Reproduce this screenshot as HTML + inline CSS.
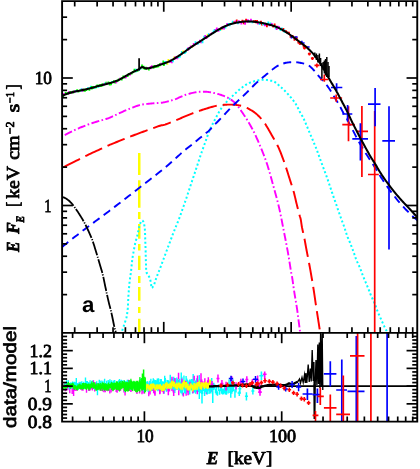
<!DOCTYPE html>
<html><head><meta charset="utf-8"><title>Spectrum</title>
<style>
html,body{margin:0;padding:0;background:#fff;}
body{width:420px;height:469px;overflow:hidden;font-family:"Liberation Sans",sans-serif;}
svg text{fill:#000;text-rendering:geometricPrecision;}
svg{will-change:transform;opacity:0.999;}
</style></head><body>
<svg width="420" height="469" viewBox="0 0 420 469" style="display:block">
<rect width="420" height="469" fill="#fff"/>
<defs><clipPath id="cu"><rect x="62.1" y="1.15" width="355.15" height="331.75"/></clipPath>
<clipPath id="cl"><rect x="62.1" y="332.9" width="355.15" height="88.7"/></clipPath></defs>
<g clip-path="url(#cu)">
<line x1="139.25" y1="153.1" x2="139.25" y2="174.9" stroke="#ffff00" stroke-width="2.5"/>
<line x1="139.25" y1="180.2" x2="139.25" y2="207.8" stroke="#ffff00" stroke-width="2.5"/>
<line x1="139.25" y1="212" x2="139.25" y2="218.9" stroke="#ffff00" stroke-width="2.5"/>
<line x1="139.25" y1="224" x2="139.25" y2="238.8" stroke="#ffff00" stroke-width="2.5"/>
<line x1="139.25" y1="244" x2="139.25" y2="250.4" stroke="#ffff00" stroke-width="2.5"/>
<line x1="139.25" y1="255.8" x2="139.25" y2="269.9" stroke="#ffff00" stroke-width="2.5"/>
<line x1="139.25" y1="275.9" x2="139.25" y2="283" stroke="#ffff00" stroke-width="2.5"/>
<line x1="139.25" y1="287.1" x2="139.25" y2="300.8" stroke="#ffff00" stroke-width="2.5"/>
<line x1="139.25" y1="306.9" x2="139.25" y2="312.9" stroke="#ffff00" stroke-width="2.5"/>
<line x1="139.25" y1="318.8" x2="139.25" y2="334" stroke="#ffff00" stroke-width="2.5"/>
<path d="M121.3 335 L121.38 334.57 L121.5 333.96 L121.64 333.25 L121.79 332.49 L121.95 331.75 L122.1 331.1 L122.25 330.53 L122.41 330 L122.58 329.48 L122.74 328.97 L122.92 328.45 L123.1 327.9 L123.29 327.33 L123.48 326.76 L123.67 326.17 L123.88 325.57 L124.09 324.95 L124.3 324.3 L124.52 323.62 L124.76 322.92 L125 322.19 L125.24 321.46 L125.48 320.72 L125.7 320 L125.92 319.28 L126.14 318.57 L126.36 317.85 L126.56 317.13 L126.74 316.42 L126.9 315.7 L127.02 314.99 L127.12 314.27 L127.19 313.56 L127.26 312.85 L127.32 312.13 L127.4 311.4 L127.49 310.66 L127.58 309.91 L127.67 309.15 L127.76 308.39 L127.83 307.64 L127.9 306.9 L127.95 306.18 L127.99 305.47 L128.02 304.76 L128.04 304.06 L128.07 303.34 L128.1 302.6 L128.13 301.84 L128.16 301.05 L128.19 300.25 L128.23 299.45 L128.26 298.66 L128.3 297.9 L128.34 297.16 L128.39 296.44 L128.44 295.72 L128.5 295.02 L128.55 294.31 L128.6 293.6 L128.65 292.88 L128.7 292.17 L128.74 291.45 L128.79 290.73 L128.84 290.02 L128.9 289.3 L128.96 288.58 L129.03 287.87 L129.09 287.15 L129.16 286.43 L129.23 285.72 L129.3 285 L129.36 284.28 L129.43 283.57 L129.49 282.85 L129.55 282.13 L129.62 281.42 L129.7 280.7 L129.79 279.99 L129.88 279.28 L129.98 278.57 L130.09 277.86 L130.19 277.14 L130.3 276.4 L130.41 275.63 L130.54 274.84 L130.66 274.04 L130.79 273.24 L130.9 272.46 L131 271.7 L131.08 270.98 L131.15 270.28 L131.21 269.59 L131.27 268.91 L131.33 268.22 L131.4 267.5 L131.48 266.75 L131.56 265.99 L131.64 265.21 L131.73 264.43 L131.82 263.65 L131.9 262.9 L131.98 262.17 L132.06 261.44 L132.14 260.73 L132.22 260.02 L132.31 259.31 L132.4 258.6 L132.5 257.88 L132.61 257.17 L132.73 256.45 L132.85 255.73 L132.98 255.02 L133.1 254.3 L133.23 253.58 L133.36 252.87 L133.49 252.15 L133.63 251.43 L133.77 250.72 L133.9 250 L134.03 249.28 L134.16 248.57 L134.29 247.85 L134.42 247.13 L134.56 246.42 L134.7 245.7 L134.85 244.99 L135 244.29 L135.16 243.59 L135.33 242.88 L135.51 242.15 L135.7 241.4 L135.91 240.62 L136.14 239.83 L136.39 239.03 L136.63 238.2 L136.87 237.36 L137.1 236.5 L137.31 235.62 L137.51 234.71 L137.71 233.79 L137.9 232.86 L138.1 231.92 L138.3 231 L138.51 230.07 L138.72 229.11 L138.94 228.16 L139.16 227.22 L139.38 226.33 L139.6 225.5 L139.83 224.71 L140.07 223.94 L140.31 223.22 L140.55 222.56 L140.78 221.98 L141 221.5 L141.2 221.14 L141.39 220.87 L141.57 220.69 L141.74 220.57 L141.92 220.52 L142.1 220.5 L142.29 220.54 L142.48 220.64 L142.67 220.81 L142.86 221.01 L143.03 221.25 L143.2 221.5 L143.35 221.76 L143.49 222.04 L143.62 222.34 L143.75 222.7 L143.88 223.11 L144 223.6 L144.13 224.19 L144.26 224.87 L144.38 225.62 L144.5 226.39 L144.61 227.16 L144.7 227.9 L144.77 228.55 L144.83 229.12 L144.88 229.69 L144.91 230.33 L144.95 231.11 L145 232.1 L145.05 233.36 L145.1 234.85 L145.15 236.47 L145.2 238.16 L145.25 239.83 L145.3 241.4 L145.35 242.87 L145.4 244.32 L145.46 245.74 L145.51 247.16 L145.56 248.57 L145.6 250 L145.64 251.43 L145.67 252.86 L145.7 254.29 L145.73 255.72 L145.76 257.16 L145.8 258.6 L145.85 260.1 L145.9 261.67 L145.95 263.25 L146 264.77 L146.05 266.17 L146.1 267.4 L146.12 268.43 L146.11 269.3 L146.09 270.05 L146.1 270.73 L146.16 271.36 L146.3 272 L146.53 272.6 L146.84 273.14 L147.2 273.63 L147.58 274.12 L147.96 274.63 L148.3 275.2 L148.62 275.83 L148.95 276.5 L149.27 277.19 L149.57 277.9 L149.85 278.61 L150.1 279.3 L150.31 279.98 L150.48 280.66 L150.63 281.33 L150.76 282.01 L150.88 282.7 L151 283.4 L151.09 284.18 L151.16 285.05 L151.21 285.93 L151.27 286.74 L151.36 287.39 L151.5 287.8 L151.69 287.96 L151.91 287.92 L152.17 287.73 L152.44 287.41 L152.72 287.03 L153 286.6 L153.29 286.1 L153.59 285.49 L153.91 284.79 L154.22 284.06 L154.52 283.32 L154.8 282.6 L155.06 281.9 L155.29 281.18 L155.52 280.45 L155.74 279.72 L155.97 279 L156.2 278.3 L156.42 277.66 L156.63 277.1 L156.84 276.54 L157.07 275.93 L157.35 275.2 L157.7 274.3 L158.14 273.19 L158.65 271.9 L159.21 270.51 L159.79 269.05 L160.36 267.6 L160.9 266.2 L161.41 264.85 L161.92 263.49 L162.42 262.13 L162.91 260.78 L163.41 259.43 L163.9 258.1 L164.39 256.79 L164.86 255.5 L165.34 254.23 L165.81 252.94 L166.3 251.64 L166.8 250.3 L167.32 248.92 L167.85 247.5 L168.39 246.06 L168.94 244.61 L169.47 243.19 L170 241.8 L170.51 240.45 L171.01 239.11 L171.51 237.79 L172.01 236.49 L172.5 235.19 L173 233.9 L173.5 232.62 L173.99 231.35 L174.49 230.09 L174.99 228.84 L175.49 227.57 L176 226.3 L176.52 225.03 L177.05 223.76 L177.59 222.49 L178.13 221.2 L178.66 219.87 L179.2 218.5 L179.73 217.07 L180.27 215.59 L180.8 214.08 L181.33 212.55 L181.87 211.02 L182.4 209.5 L182.93 207.99 L183.47 206.49 L184 204.99 L184.53 203.47 L185.07 201.95 L185.6 200.4 L186.13 198.83 L186.67 197.24 L187.2 195.63 L187.73 194.02 L188.27 192.41 L188.8 190.8 L189.33 189.2 L189.87 187.6 L190.4 186 L190.93 184.4 L191.47 182.8 L192 181.2 L192.53 179.6 L193.07 178 L193.6 176.4 L194.13 174.8 L194.67 173.2 L195.2 171.6 L195.73 170 L196.27 168.4 L196.8 166.8 L197.33 165.2 L197.87 163.6 L198.4 162 L198.93 160.39 L199.47 158.77 L200 157.16 L200.53 155.55 L201.07 153.96 L201.6 152.4 L202.13 150.88 L202.67 149.39 L203.2 147.91 L203.73 146.45 L204.27 144.98 L204.8 143.5 L205.34 141.98 L205.89 140.42 L206.43 138.86 L206.97 137.33 L207.5 135.86 L208 134.5 L208.46 133.28 L208.88 132.19 L209.28 131.16 L209.7 130.14 L210.16 129.08 L210.7 127.9 L211.31 126.63 L211.96 125.3 L212.66 123.93 L213.4 122.51 L214.18 121.03 L215 119.5 L215.87 117.86 L216.8 116.09 L217.76 114.27 L218.75 112.47 L219.73 110.75 L220.7 109.2 L221.63 107.83 L222.54 106.6 L223.46 105.45 L224.39 104.35 L225.36 103.25 L226.4 102.1 L227.51 100.91 L228.69 99.71 L229.91 98.51 L231.15 97.31 L232.39 96.14 L233.6 95 L234.79 93.88 L235.97 92.76 L237.15 91.67 L238.33 90.6 L239.51 89.58 L240.7 88.6 L241.88 87.66 L243.04 86.75 L244.21 85.88 L245.4 85.06 L246.62 84.3 L247.9 83.6 L249.26 82.97 L250.69 82.41 L252.15 81.9 L253.61 81.45 L255.04 81.05 L256.4 80.7 L257.68 80.4 L258.9 80.15 L260.09 79.96 L261.26 79.81 L262.42 79.73 L263.6 79.7 L264.82 79.75 L266.08 79.87 L267.33 80.05 L268.54 80.26 L269.68 80.49 L270.7 80.7 L271.51 80.82 L272.13 80.86 L272.67 80.91 L273.25 81.06 L273.99 81.43 L275 82.1 L276.35 83.14 L277.96 84.47 L279.72 86.01 L281.55 87.67 L283.34 89.37 L285 91 L286.59 92.66 L288.21 94.42 L289.79 96.22 L291.28 97.97 L292.62 99.59 L293.75 101 L294.62 102.15 L295.26 103.07 L295.75 103.87 L296.16 104.64 L296.59 105.45 L297.1 106.4 L297.7 107.54 L298.33 108.8 L298.97 110.12 L299.59 111.41 L300.18 112.59 L300.7 113.6 L301.13 114.35 L301.49 114.88 L301.81 115.31 L302.12 115.74 L302.47 116.3 L302.9 117.1 L303.41 118.15 L303.97 119.38 L304.56 120.73 L305.18 122.15 L305.8 123.59 L306.4 125 L306.99 126.39 L307.59 127.82 L308.19 129.26 L308.8 130.71 L309.4 132.16 L310 133.6 L310.6 135.02 L311.2 136.44 L311.81 137.85 L312.41 139.26 L313.01 140.68 L313.6 142.1 L314.19 143.51 L314.77 144.91 L315.35 146.31 L315.93 147.73 L316.51 149.18 L317.1 150.7 L317.69 152.29 L318.29 153.94 L318.89 155.64 L319.5 157.34 L320.1 159.04 L320.7 160.7 L321.31 162.35 L321.93 164 L322.55 165.65 L323.16 167.26 L323.75 168.82 L324.3 170.3 L324.81 171.67 L325.29 172.95 L325.74 174.17 L326.19 175.37 L326.64 176.6 L327.1 177.9 L327.58 179.26 L328.06 180.66 L328.54 182.09 L329.03 183.53 L329.52 184.97 L330 186.4 L330.48 187.84 L330.97 189.29 L331.46 190.74 L331.94 192.18 L332.42 193.61 L332.9 195 L333.37 196.35 L333.84 197.66 L334.3 198.96 L334.76 200.25 L335.23 201.56 L335.7 202.9 L336.18 204.29 L336.66 205.71 L337.15 207.15 L337.64 208.59 L338.12 210.01 L338.6 211.4 L339.07 212.75 L339.54 214.08 L340 215.39 L340.46 216.7 L340.93 218 L341.4 219.3 L341.88 220.6 L342.36 221.88 L342.85 223.16 L343.34 224.44 L343.82 225.75 L344.3 227.1 L344.77 228.5 L345.22 229.93 L345.68 231.39 L346.13 232.86 L346.61 234.3 L347.1 235.7 L347.62 237.05 L348.17 238.36 L348.73 239.66 L349.29 240.95 L349.85 242.26 L350.4 243.6 L350.94 244.99 L351.49 246.41 L352.03 247.85 L352.57 249.29 L353.09 250.71 L353.6 252.1 L354.08 253.45 L354.53 254.78 L354.98 256.09 L355.42 257.39 L355.89 258.69 L356.4 260 L356.96 261.32 L357.57 262.64 L358.19 263.96 L358.82 265.27 L359.43 266.59 L360 267.9 L360.53 269.24 L361.05 270.61 L361.54 271.98 L362.02 273.31 L362.47 274.56 L362.9 275.7 L363.28 276.66 L363.61 277.47 L363.92 278.19 L364.24 278.92 L364.59 279.73 L365 280.7 L365.48 281.85 L366.02 283.12 L366.59 284.48 L367.17 285.87 L367.75 287.26 L368.3 288.6 L368.82 289.9 L369.33 291.2 L369.83 292.5 L370.34 293.8 L370.86 295.1 L371.4 296.4 L371.98 297.71 L372.59 299.03 L373.21 300.35 L373.83 301.67 L374.43 302.99 L375 304.3 L375.52 305.6 L376 306.9 L376.46 308.2 L376.91 309.5 L377.39 310.8 L377.9 312.1 L378.45 313.41 L379.02 314.73 L379.61 316.04 L380.2 317.36 L380.8 318.68 L381.4 320 L382.01 321.37 L382.66 322.8 L383.3 324.23 L383.92 325.59 L384.5 326.84 L385 327.9 L385.42 328.74 L385.77 329.39 L386.08 329.92 L386.36 330.39 L386.63 330.86 L386.9 331.4 L387.19 332.04 L387.49 332.73 L387.77 333.42 L388.03 334.06 L388.24 334.61 L388.4 335" fill="none" stroke="#00ffff" stroke-width="2" stroke-dasharray="2 2.35"/>
<path d="M61 137 L60.99 137 L60.89 137.04 L60.75 137.1 L60.66 137.14 L60.67 137.13 L60.87 137.02 L61.32 136.79 L62.1 136.4 L63.26 135.81 L64.75 135.05 L66.5 134.15 L68.42 133.17 L70.46 132.15 L72.52 131.13 L74.52 130.16 L76.4 129.3 L78.19 128.51 L79.98 127.74 L81.76 127 L83.55 126.28 L85.34 125.57 L87.12 124.89 L88.91 124.24 L90.7 123.6 L92.55 122.98 L94.49 122.37 L96.47 121.77 L98.43 121.2 L100.32 120.66 L102.08 120.16 L103.66 119.7 L105 119.3 L106.04 118.98 L106.79 118.76 L107.34 118.6 L107.77 118.47 L108.17 118.34 L108.62 118.17 L109.2 117.94 L110 117.6 L111.01 117.15 L112.15 116.63 L113.38 116.04 L114.69 115.41 L116.03 114.77 L117.38 114.12 L118.72 113.49 L120 112.9 L121.25 112.34 L122.5 111.78 L123.75 111.23 L125 110.68 L126.25 110.14 L127.5 109.62 L128.75 109.1 L130 108.6 L131.25 108.1 L132.5 107.6 L133.75 107.1 L135 106.62 L136.25 106.16 L137.5 105.73 L138.75 105.34 L140 105 L141.25 104.71 L142.5 104.48 L143.75 104.28 L145 104.12 L146.25 103.98 L147.5 103.85 L148.75 103.73 L150 103.6 L151.28 103.48 L152.62 103.38 L153.97 103.29 L155.31 103.21 L156.62 103.14 L157.85 103.07 L158.99 102.99 L160 102.9 L160.83 102.82 L161.48 102.75 L162.02 102.7 L162.5 102.63 L162.98 102.55 L163.52 102.44 L164.17 102.3 L165 102.1 L166.01 101.86 L167.15 101.58 L168.38 101.26 L169.69 100.92 L171.03 100.55 L172.38 100.15 L173.72 99.74 L175 99.3 L176.25 98.82 L177.5 98.29 L178.75 97.72 L180 97.14 L181.25 96.55 L182.5 95.99 L183.75 95.47 L185 95 L186.27 94.58 L187.57 94.19 L188.88 93.82 L190.18 93.48 L191.46 93.16 L192.7 92.88 L193.89 92.62 L195 92.4 L196.03 92.21 L196.98 92.07 L197.87 91.95 L198.72 91.86 L199.56 91.8 L200.39 91.75 L201.23 91.72 L202.1 91.7 L203 91.69 L203.9 91.7 L204.8 91.72 L205.7 91.76 L206.6 91.82 L207.5 91.9 L208.4 91.99 L209.3 92.1 L210.2 92.23 L211.11 92.39 L212.03 92.57 L212.94 92.77 L213.84 92.97 L214.73 93.19 L215.58 93.4 L216.4 93.6 L217.17 93.79 L217.89 93.97 L218.57 94.15 L219.24 94.34 L219.91 94.54 L220.6 94.76 L221.33 95.01 L222.1 95.3 L222.94 95.63 L223.83 95.99 L224.76 96.38 L225.7 96.79 L226.64 97.22 L227.57 97.67 L228.46 98.13 L229.3 98.6 L230.09 99.08 L230.86 99.58 L231.61 100.1 L232.33 100.62 L233.03 101.17 L233.71 101.73 L234.36 102.31 L235 102.9 L235.6 103.51 L236.17 104.13 L236.72 104.77 L237.24 105.43 L237.75 106.1 L238.26 106.78 L238.77 107.48 L239.3 108.2 L239.85 108.96 L240.42 109.77 L241 110.61 L241.57 111.46 L242.13 112.3 L242.66 113.1 L243.15 113.84 L243.6 114.5 L243.98 115.06 L244.31 115.52 L244.6 115.93 L244.86 116.3 L245.12 116.66 L245.38 117.05 L245.67 117.49 L246 118 L246.36 118.58 L246.74 119.18 L247.13 119.81 L247.53 120.48 L247.95 121.17 L248.38 121.91 L248.83 122.68 L249.3 123.5 L249.79 124.36 L250.3 125.27 L250.84 126.23 L251.39 127.21 L251.94 128.23 L252.5 129.27 L253.06 130.33 L253.6 131.4 L254.14 132.49 L254.68 133.61 L255.22 134.75 L255.76 135.92 L256.29 137.1 L256.83 138.29 L257.37 139.49 L257.9 140.7 L258.43 141.91 L258.95 143.12 L259.48 144.34 L260 145.57 L260.52 146.82 L261.05 148.09 L261.57 149.38 L262.1 150.7 L262.64 152.07 L263.2 153.5 L263.77 154.96 L264.33 156.44 L264.89 157.92 L265.42 159.36 L265.93 160.77 L266.4 162.1 L266.82 163.34 L267.21 164.49 L267.56 165.58 L267.89 166.66 L268.22 167.74 L268.56 168.87 L268.91 170.08 L269.3 171.4 L269.72 172.84 L270.15 174.37 L270.6 175.98 L271.06 177.63 L271.53 179.31 L271.99 181 L272.45 182.67 L272.9 184.3 L273.35 185.91 L273.8 187.54 L274.25 189.16 L274.69 190.79 L275.14 192.4 L275.57 193.99 L275.99 195.56 L276.4 197.1 L276.8 198.61 L277.19 200.1 L277.57 201.57 L277.94 203.03 L278.3 204.45 L278.65 205.86 L278.98 207.24 L279.3 208.6 L279.6 209.94 L279.9 211.26 L280.17 212.56 L280.44 213.83 L280.69 215.08 L280.94 216.29 L281.17 217.47 L281.4 218.6 L281.61 219.64 L281.79 220.55 L281.95 221.4 L282.11 222.23 L282.27 223.1 L282.45 224.04 L282.65 225.13 L282.9 226.4 L283.19 227.87 L283.51 229.49 L283.85 231.22 L284.21 233.06 L284.59 234.95 L284.96 236.87 L285.34 238.8 L285.7 240.7 L286.06 242.6 L286.43 244.53 L286.8 246.48 L287.17 248.46 L287.54 250.45 L287.9 252.44 L288.26 254.43 L288.6 256.4 L288.94 258.44 L289.29 260.58 L289.63 262.76 L289.97 264.92 L290.29 267 L290.59 268.93 L290.86 270.65 L291.1 272.1 L291.29 273.17 L291.43 273.87 L291.53 274.32 L291.62 274.64 L291.7 274.96 L291.8 275.4 L291.93 276.07 L292.1 277.1 L292.31 278.49 L292.56 280.13 L292.82 281.96 L293.1 283.93 L293.39 285.98 L293.69 288.06 L294 290.12 L294.3 292.1 L294.61 294.06 L294.94 296.06 L295.29 298.1 L295.63 300.14 L295.97 302.16 L296.3 304.14 L296.62 306.06 L296.9 307.9 L297.16 309.66 L297.4 311.36 L297.62 313.01 L297.82 314.62 L298.02 316.19 L298.22 317.72 L298.41 319.22 L298.6 320.7 L298.8 322.19 L298.99 323.69 L299.19 325.18 L299.38 326.62 L299.56 328 L299.73 329.27 L299.87 330.42 L300 331.4 L300.1 332.21 L300.18 332.88 L300.24 333.43 L300.29 333.87 L300.32 334.23 L300.35 334.52 L300.38 334.77 L300.4 335" fill="none" stroke="#ff00ff" stroke-width="1.9" stroke-dasharray="8.1 2.4 1.6 2.5" stroke-dashoffset="9.63"/>
<path d="M61 168.5 L60.99 168.5 L60.89 168.55 L60.75 168.61 L60.66 168.65 L60.67 168.63 L60.87 168.53 L61.32 168.29 L62.1 167.9 L63.26 167.32 L64.75 166.56 L66.5 165.68 L68.42 164.71 L70.46 163.68 L72.52 162.65 L74.52 161.64 L76.4 160.7 L78.19 159.8 L79.98 158.9 L81.76 158 L83.55 157.11 L85.34 156.21 L87.12 155.33 L88.91 154.46 L90.7 153.6 L92.55 152.73 L94.49 151.84 L96.47 150.94 L98.43 150.06 L100.32 149.21 L102.08 148.42 L103.66 147.71 L105 147.1 L106.04 146.61 L106.79 146.25 L107.34 145.97 L107.77 145.74 L108.17 145.54 L108.62 145.32 L109.2 145.05 L110 144.7 L111.01 144.28 L112.15 143.81 L113.38 143.32 L114.69 142.8 L116.03 142.27 L117.38 141.74 L118.72 141.21 L120 140.7 L121.25 140.2 L122.5 139.7 L123.75 139.19 L125 138.69 L126.25 138.19 L127.5 137.69 L128.75 137.19 L130 136.7 L131.25 136.21 L132.5 135.73 L133.75 135.25 L135 134.78 L136.25 134.3 L137.5 133.83 L138.75 133.36 L140 132.9 L141.25 132.44 L142.5 131.99 L143.75 131.54 L145 131.09 L146.25 130.64 L147.5 130.2 L148.75 129.75 L150 129.3 L151.28 128.83 L152.62 128.34 L153.97 127.84 L155.31 127.34 L156.62 126.87 L157.85 126.42 L158.99 126.03 L160 125.7 L160.83 125.46 L161.48 125.31 L162.02 125.23 L162.5 125.17 L162.98 125.11 L163.52 125.01 L164.17 124.85 L165 124.6 L166.01 124.25 L167.15 123.83 L168.38 123.36 L169.69 122.85 L171.03 122.31 L172.38 121.77 L173.72 121.23 L175 120.7 L176.25 120.18 L177.5 119.65 L178.75 119.1 L180 118.56 L181.25 118.01 L182.5 117.46 L183.75 116.93 L185 116.4 L186.25 115.88 L187.5 115.36 L188.75 114.85 L190 114.34 L191.25 113.84 L192.5 113.35 L193.75 112.87 L195 112.4 L196.25 111.94 L197.5 111.5 L198.75 111.06 L200 110.63 L201.25 110.21 L202.5 109.8 L203.75 109.4 L205 109 L206.27 108.6 L207.57 108.2 L208.88 107.8 L210.18 107.41 L211.46 107.03 L212.7 106.69 L213.89 106.37 L215 106.1 L216.03 105.87 L216.98 105.68 L217.87 105.52 L218.72 105.39 L219.56 105.28 L220.39 105.18 L221.23 105.09 L222.1 105 L223 104.91 L223.9 104.83 L224.8 104.76 L225.7 104.71 L226.6 104.66 L227.5 104.63 L228.4 104.61 L229.3 104.6 L230.19 104.6 L231.08 104.62 L231.97 104.65 L232.85 104.69 L233.73 104.74 L234.62 104.81 L235.51 104.9 L236.4 105 L237.3 105.11 L238.2 105.23 L239.11 105.36 L240.02 105.51 L240.92 105.68 L241.83 105.89 L242.72 106.12 L243.6 106.4 L244.47 106.72 L245.35 107.09 L246.21 107.5 L247.07 107.93 L247.93 108.39 L248.77 108.85 L249.59 109.33 L250.4 109.8 L251.18 110.26 L251.94 110.71 L252.69 111.17 L253.42 111.64 L254.15 112.13 L254.88 112.67 L255.63 113.25 L256.4 113.9 L257.2 114.62 L258.04 115.42 L258.9 116.27 L259.76 117.16 L260.61 118.06 L261.42 118.96 L262.19 119.85 L262.9 120.7 L263.53 121.5 L264.09 122.28 L264.61 123.03 L265.09 123.79 L265.57 124.56 L266.05 125.35 L266.55 126.2 L267.1 127.1 L267.69 128.08 L268.31 129.12 L268.95 130.21 L269.59 131.32 L270.24 132.45 L270.88 133.57 L271.5 134.66 L272.1 135.7 L272.68 136.71 L273.26 137.71 L273.83 138.69 L274.38 139.66 L274.92 140.61 L275.44 141.54 L275.93 142.43 L276.4 143.3 L276.82 144.1 L277.21 144.84 L277.56 145.53 L277.89 146.2 L278.22 146.89 L278.56 147.61 L278.91 148.41 L279.3 149.3 L279.72 150.29 L280.15 151.35 L280.6 152.48 L281.06 153.64 L281.53 154.84 L281.99 156.06 L282.45 157.29 L282.9 158.5 L283.34 159.71 L283.78 160.93 L284.22 162.16 L284.65 163.41 L285.08 164.68 L285.52 165.96 L285.96 167.27 L286.4 168.6 L286.85 169.96 L287.29 171.36 L287.74 172.78 L288.19 174.22 L288.65 175.67 L289.1 177.12 L289.55 178.57 L290 180 L290.46 181.42 L290.92 182.85 L291.39 184.27 L291.85 185.69 L292.31 187.12 L292.76 188.54 L293.19 189.97 L293.6 191.4 L293.99 192.83 L294.35 194.27 L294.7 195.71 L295.04 197.15 L295.38 198.59 L295.71 200.03 L296.05 201.47 L296.4 202.9 L296.77 204.37 L297.15 205.91 L297.55 207.46 L297.94 209.01 L298.32 210.5 L298.68 211.9 L299.01 213.18 L299.3 214.3 L299.55 215.21 L299.76 215.92 L299.93 216.49 L300.09 216.97 L300.24 217.44 L300.39 217.95 L300.54 218.55 L300.7 219.3 L300.87 220.19 L301.03 221.16 L301.19 222.2 L301.35 223.29 L301.52 224.41 L301.69 225.57 L301.89 226.73 L302.1 227.9 L302.34 229.07 L302.6 230.27 L302.87 231.49 L303.16 232.73 L303.45 233.99 L303.74 235.27 L304.02 236.57 L304.3 237.9 L304.57 239.26 L304.83 240.65 L305.09 242.07 L305.35 243.51 L305.61 244.96 L305.87 246.42 L306.13 247.87 L306.4 249.3 L306.67 250.73 L306.95 252.15 L307.22 253.58 L307.5 255 L307.78 256.43 L308.05 257.85 L308.33 259.27 L308.6 260.7 L308.86 262.09 L309.11 263.41 L309.36 264.72 L309.61 266.04 L309.86 267.4 L310.12 268.84 L310.4 270.4 L310.7 272.1 L311.03 273.99 L311.39 276.06 L311.76 278.25 L312.15 280.52 L312.54 282.81 L312.91 285.07 L313.27 287.25 L313.6 289.3 L313.9 291.23 L314.18 293.08 L314.44 294.87 L314.69 296.63 L314.94 298.36 L315.19 300.09 L315.44 301.83 L315.7 303.6 L315.97 305.39 L316.25 307.19 L316.52 309 L316.8 310.8 L317.08 312.6 L317.35 314.38 L317.63 316.15 L317.9 317.9 L318.18 319.69 L318.47 321.56 L318.77 323.46 L319.06 325.32 L319.33 327.1 L319.59 328.74 L319.81 330.19 L320 331.4 L320.14 332.35 L320.25 333.08 L320.33 333.63 L320.38 334.04 L320.42 334.35 L320.45 334.59 L320.47 334.79 L320.5 335" fill="none" stroke="#ff0000" stroke-width="1.95" stroke-dasharray="18.5 6.0" stroke-dashoffset="20.99"/>
<path d="M61 247.8 L61.04 247.77 L61.03 247.78 L61.01 247.81 L61.02 247.8 L61.12 247.73 L61.33 247.57 L61.71 247.27 L62.3 246.8 L63.1 246.16 L64.09 245.36 L65.22 244.44 L66.49 243.43 L67.85 242.33 L69.29 241.18 L70.78 239.99 L72.3 238.8 L73.88 237.57 L75.57 236.25 L77.35 234.88 L79.18 233.46 L81.05 232.03 L82.92 230.59 L84.78 229.18 L86.6 227.8 L88.37 226.47 L90.11 225.18 L91.84 223.9 L93.58 222.62 L95.33 221.33 L97.13 220 L98.98 218.63 L100.9 217.2 L102.87 215.73 L104.86 214.23 L106.89 212.71 L108.97 211.15 L111.11 209.54 L113.31 207.87 L115.61 206.12 L118 204.3 L120.51 202.37 L123.15 200.34 L125.89 198.23 L128.69 196.07 L131.53 193.87 L134.38 191.66 L137.21 189.46 L140 187.3 L142.84 185.1 L145.79 182.83 L148.78 180.51 L151.76 178.21 L154.64 175.97 L157.37 173.84 L159.88 171.87 L162.1 170.1 L163.98 168.57 L165.58 167.25 L166.95 166.08 L168.16 165.03 L169.29 164.03 L170.39 163.04 L171.54 162.01 L172.8 160.9 L174.14 159.71 L175.48 158.5 L176.82 157.28 L178.16 156.06 L179.49 154.84 L180.83 153.63 L182.17 152.45 L183.5 151.3 L184.83 150.19 L186.15 149.1 L187.48 148.05 L188.8 147 L190.12 145.96 L191.45 144.92 L192.77 143.87 L194.1 142.8 L195.48 141.68 L196.92 140.49 L198.39 139.28 L199.85 138.08 L201.26 136.92 L202.58 135.83 L203.77 134.84 L204.8 134 L205.62 133.34 L206.26 132.84 L206.77 132.46 L207.19 132.14 L207.58 131.85 L207.98 131.53 L208.43 131.13 L209 130.6 L209.66 129.96 L210.35 129.25 L211.07 128.49 L211.82 127.69 L212.59 126.86 L213.38 126.01 L214.19 125.15 L215 124.3 L215.86 123.42 L216.8 122.47 L217.77 121.49 L218.74 120.5 L219.7 119.54 L220.59 118.63 L221.41 117.81 L222.1 117.1 L222.62 116.56 L222.99 116.17 L223.24 115.9 L223.46 115.66 L223.68 115.41 L223.97 115.09 L224.39 114.64 L225 114 L225.78 113.17 L226.68 112.2 L227.68 111.13 L228.77 109.97 L229.92 108.76 L231.12 107.51 L232.35 106.25 L233.6 105 L234.89 103.75 L236.25 102.46 L237.67 101.14 L239.12 99.8 L240.6 98.44 L242.08 97.06 L243.56 95.68 L245 94.3 L246.41 92.9 L247.81 91.49 L249.21 90.05 L250.61 88.61 L252.02 87.16 L253.44 85.72 L254.9 84.3 L256.4 82.9 L257.99 81.48 L259.69 80.01 L261.44 78.53 L263.21 77.07 L264.92 75.66 L266.55 74.34 L268.02 73.14 L269.3 72.1 L270.37 71.22 L271.26 70.49 L272.03 69.87 L272.69 69.34 L273.28 68.87 L273.84 68.44 L274.4 68.03 L275 67.6 L275.59 67.18 L276.12 66.81 L276.61 66.47 L277.09 66.16 L277.57 65.86 L278.09 65.58 L278.66 65.29 L279.3 65 L280.02 64.7 L280.79 64.39 L281.6 64.08 L282.44 63.78 L283.32 63.5 L284.21 63.24 L285.1 63 L286 62.8 L286.92 62.63 L287.86 62.49 L288.84 62.37 L289.82 62.27 L290.8 62.19 L291.76 62.14 L292.7 62.11 L293.6 62.1 L294.45 62.11 L295.25 62.14 L296.02 62.19 L296.78 62.27 L297.54 62.37 L298.32 62.49 L299.14 62.63 L300 62.8 L300.93 62.98 L301.92 63.18 L302.95 63.39 L303.99 63.63 L305.03 63.9 L306.04 64.22 L307.01 64.58 L307.9 65 L308.71 65.47 L309.45 65.97 L310.14 66.52 L310.8 67.11 L311.46 67.75 L312.13 68.45 L312.84 69.19 L313.6 70 L314.45 70.93 L315.38 72 L316.35 73.16 L317.34 74.35 L318.3 75.53 L319.2 76.63 L320.01 77.6 L320.7 78.4 L321.24 78.99 L321.66 79.41 L322 79.72 L322.27 79.94 L322.51 80.14 L322.76 80.35 L323.05 80.62 L323.4 81 L323.8 81.46 L324.23 81.96 L324.67 82.49 L325.12 83.04 L325.58 83.63 L326.05 84.23 L326.52 84.86 L327 85.5 L327.48 86.16 L327.96 86.85 L328.46 87.55 L328.96 88.28 L329.46 89.03 L329.97 89.8 L330.48 90.59 L331 91.4 L331.52 92.24 L332.06 93.12 L332.59 94.02 L333.14 94.94 L333.68 95.86 L334.23 96.79 L334.77 97.71 L335.3 98.6 L335.83 99.47 L336.36 100.33 L336.9 101.18 L337.43 102.03 L337.95 102.88 L338.47 103.74 L338.99 104.61 L339.5 105.5 L340 106.41 L340.49 107.34 L340.97 108.27 L341.44 109.22 L341.92 110.17 L342.4 111.12 L342.9 112.06 L343.4 113 L343.88 113.85 L344.31 114.57 L344.72 115.25 L345.16 115.94 L345.64 116.74 L346.2 117.69 L346.88 118.89 L347.7 120.4 L348.73 122.34 L349.96 124.7 L351.32 127.34 L352.76 130.13 L354.2 132.92 L355.58 135.59 L356.83 137.99 L357.9 140 L358.79 141.64 L359.58 143.04 L360.28 144.25 L360.91 145.31 L361.47 146.23 L361.98 147.07 L362.45 147.84 L362.9 148.6 L363.28 149.24 L363.54 149.71 L363.74 150.05 L363.91 150.33 L364.08 150.62 L364.29 150.96 L364.59 151.44 L365 152.1 L365.55 152.96 L366.19 153.98 L366.9 155.1 L367.67 156.29 L368.46 157.52 L369.24 158.74 L370 159.91 L370.7 161 L371.37 162.03 L372.05 163.05 L372.72 164.06 L373.38 165.04 L374.01 166 L374.61 166.91 L375.18 167.78 L375.7 168.6 L376.12 169.3 L376.44 169.85 L376.7 170.32 L376.93 170.78 L377.19 171.27 L377.53 171.86 L377.98 172.62 L378.6 173.6 L379.39 174.84 L380.33 176.28 L381.37 177.89 L382.49 179.59 L383.66 181.35 L384.84 183.11 L385.99 184.81 L387.1 186.4 L388.17 187.91 L389.24 189.4 L390.32 190.87 L391.39 192.33 L392.47 193.75 L393.55 195.16 L394.62 196.54 L395.7 197.9 L396.77 199.23 L397.85 200.54 L398.93 201.83 L400 203.09 L401.07 204.33 L402.15 205.54 L403.22 206.73 L404.3 207.9 L405.41 209.07 L406.55 210.25 L407.72 211.41 L408.88 212.55 L410 213.64 L411.06 214.65 L412.04 215.58 L412.9 216.4 L413.65 217.1 L414.3 217.68 L414.88 218.18 L415.39 218.61 L415.85 218.98 L416.28 219.33 L416.69 219.66 L417.1 220 L417.5 220.34 L417.88 220.66 L418.24 220.96 L418.56 221.22 L418.85 221.47 L419.11 221.68 L419.33 221.86 L419.5 222" fill="none" stroke="#0000ff" stroke-width="1.9" stroke-dasharray="8.0 5.1" stroke-dashoffset="11.66"/>
<path d="M62.3 196.9 L62.63 197.04 L63.07 197.22 L63.6 197.43 L64.18 197.67 L64.8 197.94 L65.42 198.23 L66.03 198.55 L66.6 198.9 L67.14 199.27 L67.68 199.67 L68.22 200.09 L68.76 200.54 L69.29 201.02 L69.83 201.52 L70.37 202.05 L70.9 202.6 L71.43 203.18 L71.95 203.79 L72.48 204.42 L73 205.08 L73.52 205.76 L74.05 206.46 L74.57 207.17 L75.1 207.9 L75.63 208.64 L76.17 209.41 L76.71 210.19 L77.24 210.99 L77.78 211.8 L78.32 212.63 L78.86 213.46 L79.4 214.3 L79.94 215.14 L80.48 215.99 L81.01 216.85 L81.55 217.71 L82.09 218.6 L82.63 219.5 L83.16 220.44 L83.7 221.4 L84.24 222.39 L84.78 223.41 L85.31 224.45 L85.85 225.52 L86.39 226.61 L86.92 227.72 L87.46 228.85 L88 230 L88.54 231.17 L89.08 232.35 L89.63 233.55 L90.18 234.78 L90.72 236.03 L91.25 237.31 L91.78 238.64 L92.3 240 L92.81 241.43 L93.32 242.94 L93.83 244.51 L94.33 246.09 L94.82 247.68 L95.3 249.25 L95.76 250.76 L96.2 252.2 L96.61 253.55 L97 254.83 L97.37 256.05 L97.73 257.26 L98.08 258.46 L98.44 259.68 L98.81 260.96 L99.2 262.3 L99.62 263.72 L100.06 265.18 L100.52 266.69 L100.97 268.22 L101.43 269.77 L101.88 271.32 L102.3 272.87 L102.7 274.4 L103.06 275.91 L103.4 277.4 L103.72 278.88 L104.02 280.37 L104.33 281.87 L104.64 283.41 L104.96 284.98 L105.3 286.6 L105.66 288.29 L106.04 290.06 L106.43 291.87 L106.82 293.71 L107.22 295.54 L107.62 297.35 L108.01 299.11 L108.4 300.8 L108.78 302.4 L109.16 303.92 L109.53 305.4 L109.91 306.85 L110.28 308.3 L110.65 309.78 L111.03 311.3 L111.4 312.9 L111.79 314.65 L112.2 316.55 L112.61 318.54 L113.03 320.53 L113.42 322.46 L113.79 324.25 L114.12 325.82 L114.4 327.1 L114.62 328.05 L114.8 328.73 L114.93 329.2 L115.04 329.52 L115.13 329.76 L115.21 330 L115.3 330.29 L115.4 330.7 L115.52 331.23 L115.63 331.83 L115.75 332.45 L115.86 333.07 L115.97 333.67 L116.06 334.21 L116.14 334.66 L116.2 335" fill="none" stroke="#000" stroke-width="1.8" stroke-dasharray="14.4 1.4 1.2 1.4" stroke-dashoffset="18.19"/>
<line x1="63" y1="95.22" x2="63" y2="97.73" stroke="#00ff00" stroke-width="1.8"/>
<line x1="63.94" y1="92.89" x2="63.94" y2="95.74" stroke="#ff00ff" stroke-width="1.8"/>
<line x1="65.66" y1="92.1" x2="65.66" y2="94.69" stroke="#00ff00" stroke-width="1.8"/>
<line x1="66.63" y1="93.05" x2="66.63" y2="94.95" stroke="#00ff00" stroke-width="1.8"/>
<line x1="68.03" y1="92.17" x2="68.03" y2="95.02" stroke="#00ff00" stroke-width="1.8"/>
<line x1="68.99" y1="91.02" x2="68.99" y2="94.57" stroke="#ff00ff" stroke-width="1.8"/>
<line x1="69.93" y1="91.27" x2="69.93" y2="93.33" stroke="#00ff00" stroke-width="1.8"/>
<line x1="70.94" y1="91.06" x2="70.94" y2="94.08" stroke="#00ff00" stroke-width="1.8"/>
<line x1="71.93" y1="91.25" x2="71.93" y2="93.72" stroke="#ff00ff" stroke-width="1.8"/>
<line x1="73.32" y1="90.58" x2="73.32" y2="93.49" stroke="#00ff00" stroke-width="1.8"/>
<line x1="74.67" y1="90.3" x2="74.67" y2="92.67" stroke="#ff00ff" stroke-width="1.8"/>
<line x1="76.1" y1="89.95" x2="76.1" y2="92.19" stroke="#00ffff" stroke-width="1.8"/>
<line x1="77.16" y1="89.13" x2="77.16" y2="91.47" stroke="#00ff00" stroke-width="1.8"/>
<line x1="78.5" y1="90.17" x2="78.5" y2="92.48" stroke="#00ff00" stroke-width="1.8"/>
<line x1="80.29" y1="89.47" x2="80.29" y2="91.56" stroke="#00ff00" stroke-width="1.8"/>
<line x1="81.49" y1="88.33" x2="81.49" y2="91.86" stroke="#00ffff" stroke-width="1.8"/>
<line x1="82.46" y1="88.51" x2="82.46" y2="91.89" stroke="#ff00ff" stroke-width="1.8"/>
<line x1="83.65" y1="88.59" x2="83.65" y2="91.43" stroke="#00ff00" stroke-width="1.8"/>
<line x1="84.96" y1="89.12" x2="84.96" y2="91.78" stroke="#00ff00" stroke-width="1.8"/>
<line x1="86.46" y1="88.54" x2="86.46" y2="90.89" stroke="#00ff00" stroke-width="1.8"/>
<line x1="87.88" y1="87.26" x2="87.88" y2="89.76" stroke="#00ffff" stroke-width="1.8"/>
<line x1="89.38" y1="88.24" x2="89.38" y2="90.68" stroke="#00ff00" stroke-width="1.8"/>
<line x1="90.83" y1="85.72" x2="90.83" y2="88.9" stroke="#00ffff" stroke-width="1.8"/>
<line x1="91.84" y1="85.98" x2="91.84" y2="89.43" stroke="#00ff00" stroke-width="1.8"/>
<line x1="93.19" y1="86.01" x2="93.19" y2="88.8" stroke="#00ff00" stroke-width="1.8"/>
<line x1="94.89" y1="86.57" x2="94.89" y2="88.87" stroke="#00ffff" stroke-width="1.8"/>
<line x1="96.16" y1="85.72" x2="96.16" y2="88.21" stroke="#00ff00" stroke-width="1.8"/>
<line x1="97.27" y1="84.51" x2="97.27" y2="86.73" stroke="#00ff00" stroke-width="1.8"/>
<line x1="98.38" y1="85.55" x2="98.38" y2="87.68" stroke="#00ffff" stroke-width="1.8"/>
<line x1="99.53" y1="84.25" x2="99.53" y2="86.71" stroke="#00ff00" stroke-width="1.8"/>
<line x1="100.94" y1="84.3" x2="100.94" y2="87.03" stroke="#00ff00" stroke-width="1.8"/>
<line x1="102.4" y1="83.17" x2="102.4" y2="86.53" stroke="#00ff00" stroke-width="1.8"/>
<line x1="104.15" y1="83.06" x2="104.15" y2="85.58" stroke="#ff00ff" stroke-width="1.8"/>
<line x1="105.15" y1="82.47" x2="105.15" y2="84.39" stroke="#00ffff" stroke-width="1.8"/>
<line x1="106.23" y1="81.84" x2="106.23" y2="84.72" stroke="#00ff00" stroke-width="1.8"/>
<line x1="107.23" y1="82.13" x2="107.23" y2="84.12" stroke="#ff00ff" stroke-width="1.8"/>
<line x1="108.45" y1="81.58" x2="108.45" y2="83.75" stroke="#00ff00" stroke-width="1.8"/>
<line x1="109.69" y1="82.66" x2="109.69" y2="85.54" stroke="#00ff00" stroke-width="1.8"/>
<line x1="111.02" y1="81.71" x2="111.02" y2="85.29" stroke="#00ff00" stroke-width="1.8"/>
<line x1="112.34" y1="80.97" x2="112.34" y2="83.03" stroke="#00ffff" stroke-width="1.8"/>
<line x1="113.91" y1="80.24" x2="113.91" y2="83.29" stroke="#00ff00" stroke-width="1.8"/>
<line x1="115.28" y1="80.82" x2="115.28" y2="83.58" stroke="#00ff00" stroke-width="1.8"/>
<line x1="116.31" y1="80.17" x2="116.31" y2="83.34" stroke="#ff00ff" stroke-width="1.8"/>
<line x1="117.48" y1="79.75" x2="117.48" y2="82.02" stroke="#00ff00" stroke-width="1.8"/>
<line x1="118.71" y1="78.56" x2="118.71" y2="80.76" stroke="#00ff00" stroke-width="1.8"/>
<line x1="120.09" y1="77.81" x2="120.09" y2="80.01" stroke="#ff00ff" stroke-width="1.8"/>
<line x1="121.73" y1="77.33" x2="121.73" y2="80.6" stroke="#00ff00" stroke-width="1.8"/>
<line x1="123.29" y1="75.51" x2="123.29" y2="78.2" stroke="#00ff00" stroke-width="1.8"/>
<line x1="124.85" y1="75.8" x2="124.85" y2="78.45" stroke="#00ff00" stroke-width="1.8"/>
<line x1="125.92" y1="75.53" x2="125.92" y2="78.13" stroke="#ff00ff" stroke-width="1.8"/>
<line x1="127.67" y1="74.59" x2="127.67" y2="77.04" stroke="#00ff00" stroke-width="1.8"/>
<line x1="128.76" y1="73.02" x2="128.76" y2="75.43" stroke="#00ff00" stroke-width="1.8"/>
<line x1="130.1" y1="72.9" x2="130.1" y2="75.56" stroke="#ff00ff" stroke-width="1.8"/>
<line x1="131.59" y1="72.43" x2="131.59" y2="74.45" stroke="#00ff00" stroke-width="1.8"/>
<line x1="132.84" y1="71.04" x2="132.84" y2="73.16" stroke="#00ff00" stroke-width="1.8"/>
<line x1="134.45" y1="68.78" x2="134.45" y2="72.28" stroke="#00ff00" stroke-width="1.8"/>
<line x1="136" y1="68.66" x2="136" y2="72.16" stroke="#00ffff" stroke-width="1.8"/>
<line x1="137.55" y1="69.9" x2="137.55" y2="71.75" stroke="#00ff00" stroke-width="1.8"/>
<line x1="138.98" y1="68.66" x2="138.98" y2="70.73" stroke="#00ffff" stroke-width="1.8"/>
<line x1="140.62" y1="66.99" x2="140.62" y2="69.42" stroke="#00ffff" stroke-width="1.8"/>
<line x1="142.02" y1="64.54" x2="142.02" y2="67.78" stroke="#00ff00" stroke-width="1.8"/>
<line x1="143.57" y1="65.76" x2="143.57" y2="69.24" stroke="#00ff00" stroke-width="1.8"/>
<line x1="144.86" y1="67.64" x2="144.86" y2="69.82" stroke="#00ff00" stroke-width="1.8"/>
<line x1="145.99" y1="66.74" x2="145.99" y2="69.92" stroke="#00ff00" stroke-width="1.8"/>
<line x1="147.18" y1="67.2" x2="147.18" y2="69.24" stroke="#ff00ff" stroke-width="1.8"/>
<line x1="148.9" y1="67.45" x2="148.9" y2="70.44" stroke="#00ff00" stroke-width="1.8"/>
<line x1="150.54" y1="65.88" x2="150.54" y2="69.33" stroke="#ff00ff" stroke-width="1.8"/>
<line x1="151.89" y1="65.34" x2="151.89" y2="68.05" stroke="#ff00ff" stroke-width="1.8"/>
<line x1="153.57" y1="65.51" x2="153.57" y2="68.71" stroke="#00ff00" stroke-width="1.8"/>
<line x1="154.61" y1="64.97" x2="154.61" y2="68.07" stroke="#00ff00" stroke-width="1.8"/>
<line x1="156.01" y1="65.12" x2="156.01" y2="67.87" stroke="#00ff00" stroke-width="1.8"/>
<line x1="157.34" y1="65.51" x2="157.34" y2="67.41" stroke="#00ff00" stroke-width="1.8"/>
<line x1="158.41" y1="64.53" x2="158.41" y2="67.24" stroke="#00ff00" stroke-width="1.8"/>
<line x1="159.82" y1="63.3" x2="159.82" y2="66.2" stroke="#00ff00" stroke-width="1.8"/>
<line x1="161.17" y1="62.65" x2="161.17" y2="64.95" stroke="#ff00ff" stroke-width="1.8"/>
<line x1="162.53" y1="62.83" x2="162.53" y2="65.08" stroke="#00ffff" stroke-width="1.8"/>
<line x1="163.9" y1="62.61" x2="163.9" y2="66.02" stroke="#00ff00" stroke-width="1.8"/>
<line x1="164.99" y1="60.92" x2="164.99" y2="62.93" stroke="#00ffff" stroke-width="1.8"/>
<line x1="166.28" y1="61.86" x2="166.28" y2="64.44" stroke="#00ffff" stroke-width="1.8"/>
<line x1="167.37" y1="61.37" x2="167.37" y2="64.79" stroke="#ffff00" stroke-width="1.8"/>
<line x1="168.41" y1="58.89" x2="168.41" y2="62.28" stroke="#ffff00" stroke-width="1.8"/>
<line x1="170.18" y1="60.71" x2="170.18" y2="62.68" stroke="#ff00ff" stroke-width="1.8"/>
<line x1="171.88" y1="59.94" x2="171.88" y2="63.24" stroke="#ff00ff" stroke-width="1.8"/>
<line x1="172.93" y1="59.76" x2="172.93" y2="62.28" stroke="#00ffff" stroke-width="1.8"/>
<line x1="174.21" y1="56.56" x2="174.21" y2="59.66" stroke="#ffff00" stroke-width="1.8"/>
<line x1="175.12" y1="56.46" x2="175.12" y2="59.53" stroke="#ff00ff" stroke-width="1.8"/>
<line x1="176.37" y1="56.39" x2="176.37" y2="59.11" stroke="#ff00ff" stroke-width="1.8"/>
<line x1="177.33" y1="57.25" x2="177.33" y2="59.24" stroke="#ff00ff" stroke-width="1.8"/>
<line x1="178.47" y1="56.24" x2="178.47" y2="58.36" stroke="#00ffff" stroke-width="1.8"/>
<line x1="180.05" y1="54.58" x2="180.05" y2="57.6" stroke="#00ffff" stroke-width="1.8"/>
<line x1="181.8" y1="50.93" x2="181.8" y2="54.39" stroke="#00ffff" stroke-width="1.8"/>
<line x1="183.21" y1="50.51" x2="183.21" y2="52.42" stroke="#ffff00" stroke-width="1.8"/>
<line x1="184.73" y1="51.8" x2="184.73" y2="54.08" stroke="#00ffff" stroke-width="1.8"/>
<line x1="185.65" y1="51" x2="185.65" y2="52.95" stroke="#00ffff" stroke-width="1.8"/>
<line x1="187.32" y1="48.03" x2="187.32" y2="50.05" stroke="#00ffff" stroke-width="1.8"/>
<line x1="188.23" y1="47.15" x2="188.23" y2="50.6" stroke="#ff00ff" stroke-width="1.8"/>
<line x1="189.69" y1="47.09" x2="189.69" y2="49.32" stroke="#00ffff" stroke-width="1.8"/>
<line x1="190.68" y1="45.61" x2="190.68" y2="47.74" stroke="#ff00ff" stroke-width="1.8"/>
<line x1="192.42" y1="45.3" x2="192.42" y2="47.47" stroke="#ffff00" stroke-width="1.8"/>
<line x1="193.72" y1="43.07" x2="193.72" y2="46.32" stroke="#ff00ff" stroke-width="1.8"/>
<line x1="195.52" y1="41.16" x2="195.52" y2="44.28" stroke="#00ffff" stroke-width="1.8"/>
<line x1="196.92" y1="42.3" x2="196.92" y2="44.54" stroke="#ff00ff" stroke-width="1.8"/>
<line x1="198.22" y1="41.65" x2="198.22" y2="44.44" stroke="#00ffff" stroke-width="1.8"/>
<line x1="199.92" y1="39.74" x2="199.92" y2="41.93" stroke="#ff00ff" stroke-width="1.8"/>
<line x1="201.02" y1="40.27" x2="201.02" y2="43.34" stroke="#ff00ff" stroke-width="1.8"/>
<line x1="202.5" y1="39.57" x2="202.5" y2="43.14" stroke="#00ffff" stroke-width="1.8"/>
<line x1="204.15" y1="35.79" x2="204.15" y2="38.92" stroke="#00ffff" stroke-width="1.8"/>
<line x1="205.28" y1="35.08" x2="205.28" y2="38.08" stroke="#ff00ff" stroke-width="1.8"/>
<line x1="206.52" y1="36.6" x2="206.52" y2="38.91" stroke="#ff00ff" stroke-width="1.8"/>
<line x1="207.64" y1="33.97" x2="207.64" y2="36.11" stroke="#ffff00" stroke-width="1.8"/>
<line x1="208.78" y1="33.25" x2="208.78" y2="36.78" stroke="#00ffff" stroke-width="1.8"/>
<line x1="210.56" y1="33.15" x2="210.56" y2="35.01" stroke="#ff00ff" stroke-width="1.8"/>
<line x1="212.25" y1="32.2" x2="212.25" y2="34" stroke="#ff00ff" stroke-width="1.8"/>
<line x1="213.5" y1="30.55" x2="213.5" y2="33.53" stroke="#00ffff" stroke-width="1.8"/>
<line x1="214.62" y1="29.08" x2="214.62" y2="32.35" stroke="#00ffff" stroke-width="1.8"/>
<line x1="215.65" y1="28.98" x2="215.65" y2="30.82" stroke="#ff00ff" stroke-width="1.8"/>
<line x1="216.82" y1="27.55" x2="216.82" y2="31.07" stroke="#ff00ff" stroke-width="1.8"/>
<line x1="218.49" y1="28.6" x2="218.49" y2="31.69" stroke="#ff00ff" stroke-width="1.8"/>
<line x1="220.18" y1="28" x2="220.18" y2="31.1" stroke="#00ffff" stroke-width="1.8"/>
<line x1="221.53" y1="27.24" x2="221.53" y2="30.2" stroke="#ffff00" stroke-width="1.8"/>
<line x1="222.47" y1="26.37" x2="222.47" y2="29.49" stroke="#ff00ff" stroke-width="1.8"/>
<line x1="224.1" y1="26.46" x2="224.1" y2="29.61" stroke="#ff00ff" stroke-width="1.8"/>
<line x1="225.51" y1="25.69" x2="225.51" y2="28.54" stroke="#00ffff" stroke-width="1.8"/>
<line x1="227.21" y1="23.08" x2="227.21" y2="24.95" stroke="#ff00ff" stroke-width="1.8"/>
<line x1="228.69" y1="23.07" x2="228.69" y2="25.68" stroke="#00ffff" stroke-width="1.8"/>
<line x1="229.63" y1="23.32" x2="229.63" y2="26.35" stroke="#00ffff" stroke-width="1.8"/>
<line x1="230.97" y1="22.89" x2="230.97" y2="24.81" stroke="#00ffff" stroke-width="1.8"/>
<line x1="232.71" y1="20.82" x2="232.71" y2="23.57" stroke="#00ffff" stroke-width="1.8"/>
<line x1="234.28" y1="21.36" x2="234.28" y2="23.29" stroke="#ff0000" stroke-width="1.8"/>
<line x1="235.42" y1="20.53" x2="235.42" y2="23.5" stroke="#ff00ff" stroke-width="1.8"/>
<line x1="236.74" y1="19.55" x2="236.74" y2="22.99" stroke="#ff0000" stroke-width="1.8"/>
<line x1="237.89" y1="21.32" x2="237.89" y2="24.28" stroke="#00ffff" stroke-width="1.8"/>
<line x1="238.86" y1="20.25" x2="238.86" y2="23.22" stroke="#ff00ff" stroke-width="1.8"/>
<line x1="240.39" y1="21.35" x2="240.39" y2="23.17" stroke="#00ffff" stroke-width="1.8"/>
<line x1="241.34" y1="22.44" x2="241.34" y2="24.42" stroke="#ff00ff" stroke-width="1.8"/>
<line x1="242.44" y1="19.75" x2="242.44" y2="22.48" stroke="#ff0000" stroke-width="1.8"/>
<line x1="243.76" y1="20.71" x2="243.76" y2="24.29" stroke="#ff0000" stroke-width="1.8"/>
<line x1="245.15" y1="21.31" x2="245.15" y2="24.8" stroke="#ff00ff" stroke-width="1.8"/>
<line x1="246.07" y1="18.76" x2="246.07" y2="21.47" stroke="#ff0000" stroke-width="1.8"/>
<line x1="247.86" y1="19.31" x2="247.86" y2="22.76" stroke="#ff00ff" stroke-width="1.8"/>
<line x1="249.6" y1="20.63" x2="249.6" y2="22.68" stroke="#00ffff" stroke-width="1.8"/>
<line x1="250.97" y1="18.63" x2="250.97" y2="21.9" stroke="#ff00ff" stroke-width="1.8"/>
<line x1="252.33" y1="21.09" x2="252.33" y2="23.3" stroke="#00ffff" stroke-width="1.8"/>
<line x1="254.04" y1="20.35" x2="254.04" y2="22.43" stroke="#ff0000" stroke-width="1.8"/>
<line x1="255.79" y1="20.1" x2="255.79" y2="23.21" stroke="#ff0000" stroke-width="1.8"/>
<line x1="257.07" y1="19.9" x2="257.07" y2="23.22" stroke="#ff0000" stroke-width="1.8"/>
<line x1="257.97" y1="22.36" x2="257.97" y2="24.38" stroke="#ff00ff" stroke-width="1.8"/>
<line x1="259.7" y1="22.68" x2="259.7" y2="25" stroke="#00ffff" stroke-width="1.8"/>
<line x1="260.94" y1="20.7" x2="260.94" y2="24.07" stroke="#ff0000" stroke-width="1.8"/>
<line x1="261.9" y1="22.04" x2="261.9" y2="25.38" stroke="#ff0000" stroke-width="1.8"/>
<line x1="263.06" y1="23.03" x2="263.06" y2="25.35" stroke="#00ffff" stroke-width="1.8"/>
<line x1="264.8" y1="23.76" x2="264.8" y2="26.35" stroke="#ff00ff" stroke-width="1.8"/>
<line x1="265.98" y1="23.47" x2="265.98" y2="26.04" stroke="#ff00ff" stroke-width="1.8"/>
<line x1="266.91" y1="23.64" x2="266.91" y2="27.13" stroke="#ff0000" stroke-width="1.8"/>
<line x1="268.3" y1="21.4" x2="268.3" y2="24.52" stroke="#00ffff" stroke-width="1.8"/>
<line x1="269.61" y1="24.03" x2="269.61" y2="26.35" stroke="#ff00ff" stroke-width="1.8"/>
<line x1="270.55" y1="22.46" x2="270.55" y2="25.11" stroke="#00ffff" stroke-width="1.8"/>
<line x1="271.76" y1="22.97" x2="271.76" y2="26.1" stroke="#ff00ff" stroke-width="1.8"/>
<line x1="273.25" y1="25.11" x2="273.25" y2="27.45" stroke="#ff0000" stroke-width="1.8"/>
<line x1="274.65" y1="23.58" x2="274.65" y2="26.53" stroke="#ff0000" stroke-width="1.8"/>
<line x1="275.62" y1="26.6" x2="275.62" y2="29.3" stroke="#00ffff" stroke-width="1.8"/>
<line x1="276.72" y1="27.39" x2="276.72" y2="30" stroke="#ff00ff" stroke-width="1.8"/>
<line x1="277.74" y1="25.68" x2="277.74" y2="27.8" stroke="#ff00ff" stroke-width="1.8"/>
<line x1="279.14" y1="26.25" x2="279.14" y2="28.51" stroke="#ff00ff" stroke-width="1.8"/>
<line x1="280.56" y1="28.45" x2="280.56" y2="30.99" stroke="#00ffff" stroke-width="1.8"/>
<line x1="281.83" y1="27.52" x2="281.83" y2="29.81" stroke="#00ffff" stroke-width="1.8"/>
<line x1="283.41" y1="27.99" x2="283.41" y2="31.53" stroke="#ff0000" stroke-width="1.8"/>
<line x1="284.42" y1="29.54" x2="284.42" y2="32.76" stroke="#00ffff" stroke-width="1.8"/>
<line x1="286.08" y1="30.35" x2="286.08" y2="32.6" stroke="#ff0000" stroke-width="1.8"/>
<line x1="287.34" y1="31.53" x2="287.34" y2="33.9" stroke="#ff0000" stroke-width="1.8"/>
<line x1="288.98" y1="31.76" x2="288.98" y2="34.32" stroke="#ff0000" stroke-width="1.8"/>
<line x1="290.56" y1="35.02" x2="290.56" y2="37.7" stroke="#ff0000" stroke-width="1.8"/>
<line x1="291.53" y1="35" x2="291.53" y2="38.55" stroke="#0000ff" stroke-width="1.8"/>
<line x1="292.65" y1="34.92" x2="292.65" y2="36.99" stroke="#ff0000" stroke-width="1.8"/>
<line x1="294.43" y1="37.58" x2="294.43" y2="40.68" stroke="#ff0000" stroke-width="1.8"/>
<line x1="295.91" y1="36.39" x2="295.91" y2="39.59" stroke="#ff0000" stroke-width="1.8"/>
<line x1="296.81" y1="37.31" x2="296.81" y2="40.76" stroke="#ff0000" stroke-width="1.8"/>
<line x1="298.29" y1="40.57" x2="298.29" y2="43.5" stroke="#ff0000" stroke-width="1.8"/>
<line x1="299.67" y1="41.38" x2="299.67" y2="43.39" stroke="#ff0000" stroke-width="1.8"/>
<line x1="300.63" y1="42.68" x2="300.63" y2="44.82" stroke="#0000ff" stroke-width="1.8"/>
<line x1="301.76" y1="40.78" x2="301.76" y2="43.55" stroke="#0000ff" stroke-width="1.8"/>
<line x1="303.56" y1="44.57" x2="303.56" y2="47.53" stroke="#ff0000" stroke-width="1.8"/>
<line x1="305.26" y1="44.88" x2="305.26" y2="47.67" stroke="#ff0000" stroke-width="1.8"/>
<line x1="163.2" y1="60.5" x2="163.2" y2="65.5" stroke="#00ff00" stroke-width="1.5"/>
<line x1="298.5" y1="43.5" x2="301.5" y2="43.5" stroke="#ff0000" stroke-width="1.6"/>
<line x1="300" y1="42" x2="300" y2="45" stroke="#ff0000" stroke-width="1.6"/>
<line x1="303" y1="48" x2="306" y2="48" stroke="#ff0000" stroke-width="1.6"/>
<line x1="304.5" y1="46.5" x2="304.5" y2="49.5" stroke="#ff0000" stroke-width="1.6"/>
<line x1="307.9" y1="53.9" x2="310.9" y2="53.9" stroke="#ff0000" stroke-width="1.6"/>
<line x1="309.4" y1="52.4" x2="309.4" y2="55.4" stroke="#ff0000" stroke-width="1.6"/>
<line x1="310.9" y1="58.4" x2="313.9" y2="58.4" stroke="#ff0000" stroke-width="1.6"/>
<line x1="312.4" y1="56.9" x2="312.4" y2="59.9" stroke="#ff0000" stroke-width="1.6"/>
<line x1="314.5" y1="65.4" x2="319.5" y2="65.4" stroke="#ff0000" stroke-width="1.7"/>
<line x1="316.9" y1="63.5" x2="316.9" y2="67.5" stroke="#ff0000" stroke-width="1.7"/>
<line x1="294.4" y1="37" x2="297.6" y2="37" stroke="#0000ff" stroke-width="1.6"/>
<line x1="301.4" y1="43" x2="304.6" y2="43" stroke="#0000ff" stroke-width="1.6"/>
<line x1="306.4" y1="47" x2="309.6" y2="47" stroke="#0000ff" stroke-width="1.6"/>
<line x1="320" y1="79.5" x2="328.4" y2="79.5" stroke="#ff0000" stroke-width="1.7"/>
<line x1="324.3" y1="74.5" x2="324.3" y2="81.8" stroke="#ff0000" stroke-width="1.7"/>
<line x1="330.2" y1="98" x2="342.1" y2="98" stroke="#ff0000" stroke-width="1.7"/>
<line x1="336.2" y1="94.4" x2="336.2" y2="101.8" stroke="#ff0000" stroke-width="1.7"/>
<line x1="342.3" y1="124.7" x2="354.8" y2="124.7" stroke="#ff0000" stroke-width="1.7"/>
<line x1="348.5" y1="106.2" x2="348.5" y2="141.2" stroke="#ff0000" stroke-width="1.7"/>
<line x1="356" y1="131.4" x2="368" y2="131.4" stroke="#ff0000" stroke-width="1.7"/>
<line x1="361.9" y1="106" x2="361.9" y2="177" stroke="#ff0000" stroke-width="1.7"/>
<line x1="368" y1="174.5" x2="378.8" y2="174.5" stroke="#ff0000" stroke-width="1.7"/>
<line x1="374.7" y1="111" x2="374.7" y2="334" stroke="#ff0000" stroke-width="1.7"/>
<line x1="331" y1="87.5" x2="342.3" y2="87.5" stroke="#0000ff" stroke-width="1.7"/>
<line x1="336.6" y1="83.3" x2="336.6" y2="91" stroke="#0000ff" stroke-width="1.7"/>
<line x1="342.3" y1="114" x2="352.3" y2="114" stroke="#0000ff" stroke-width="1.7"/>
<line x1="347.6" y1="105" x2="347.6" y2="121.5" stroke="#0000ff" stroke-width="1.7"/>
<line x1="352.3" y1="138.9" x2="368" y2="138.9" stroke="#0000ff" stroke-width="1.7"/>
<line x1="360.4" y1="123.3" x2="360.4" y2="160.5" stroke="#0000ff" stroke-width="1.7"/>
<line x1="368" y1="104.2" x2="380.5" y2="104.2" stroke="#0000ff" stroke-width="1.7"/>
<line x1="375.1" y1="88" x2="375.1" y2="126.3" stroke="#0000ff" stroke-width="1.7"/>
<line x1="382.3" y1="140.8" x2="395" y2="140.8" stroke="#0000ff" stroke-width="1.7"/>
<line x1="389" y1="106.2" x2="389" y2="249.6" stroke="#0000ff" stroke-width="1.7"/>
<path d="M61 96.5 L61.04 96.48 L61.05 96.47 L61.06 96.47 L61.07 96.46 L61.1 96.44 L61.17 96.41 L61.29 96.36 L61.47 96.27 L61.74 96.16 L62.1 96 L62.56 95.79 L63.1 95.53 L63.72 95.23 L64.41 94.9 L65.14 94.56 L65.93 94.2 L66.74 93.85 L67.58 93.5 L68.44 93.19 L69.3 92.9 L70.19 92.64 L71.12 92.4 L72.09 92.17 L73.1 91.95 L74.12 91.74 L75.17 91.53 L76.21 91.32 L77.26 91.12 L78.29 90.91 L79.3 90.7 L80.3 90.49 L81.3 90.29 L82.3 90.09 L83.3 89.89 L84.3 89.69 L85.3 89.49 L86.3 89.29 L87.3 89.07 L88.3 88.84 L89.3 88.6 L90.3 88.34 L91.3 88.06 L92.3 87.77 L93.3 87.47 L94.3 87.17 L95.3 86.86 L96.3 86.56 L97.3 86.26 L98.3 85.97 L99.3 85.7 L100.32 85.44 L101.37 85.18 L102.44 84.93 L103.51 84.68 L104.57 84.44 L105.61 84.2 L106.62 83.97 L107.58 83.74 L108.47 83.52 L109.3 83.3 L110.05 83.09 L110.73 82.89 L111.35 82.7 L111.92 82.51 L112.46 82.33 L112.98 82.15 L113.48 81.97 L113.97 81.78 L114.48 81.6 L115 81.4 L115.51 81.21 L115.96 81.05 L116.39 80.9 L116.81 80.75 L117.23 80.59 L117.67 80.41 L118.15 80.2 L118.69 79.95 L119.3 79.66 L120 79.3 L120.8 78.87 L121.7 78.37 L122.68 77.81 L123.71 77.21 L124.77 76.59 L125.86 75.95 L126.95 75.32 L128.01 74.71 L129.03 74.13 L130 73.6 L130.94 73.1 L131.89 72.62 L132.84 72.14 L133.79 71.68 L134.71 71.23 L135.59 70.8 L136.44 70.39 L137.23 70 L137.95 69.64 L138.6 69.3 L139.16 68.98 L139.62 68.67 L140.02 68.38 L140.36 68.11 L140.66 67.86 L140.94 67.63 L141.2 67.44 L141.48 67.29 L141.77 67.17 L142.1 67.1 L142.45 67.09 L142.8 67.15 L143.15 67.26 L143.5 67.41 L143.85 67.59 L144.2 67.77 L144.57 67.95 L144.93 68.11 L145.31 68.23 L145.7 68.3 L146.08 68.34 L146.42 68.37 L146.76 68.38 L147.1 68.38 L147.45 68.37 L147.84 68.33 L148.27 68.27 L148.76 68.18 L149.34 68.06 L150 67.9 L150.77 67.7 L151.64 67.46 L152.58 67.19 L153.59 66.89 L154.64 66.56 L155.73 66.22 L156.82 65.87 L157.91 65.51 L158.97 65.15 L160 64.8 L161 64.46 L162 64.12 L163 63.78 L164 63.44 L165 63.08 L166 62.71 L167 62.32 L168 61.91 L169 61.47 L170 61 L171 60.49 L172 59.96 L173 59.4 L174 58.81 L175 58.21 L176 57.58 L177 56.95 L178 56.31 L179 55.65 L180 55 L181 54.33 L182 53.64 L183 52.93 L184 52.21 L185 51.48 L186 50.75 L187 50.02 L188 49.3 L189 48.59 L190 47.9 L191 47.23 L192 46.56 L193 45.9 L194 45.25 L195 44.61 L196 43.96 L197 43.32 L198 42.68 L199 42.04 L200 41.4 L201 40.76 L202 40.11 L203 39.47 L204 38.82 L205 38.18 L206 37.54 L207 36.9 L208 36.27 L209 35.63 L210 35 L211 34.36 L212 33.72 L213 33.07 L214 32.42 L215 31.78 L216 31.15 L217 30.53 L218 29.93 L219 29.35 L220 28.8 L221 28.27 L222 27.75 L223 27.25 L224 26.77 L225 26.3 L226 25.85 L227 25.43 L228 25.03 L229 24.65 L230 24.3 L231 23.98 L232 23.69 L233 23.42 L234 23.18 L235 22.96 L236 22.76 L237 22.58 L238 22.41 L239 22.25 L240 22.1 L241 21.96 L242 21.83 L243 21.72 L244 21.62 L245 21.54 L246 21.47 L247 21.42 L248 21.39 L249 21.39 L250 21.4 L251.02 21.44 L252.08 21.52 L253.16 21.63 L254.24 21.75 L255.31 21.89 L256.36 22.04 L257.37 22.19 L258.32 22.34 L259.2 22.48 L260 22.6 L260.68 22.7 L261.24 22.78 L261.71 22.86 L262.12 22.93 L262.5 23 L262.88 23.08 L263.29 23.17 L263.76 23.29 L264.32 23.43 L265 23.6 L265.8 23.8 L266.68 24.01 L267.63 24.24 L268.64 24.48 L269.69 24.75 L270.76 25.04 L271.84 25.34 L272.92 25.67 L273.98 26.02 L275 26.4 L276 26.8 L277 27.23 L278 27.68 L279 28.15 L280 28.64 L281 29.15 L282 29.68 L283 30.24 L284 30.81 L285 31.4 L286 32.02 L287 32.66 L288 33.33 L289 34.03 L290 34.74 L291 35.46 L292 36.19 L293 36.93 L294 37.67 L295 38.4 L296.02 39.15 L297.08 39.93 L298.16 40.73 L299.24 41.55 L300.31 42.36 L301.36 43.15 L302.37 43.93 L303.32 44.67 L304.2 45.36 L305 46 L305.7 46.57 L306.32 47.08 L306.87 47.55 L307.36 47.98 L307.81 48.38 L308.24 48.78 L308.66 49.17 L309.08 49.59 L309.52 50.02 L310 50.5 L310.49 50.99 L310.97 51.46 L311.43 51.92 L311.9 52.39 L312.37 52.88 L312.85 53.4 L313.35 53.96 L313.87 54.57 L314.41 55.25 L315 56 L315.62 56.83 L316.28 57.73 L316.97 58.69 L317.68 59.7 L318.41 60.76 L319.15 61.85 L319.9 62.96 L320.64 64.1 L321.38 65.25 L322.1 66.4 L322.82 67.57 L323.54 68.79 L324.26 70.04 L324.98 71.31 L325.71 72.6 L326.43 73.9 L327.15 75.19 L327.87 76.48 L328.59 77.75 L329.3 79 L330.01 80.23 L330.73 81.45 L331.44 82.66 L332.16 83.87 L332.87 85.08 L333.57 86.27 L334.27 87.46 L334.96 88.65 L335.64 89.83 L336.3 91 L336.95 92.17 L337.6 93.35 L338.24 94.53 L338.87 95.71 L339.49 96.87 L340.1 98.03 L340.69 99.16 L341.28 100.27 L341.85 101.35 L342.4 102.4 L342.93 103.4 L343.43 104.34 L343.91 105.23 L344.37 106.1 L344.82 106.96 L345.28 107.82 L345.73 108.7 L346.2 109.62 L346.69 110.58 L347.2 111.6 L347.72 112.67 L348.24 113.75 L348.76 114.86 L349.28 115.99 L349.82 117.15 L350.38 118.35 L350.96 119.59 L351.57 120.87 L352.21 122.21 L352.9 123.6 L353.64 125.06 L354.42 126.61 L355.24 128.22 L356.09 129.88 L356.97 131.57 L357.86 133.28 L358.75 134.99 L359.65 136.69 L360.53 138.37 L361.4 140 L362.27 141.63 L363.17 143.31 L364.09 145 L365.01 146.7 L365.92 148.38 L366.81 150.01 L367.68 151.58 L368.51 153.06 L369.29 154.44 L370 155.7 L370.64 156.8 L371.21 157.75 L371.72 158.58 L372.19 159.33 L372.64 160.02 L373.07 160.68 L373.51 161.35 L373.97 162.06 L374.46 162.83 L375 163.7 L375.57 164.65 L376.16 165.63 L376.75 166.64 L377.35 167.68 L377.98 168.74 L378.61 169.83 L379.27 170.93 L379.96 172.04 L380.66 173.17 L381.4 174.3 L382.16 175.45 L382.96 176.62 L383.77 177.82 L384.61 179.03 L385.47 180.25 L386.35 181.48 L387.25 182.72 L388.16 183.95 L389.07 185.18 L390 186.4 L390.94 187.62 L391.91 188.86 L392.9 190.1 L393.9 191.34 L394.91 192.59 L395.93 193.82 L396.96 195.05 L397.98 196.25 L398.99 197.44 L400 198.6 L401.01 199.74 L402.05 200.88 L403.09 202.01 L404.14 203.13 L405.18 204.22 L406.21 205.3 L407.21 206.35 L408.19 207.37 L409.12 208.35 L410 209.3 L410.85 210.22 L411.68 211.13 L412.49 212.02 L413.27 212.88 L414.02 213.71 L414.74 214.5 L415.41 215.24 L416.03 215.93 L416.59 216.55 L417.1 217.1 L417.54 217.58 L417.92 217.98 L418.24 218.32 L418.51 218.6 L418.74 218.84 L418.94 219.03 L419.1 219.2 L419.25 219.34 L419.38 219.48 L419.5 219.6" fill="none" stroke="#000" stroke-width="2.05" stroke-linejoin="round"/>
<line x1="139.1" y1="58.2" x2="139.1" y2="70.5" stroke="#000" stroke-width="1.7"/>
<line x1="314.8" y1="52.5" x2="314.8" y2="57.5" stroke="#000" stroke-width="1.5"/>
<line x1="316.4" y1="53.5" x2="316.4" y2="60" stroke="#000" stroke-width="1.5"/>
<line x1="317.9" y1="55" x2="317.9" y2="62.5" stroke="#000" stroke-width="1.5"/>
<line x1="319.4" y1="53.5" x2="319.4" y2="61" stroke="#000" stroke-width="1.5"/>
<line x1="320.6" y1="58" x2="320.6" y2="66" stroke="#000" stroke-width="1.5"/>
<line x1="321.9" y1="63" x2="321.9" y2="78.6" stroke="#000" stroke-width="1.5"/>
<line x1="323.2" y1="62" x2="323.2" y2="70" stroke="#000" stroke-width="1.5"/>
<line x1="324.4" y1="60.5" x2="324.4" y2="73.5" stroke="#000" stroke-width="1.5"/>
<line x1="325.6" y1="59" x2="325.6" y2="75.5" stroke="#000" stroke-width="1.5"/>
<line x1="326.8" y1="57" x2="326.8" y2="77" stroke="#000" stroke-width="1.5"/>
<line x1="328" y1="62" x2="328" y2="77.5" stroke="#000" stroke-width="1.5"/>
<line x1="329" y1="66" x2="329" y2="77" stroke="#000" stroke-width="1.5"/>
</g>
<g clip-path="url(#cl)">
<line x1="62.1" y1="386.12" x2="417.25" y2="386.12" stroke="#000" stroke-width="1.9"/>
<line x1="64" y1="383.8" x2="64" y2="386.9" stroke="#ff00ff" stroke-width="1.4"/>
<line x1="65.38" y1="385.85" x2="65.38" y2="391.24" stroke="#ff00ff" stroke-width="1.4"/>
<line x1="66.45" y1="383.53" x2="66.45" y2="388.35" stroke="#ff00ff" stroke-width="1.4"/>
<line x1="67.76" y1="385.87" x2="67.76" y2="390.2" stroke="#ff00ff" stroke-width="1.4"/>
<line x1="68.72" y1="384.9" x2="68.72" y2="388.09" stroke="#ff00ff" stroke-width="1.4"/>
<line x1="69.78" y1="387.39" x2="69.78" y2="393.33" stroke="#ff00ff" stroke-width="1.4"/>
<line x1="70.96" y1="385.31" x2="70.96" y2="388.68" stroke="#ff00ff" stroke-width="1.4"/>
<line x1="72.21" y1="387.51" x2="72.21" y2="394" stroke="#ff00ff" stroke-width="1.4"/>
<line x1="73.61" y1="382.77" x2="73.61" y2="396.03" stroke="#ff00ff" stroke-width="1.4"/>
<line x1="74.58" y1="385.42" x2="74.58" y2="390.77" stroke="#ff00ff" stroke-width="1.4"/>
<line x1="75.88" y1="385.13" x2="75.88" y2="390.97" stroke="#ff00ff" stroke-width="1.4"/>
<line x1="76.9" y1="387.33" x2="76.9" y2="390.65" stroke="#ff00ff" stroke-width="1.4"/>
<line x1="77.95" y1="383.7" x2="77.95" y2="388.59" stroke="#ff00ff" stroke-width="1.4"/>
<line x1="79.26" y1="382.43" x2="79.26" y2="388.85" stroke="#ff00ff" stroke-width="1.4"/>
<line x1="80.43" y1="386.16" x2="80.43" y2="389.53" stroke="#ff00ff" stroke-width="1.4"/>
<line x1="81.81" y1="385.08" x2="81.81" y2="390.42" stroke="#ff00ff" stroke-width="1.4"/>
<line x1="82.96" y1="384.32" x2="82.96" y2="390.67" stroke="#ff00ff" stroke-width="1.4"/>
<line x1="84.26" y1="383.92" x2="84.26" y2="387.8" stroke="#ff00ff" stroke-width="1.4"/>
<line x1="85.43" y1="383.55" x2="85.43" y2="388.59" stroke="#ff00ff" stroke-width="1.4"/>
<line x1="86.51" y1="387" x2="86.51" y2="392.68" stroke="#ff00ff" stroke-width="1.4"/>
<line x1="87.65" y1="382.6" x2="87.65" y2="385.97" stroke="#ff00ff" stroke-width="1.4"/>
<line x1="88.64" y1="385.2" x2="88.64" y2="390.84" stroke="#ff00ff" stroke-width="1.4"/>
<line x1="89.76" y1="384.69" x2="89.76" y2="390.94" stroke="#ff00ff" stroke-width="1.4"/>
<line x1="91.16" y1="384.98" x2="91.16" y2="389.37" stroke="#ff00ff" stroke-width="1.4"/>
<line x1="92.41" y1="387.06" x2="92.41" y2="390.49" stroke="#ff00ff" stroke-width="1.4"/>
<line x1="93.42" y1="380.23" x2="93.42" y2="386.41" stroke="#ff00ff" stroke-width="1.4"/>
<line x1="94.75" y1="384.97" x2="94.75" y2="391.6" stroke="#ff00ff" stroke-width="1.4"/>
<line x1="95.95" y1="381.91" x2="95.95" y2="385.13" stroke="#ff00ff" stroke-width="1.4"/>
<line x1="97.06" y1="384.85" x2="97.06" y2="389.06" stroke="#ff00ff" stroke-width="1.4"/>
<line x1="98.24" y1="383.08" x2="98.24" y2="389.65" stroke="#ff00ff" stroke-width="1.4"/>
<line x1="99.44" y1="384.01" x2="99.44" y2="388.99" stroke="#ff00ff" stroke-width="1.4"/>
<line x1="100.64" y1="385.19" x2="100.64" y2="390.78" stroke="#ff00ff" stroke-width="1.4"/>
<line x1="101.8" y1="384.89" x2="101.8" y2="390.85" stroke="#ff00ff" stroke-width="1.4"/>
<line x1="102.96" y1="383.97" x2="102.96" y2="391.53" stroke="#ff00ff" stroke-width="1.4"/>
<line x1="104.01" y1="385.1" x2="104.01" y2="392.25" stroke="#ff00ff" stroke-width="1.4"/>
<line x1="105.22" y1="385.49" x2="105.22" y2="392.16" stroke="#ff00ff" stroke-width="1.4"/>
<line x1="106.56" y1="384.68" x2="106.56" y2="389.15" stroke="#ff00ff" stroke-width="1.4"/>
<line x1="107.64" y1="386.13" x2="107.64" y2="391.37" stroke="#ff00ff" stroke-width="1.4"/>
<line x1="108.72" y1="384.46" x2="108.72" y2="388.61" stroke="#ff00ff" stroke-width="1.4"/>
<line x1="109.8" y1="389.07" x2="109.8" y2="393.48" stroke="#ff00ff" stroke-width="1.4"/>
<line x1="111.07" y1="385.49" x2="111.07" y2="392.49" stroke="#ff00ff" stroke-width="1.4"/>
<line x1="112.45" y1="386.36" x2="112.45" y2="390.74" stroke="#ff00ff" stroke-width="1.4"/>
<line x1="113.59" y1="386.5" x2="113.59" y2="390.09" stroke="#ff00ff" stroke-width="1.4"/>
<line x1="114.95" y1="384.24" x2="114.95" y2="388.49" stroke="#ff00ff" stroke-width="1.4"/>
<line x1="116.16" y1="385" x2="116.16" y2="391.89" stroke="#ff00ff" stroke-width="1.4"/>
<line x1="117.12" y1="386.48" x2="117.12" y2="392.77" stroke="#ff00ff" stroke-width="1.4"/>
<line x1="118.25" y1="387.19" x2="118.25" y2="390.8" stroke="#ff00ff" stroke-width="1.4"/>
<line x1="119.23" y1="384.35" x2="119.23" y2="391.1" stroke="#ff00ff" stroke-width="1.4"/>
<line x1="120.58" y1="385.57" x2="120.58" y2="390.7" stroke="#ff00ff" stroke-width="1.4"/>
<line x1="121.57" y1="383.75" x2="121.57" y2="387.33" stroke="#ff00ff" stroke-width="1.4"/>
<line x1="122.77" y1="381.2" x2="122.77" y2="387.71" stroke="#ff00ff" stroke-width="1.4"/>
<line x1="123.98" y1="385.95" x2="123.98" y2="392.43" stroke="#ff00ff" stroke-width="1.4"/>
<line x1="125.07" y1="384.77" x2="125.07" y2="395.59" stroke="#ff00ff" stroke-width="1.4"/>
<line x1="126.39" y1="383.31" x2="126.39" y2="390.91" stroke="#ff00ff" stroke-width="1.4"/>
<line x1="127.36" y1="384.43" x2="127.36" y2="390.94" stroke="#ff00ff" stroke-width="1.4"/>
<line x1="128.51" y1="379.87" x2="128.51" y2="387.79" stroke="#ff00ff" stroke-width="1.4"/>
<line x1="129.55" y1="384.85" x2="129.55" y2="391.08" stroke="#ff00ff" stroke-width="1.4"/>
<line x1="130.88" y1="383.74" x2="130.88" y2="392.02" stroke="#ff00ff" stroke-width="1.4"/>
<line x1="131.91" y1="384.88" x2="131.91" y2="391.13" stroke="#ff00ff" stroke-width="1.4"/>
<line x1="133.22" y1="383.28" x2="133.22" y2="387.64" stroke="#ff00ff" stroke-width="1.4"/>
<line x1="134.26" y1="384.97" x2="134.26" y2="390.36" stroke="#ff00ff" stroke-width="1.4"/>
<line x1="135.6" y1="384.27" x2="135.6" y2="391.68" stroke="#ff00ff" stroke-width="1.4"/>
<line x1="136.96" y1="389.01" x2="136.96" y2="394.11" stroke="#ff00ff" stroke-width="1.4"/>
<line x1="138.23" y1="386.5" x2="138.23" y2="390.52" stroke="#ff00ff" stroke-width="1.4"/>
<line x1="139.52" y1="385.67" x2="139.52" y2="393.42" stroke="#ff00ff" stroke-width="1.4"/>
<line x1="140.77" y1="383.21" x2="140.77" y2="387.79" stroke="#ff00ff" stroke-width="1.4"/>
<line x1="142" y1="389.73" x2="142" y2="394.13" stroke="#ff00ff" stroke-width="1.4"/>
<line x1="143.04" y1="384.37" x2="143.04" y2="392.75" stroke="#ff00ff" stroke-width="1.4"/>
<line x1="144.09" y1="386.76" x2="144.09" y2="393.7" stroke="#ff00ff" stroke-width="1.4"/>
<line x1="145.2" y1="381.92" x2="145.2" y2="387.5" stroke="#ff00ff" stroke-width="1.4"/>
<line x1="146.57" y1="385.24" x2="146.57" y2="390.44" stroke="#ff00ff" stroke-width="1.4"/>
<line x1="147.72" y1="381.64" x2="147.72" y2="387.15" stroke="#ff00ff" stroke-width="1.4"/>
<line x1="148.76" y1="390.34" x2="148.76" y2="396.34" stroke="#ff00ff" stroke-width="1.4"/>
<line x1="150.02" y1="383.57" x2="150.02" y2="391.34" stroke="#ff00ff" stroke-width="1.4"/>
<line x1="151.37" y1="383.94" x2="151.37" y2="389.45" stroke="#ff00ff" stroke-width="1.4"/>
<line x1="152.71" y1="384.64" x2="152.71" y2="390.9" stroke="#ff00ff" stroke-width="1.4"/>
<line x1="153.69" y1="387.88" x2="153.69" y2="393.2" stroke="#ff00ff" stroke-width="1.4"/>
<line x1="154.69" y1="387" x2="154.69" y2="394.54" stroke="#ff00ff" stroke-width="1.4"/>
<line x1="155.97" y1="385.37" x2="155.97" y2="389.48" stroke="#ff00ff" stroke-width="1.4"/>
<line x1="157.26" y1="384.68" x2="157.26" y2="389.02" stroke="#ff00ff" stroke-width="1.4"/>
<line x1="158.64" y1="382.5" x2="158.64" y2="390.33" stroke="#ff00ff" stroke-width="1.4"/>
<line x1="159.95" y1="388.61" x2="159.95" y2="393.55" stroke="#ff00ff" stroke-width="1.4"/>
<line x1="161.2" y1="383.82" x2="161.2" y2="390.77" stroke="#ff00ff" stroke-width="1.4"/>
<line x1="162.38" y1="386.64" x2="162.38" y2="391.77" stroke="#ff00ff" stroke-width="1.4"/>
<line x1="163.57" y1="382.31" x2="163.57" y2="387.38" stroke="#ff00ff" stroke-width="1.4"/>
<line x1="164.63" y1="382.73" x2="164.63" y2="388.67" stroke="#ff00ff" stroke-width="1.4"/>
<line x1="165.72" y1="382.36" x2="165.72" y2="390.32" stroke="#ff00ff" stroke-width="1.4"/>
<line x1="167.05" y1="387.1" x2="167.05" y2="391.24" stroke="#ff00ff" stroke-width="1.4"/>
<line x1="168.47" y1="381.07" x2="168.47" y2="388.54" stroke="#ff00ff" stroke-width="1.4"/>
<line x1="169.55" y1="384.74" x2="169.55" y2="391.44" stroke="#ff00ff" stroke-width="1.4"/>
<line x1="170.87" y1="382.93" x2="170.87" y2="388.78" stroke="#ff00ff" stroke-width="1.4"/>
<line x1="171.99" y1="386.67" x2="171.99" y2="391.03" stroke="#ff00ff" stroke-width="1.4"/>
<line x1="173.24" y1="385.76" x2="173.24" y2="392.42" stroke="#ff00ff" stroke-width="1.4"/>
<line x1="174.67" y1="382.56" x2="174.67" y2="391.11" stroke="#ff00ff" stroke-width="1.4"/>
<line x1="176.06" y1="384.36" x2="176.06" y2="389.5" stroke="#ff00ff" stroke-width="1.4"/>
<line x1="177.32" y1="380.57" x2="177.32" y2="386.77" stroke="#ff00ff" stroke-width="1.4"/>
<line x1="178.3" y1="380.04" x2="178.3" y2="388.51" stroke="#ff00ff" stroke-width="1.4"/>
<line x1="179.53" y1="384.73" x2="179.53" y2="390.36" stroke="#ff00ff" stroke-width="1.4"/>
<line x1="180.75" y1="383.34" x2="180.75" y2="388.07" stroke="#ff00ff" stroke-width="1.4"/>
<line x1="182.11" y1="383.42" x2="182.11" y2="393.18" stroke="#ff00ff" stroke-width="1.4"/>
<line x1="183.45" y1="384.48" x2="183.45" y2="388.86" stroke="#ff00ff" stroke-width="1.4"/>
<line x1="184.73" y1="382.18" x2="184.73" y2="387.7" stroke="#ff00ff" stroke-width="1.4"/>
<line x1="186.15" y1="386.8" x2="186.15" y2="395.71" stroke="#ff00ff" stroke-width="1.4"/>
<line x1="187.39" y1="385.09" x2="187.39" y2="392.45" stroke="#ff00ff" stroke-width="1.4"/>
<line x1="188.59" y1="382.92" x2="188.59" y2="391.78" stroke="#ff00ff" stroke-width="1.4"/>
<line x1="189.64" y1="384.89" x2="189.64" y2="389.86" stroke="#ff00ff" stroke-width="1.4"/>
<line x1="190.65" y1="382.18" x2="190.65" y2="387.38" stroke="#ff00ff" stroke-width="1.4"/>
<line x1="191.86" y1="381.31" x2="191.86" y2="388.97" stroke="#ff00ff" stroke-width="1.4"/>
<line x1="193.02" y1="383" x2="193.02" y2="387.49" stroke="#ff00ff" stroke-width="1.4"/>
<line x1="194.45" y1="381.45" x2="194.45" y2="389.6" stroke="#ff00ff" stroke-width="1.4"/>
<line x1="195.67" y1="380.96" x2="195.67" y2="390.18" stroke="#ff00ff" stroke-width="1.4"/>
<line x1="196.95" y1="386.5" x2="196.95" y2="391.65" stroke="#ff00ff" stroke-width="1.4"/>
<line x1="198.03" y1="382.01" x2="198.03" y2="391.16" stroke="#ff00ff" stroke-width="1.4"/>
<line x1="199.44" y1="380.71" x2="199.44" y2="392.05" stroke="#ff00ff" stroke-width="1.4"/>
<line x1="200.71" y1="381.11" x2="200.71" y2="390.47" stroke="#ff00ff" stroke-width="1.4"/>
<line x1="201.81" y1="379.38" x2="201.81" y2="388.82" stroke="#ff00ff" stroke-width="1.4"/>
<line x1="202.81" y1="381.22" x2="202.81" y2="390.55" stroke="#ff00ff" stroke-width="1.4"/>
<line x1="203.87" y1="384.68" x2="203.87" y2="389.82" stroke="#ff00ff" stroke-width="1.4"/>
<line x1="204.92" y1="381.67" x2="204.92" y2="388.07" stroke="#ff00ff" stroke-width="1.4"/>
<line x1="206.32" y1="384.46" x2="206.32" y2="394.31" stroke="#ff00ff" stroke-width="1.4"/>
<line x1="207.54" y1="380.13" x2="207.54" y2="388.76" stroke="#ff00ff" stroke-width="1.4"/>
<line x1="208.96" y1="385.02" x2="208.96" y2="390.64" stroke="#ff00ff" stroke-width="1.4"/>
<line x1="210.3" y1="381.08" x2="210.3" y2="388.63" stroke="#ff00ff" stroke-width="1.4"/>
<line x1="211.28" y1="386.84" x2="211.28" y2="391.8" stroke="#ff00ff" stroke-width="1.4"/>
<line x1="64" y1="385.5" x2="64" y2="388.25" stroke="#00ffff" stroke-width="1.4"/>
<line x1="64.95" y1="383.01" x2="64.95" y2="385.81" stroke="#00ffff" stroke-width="1.4"/>
<line x1="65.69" y1="384.52" x2="65.69" y2="387.89" stroke="#00ffff" stroke-width="1.4"/>
<line x1="66.6" y1="380.32" x2="66.6" y2="385.35" stroke="#00ffff" stroke-width="1.4"/>
<line x1="67.59" y1="382.6" x2="67.59" y2="386.16" stroke="#00ffff" stroke-width="1.4"/>
<line x1="68.32" y1="380.3" x2="68.32" y2="386.4" stroke="#00ffff" stroke-width="1.4"/>
<line x1="69.32" y1="384.28" x2="69.32" y2="389.26" stroke="#00ffff" stroke-width="1.4"/>
<line x1="70.08" y1="383.19" x2="70.08" y2="388.77" stroke="#00ffff" stroke-width="1.4"/>
<line x1="70.91" y1="382.14" x2="70.91" y2="386.13" stroke="#00ffff" stroke-width="1.4"/>
<line x1="71.65" y1="382.94" x2="71.65" y2="388.44" stroke="#00ffff" stroke-width="1.4"/>
<line x1="72.64" y1="381.49" x2="72.64" y2="385.28" stroke="#00ffff" stroke-width="1.4"/>
<line x1="73.65" y1="382.29" x2="73.65" y2="385.15" stroke="#00ffff" stroke-width="1.4"/>
<line x1="74.4" y1="381.84" x2="74.4" y2="386.69" stroke="#00ffff" stroke-width="1.4"/>
<line x1="75.42" y1="382.36" x2="75.42" y2="387.26" stroke="#00ffff" stroke-width="1.4"/>
<line x1="76.3" y1="377.93" x2="76.3" y2="389.07" stroke="#00ffff" stroke-width="1.4"/>
<line x1="77.14" y1="382.96" x2="77.14" y2="386.11" stroke="#00ffff" stroke-width="1.4"/>
<line x1="78.16" y1="383.5" x2="78.16" y2="389.89" stroke="#00ffff" stroke-width="1.4"/>
<line x1="79.09" y1="382.6" x2="79.09" y2="386.01" stroke="#00ffff" stroke-width="1.4"/>
<line x1="80.15" y1="381.64" x2="80.15" y2="388.01" stroke="#00ffff" stroke-width="1.4"/>
<line x1="81.04" y1="382.34" x2="81.04" y2="388.93" stroke="#00ffff" stroke-width="1.4"/>
<line x1="81.8" y1="381.22" x2="81.8" y2="387.59" stroke="#00ffff" stroke-width="1.4"/>
<line x1="82.79" y1="383.09" x2="82.79" y2="387.56" stroke="#00ffff" stroke-width="1.4"/>
<line x1="83.64" y1="381.71" x2="83.64" y2="386.66" stroke="#00ffff" stroke-width="1.4"/>
<line x1="84.72" y1="383.62" x2="84.72" y2="388.92" stroke="#00ffff" stroke-width="1.4"/>
<line x1="85.48" y1="377.52" x2="85.48" y2="387.97" stroke="#00ffff" stroke-width="1.4"/>
<line x1="86.41" y1="380.93" x2="86.41" y2="385.85" stroke="#00ffff" stroke-width="1.4"/>
<line x1="87.29" y1="381.05" x2="87.29" y2="385.77" stroke="#00ffff" stroke-width="1.4"/>
<line x1="88.11" y1="382.35" x2="88.11" y2="386.17" stroke="#00ffff" stroke-width="1.4"/>
<line x1="89.06" y1="382.11" x2="89.06" y2="386.09" stroke="#00ffff" stroke-width="1.4"/>
<line x1="90.08" y1="380.25" x2="90.08" y2="385.62" stroke="#00ffff" stroke-width="1.4"/>
<line x1="91.15" y1="382.19" x2="91.15" y2="386.52" stroke="#00ffff" stroke-width="1.4"/>
<line x1="92.21" y1="380.57" x2="92.21" y2="384.57" stroke="#00ffff" stroke-width="1.4"/>
<line x1="93.29" y1="384.05" x2="93.29" y2="387.81" stroke="#00ffff" stroke-width="1.4"/>
<line x1="94.06" y1="384.66" x2="94.06" y2="388.86" stroke="#00ffff" stroke-width="1.4"/>
<line x1="94.88" y1="385.43" x2="94.88" y2="389.55" stroke="#00ffff" stroke-width="1.4"/>
<line x1="95.77" y1="385.47" x2="95.77" y2="388.53" stroke="#00ffff" stroke-width="1.4"/>
<line x1="96.65" y1="381.3" x2="96.65" y2="389.73" stroke="#00ffff" stroke-width="1.4"/>
<line x1="97.46" y1="383.26" x2="97.46" y2="395.29" stroke="#00ffff" stroke-width="1.4"/>
<line x1="98.26" y1="383.55" x2="98.26" y2="388.98" stroke="#00ffff" stroke-width="1.4"/>
<line x1="99.29" y1="379.78" x2="99.29" y2="385.55" stroke="#00ffff" stroke-width="1.4"/>
<line x1="100.33" y1="381.33" x2="100.33" y2="385.33" stroke="#00ffff" stroke-width="1.4"/>
<line x1="101.09" y1="380.58" x2="101.09" y2="385.42" stroke="#00ffff" stroke-width="1.4"/>
<line x1="102.06" y1="383.34" x2="102.06" y2="388.07" stroke="#00ffff" stroke-width="1.4"/>
<line x1="102.84" y1="380.65" x2="102.84" y2="387.25" stroke="#00ffff" stroke-width="1.4"/>
<line x1="103.57" y1="383.09" x2="103.57" y2="388.93" stroke="#00ffff" stroke-width="1.4"/>
<line x1="104.61" y1="378.65" x2="104.61" y2="387.61" stroke="#00ffff" stroke-width="1.4"/>
<line x1="105.63" y1="383.31" x2="105.63" y2="387.49" stroke="#00ffff" stroke-width="1.4"/>
<line x1="106.61" y1="380.72" x2="106.61" y2="387.84" stroke="#00ffff" stroke-width="1.4"/>
<line x1="107.45" y1="383.8" x2="107.45" y2="387.81" stroke="#00ffff" stroke-width="1.4"/>
<line x1="108.18" y1="379.91" x2="108.18" y2="386.41" stroke="#00ffff" stroke-width="1.4"/>
<line x1="109.02" y1="380.95" x2="109.02" y2="388.3" stroke="#00ffff" stroke-width="1.4"/>
<line x1="109.92" y1="379.24" x2="109.92" y2="386.37" stroke="#00ffff" stroke-width="1.4"/>
<line x1="110.87" y1="381.45" x2="110.87" y2="386.26" stroke="#00ffff" stroke-width="1.4"/>
<line x1="111.61" y1="380.16" x2="111.61" y2="387.26" stroke="#00ffff" stroke-width="1.4"/>
<line x1="112.58" y1="381.73" x2="112.58" y2="386.23" stroke="#00ffff" stroke-width="1.4"/>
<line x1="113.64" y1="380.61" x2="113.64" y2="388.01" stroke="#00ffff" stroke-width="1.4"/>
<line x1="114.7" y1="380.07" x2="114.7" y2="387.31" stroke="#00ffff" stroke-width="1.4"/>
<line x1="115.71" y1="382.93" x2="115.71" y2="387.01" stroke="#00ffff" stroke-width="1.4"/>
<line x1="116.69" y1="382.04" x2="116.69" y2="388.19" stroke="#00ffff" stroke-width="1.4"/>
<line x1="117.7" y1="381.26" x2="117.7" y2="386.33" stroke="#00ffff" stroke-width="1.4"/>
<line x1="118.69" y1="380.21" x2="118.69" y2="385.54" stroke="#00ffff" stroke-width="1.4"/>
<line x1="119.49" y1="378.99" x2="119.49" y2="385.37" stroke="#00ffff" stroke-width="1.4"/>
<line x1="120.57" y1="380.4" x2="120.57" y2="387.25" stroke="#00ffff" stroke-width="1.4"/>
<line x1="121.42" y1="379.74" x2="121.42" y2="385.94" stroke="#00ffff" stroke-width="1.4"/>
<line x1="122.31" y1="380.52" x2="122.31" y2="387.82" stroke="#00ffff" stroke-width="1.4"/>
<line x1="123.14" y1="381.66" x2="123.14" y2="386.7" stroke="#00ffff" stroke-width="1.4"/>
<line x1="124.06" y1="379.88" x2="124.06" y2="385.59" stroke="#00ffff" stroke-width="1.4"/>
<line x1="124.99" y1="385.51" x2="124.99" y2="391.8" stroke="#00ffff" stroke-width="1.4"/>
<line x1="125.74" y1="381.07" x2="125.74" y2="387.02" stroke="#00ffff" stroke-width="1.4"/>
<line x1="126.53" y1="384.47" x2="126.53" y2="389.87" stroke="#00ffff" stroke-width="1.4"/>
<line x1="127.32" y1="379.77" x2="127.32" y2="385.9" stroke="#00ffff" stroke-width="1.4"/>
<line x1="128.39" y1="384.15" x2="128.39" y2="387.95" stroke="#00ffff" stroke-width="1.4"/>
<line x1="129.31" y1="380.86" x2="129.31" y2="386.51" stroke="#00ffff" stroke-width="1.4"/>
<line x1="130.06" y1="379.91" x2="130.06" y2="387.14" stroke="#00ffff" stroke-width="1.4"/>
<line x1="130.82" y1="382.57" x2="130.82" y2="389.77" stroke="#00ffff" stroke-width="1.4"/>
<line x1="131.74" y1="383.23" x2="131.74" y2="388.88" stroke="#00ffff" stroke-width="1.4"/>
<line x1="132.71" y1="381.65" x2="132.71" y2="387.84" stroke="#00ffff" stroke-width="1.4"/>
<line x1="133.49" y1="383.4" x2="133.49" y2="388.33" stroke="#00ffff" stroke-width="1.4"/>
<line x1="134.39" y1="381.38" x2="134.39" y2="386.81" stroke="#00ffff" stroke-width="1.4"/>
<line x1="135.35" y1="384.62" x2="135.35" y2="388.94" stroke="#00ffff" stroke-width="1.4"/>
<line x1="136.31" y1="381.85" x2="136.31" y2="388.76" stroke="#00ffff" stroke-width="1.4"/>
<line x1="137.32" y1="382.83" x2="137.32" y2="386.76" stroke="#00ffff" stroke-width="1.4"/>
<line x1="138.31" y1="382.82" x2="138.31" y2="388.28" stroke="#00ffff" stroke-width="1.4"/>
<line x1="139.06" y1="382.48" x2="139.06" y2="389.09" stroke="#00ffff" stroke-width="1.4"/>
<line x1="140.07" y1="378.22" x2="140.07" y2="383.08" stroke="#00ffff" stroke-width="1.4"/>
<line x1="140.88" y1="381.38" x2="140.88" y2="385.17" stroke="#00ffff" stroke-width="1.4"/>
<line x1="141.72" y1="378.84" x2="141.72" y2="387.05" stroke="#00ffff" stroke-width="1.4"/>
<line x1="142.57" y1="382.53" x2="142.57" y2="387.05" stroke="#00ffff" stroke-width="1.4"/>
<line x1="143.33" y1="383.74" x2="143.33" y2="387.92" stroke="#00ffff" stroke-width="1.4"/>
<line x1="144.08" y1="383.49" x2="144.08" y2="391.82" stroke="#00ffff" stroke-width="1.4"/>
<line x1="145" y1="379.81" x2="145" y2="385.3" stroke="#00ffff" stroke-width="1.4"/>
<line x1="145.74" y1="382.4" x2="145.74" y2="389.94" stroke="#00ffff" stroke-width="1.4"/>
<line x1="146" y1="383.82" x2="146" y2="391.28" stroke="#00ffff" stroke-width="1.4"/>
<line x1="146.47" y1="381.86" x2="146.47" y2="390.07" stroke="#00ffff" stroke-width="1.4"/>
<line x1="147.11" y1="381.51" x2="147.11" y2="389.52" stroke="#00ffff" stroke-width="1.4"/>
<line x1="147.58" y1="381.16" x2="147.58" y2="389.36" stroke="#00ffff" stroke-width="1.4"/>
<line x1="148.12" y1="387.2" x2="148.12" y2="391.64" stroke="#00ffff" stroke-width="1.4"/>
<line x1="148.59" y1="385.14" x2="148.59" y2="391.3" stroke="#00ffff" stroke-width="1.4"/>
<line x1="149.22" y1="382.93" x2="149.22" y2="387.42" stroke="#00ffff" stroke-width="1.4"/>
<line x1="149.78" y1="380.64" x2="149.78" y2="390.37" stroke="#00ffff" stroke-width="1.4"/>
<line x1="150.34" y1="383.39" x2="150.34" y2="390.25" stroke="#00ffff" stroke-width="1.4"/>
<line x1="150.87" y1="378.77" x2="150.87" y2="383.58" stroke="#00ffff" stroke-width="1.4"/>
<line x1="151.44" y1="385.83" x2="151.44" y2="391.16" stroke="#00ffff" stroke-width="1.4"/>
<line x1="152" y1="382.31" x2="152" y2="387.22" stroke="#00ffff" stroke-width="1.4"/>
<line x1="152.64" y1="380.87" x2="152.64" y2="385.36" stroke="#00ffff" stroke-width="1.4"/>
<line x1="153.29" y1="378.3" x2="153.29" y2="387.84" stroke="#00ffff" stroke-width="1.4"/>
<line x1="153.76" y1="379.06" x2="153.76" y2="386.9" stroke="#00ffff" stroke-width="1.4"/>
<line x1="154.36" y1="380.28" x2="154.36" y2="390.25" stroke="#00ffff" stroke-width="1.4"/>
<line x1="154.97" y1="379.94" x2="154.97" y2="388.96" stroke="#00ffff" stroke-width="1.4"/>
<line x1="155.53" y1="379.88" x2="155.53" y2="387.36" stroke="#00ffff" stroke-width="1.4"/>
<line x1="156.17" y1="380.92" x2="156.17" y2="390.31" stroke="#00ffff" stroke-width="1.4"/>
<line x1="156.8" y1="380.18" x2="156.8" y2="388.82" stroke="#00ffff" stroke-width="1.4"/>
<line x1="157.33" y1="378.49" x2="157.33" y2="388.78" stroke="#00ffff" stroke-width="1.4"/>
<line x1="157.9" y1="384.81" x2="157.9" y2="391.25" stroke="#00ffff" stroke-width="1.4"/>
<line x1="158.5" y1="378.25" x2="158.5" y2="388.64" stroke="#00ffff" stroke-width="1.4"/>
<line x1="159.15" y1="382.43" x2="159.15" y2="387.98" stroke="#00ffff" stroke-width="1.4"/>
<line x1="159.7" y1="382.29" x2="159.7" y2="388.51" stroke="#00ffff" stroke-width="1.4"/>
<line x1="160.21" y1="379.07" x2="160.21" y2="385.35" stroke="#00ffff" stroke-width="1.4"/>
<line x1="160.79" y1="381.06" x2="160.79" y2="390.96" stroke="#00ffff" stroke-width="1.4"/>
<line x1="161.24" y1="378.94" x2="161.24" y2="384.46" stroke="#00ffff" stroke-width="1.4"/>
<line x1="161.8" y1="383.3" x2="161.8" y2="390.28" stroke="#00ffff" stroke-width="1.4"/>
<line x1="162.41" y1="381.61" x2="162.41" y2="387.67" stroke="#00ffff" stroke-width="1.4"/>
<line x1="163" y1="381.26" x2="163" y2="386.85" stroke="#00ffff" stroke-width="1.4"/>
<line x1="163.61" y1="381.99" x2="163.61" y2="391.46" stroke="#00ffff" stroke-width="1.4"/>
<line x1="164.08" y1="388.3" x2="164.08" y2="393.85" stroke="#00ffff" stroke-width="1.4"/>
<line x1="164.7" y1="375.83" x2="164.7" y2="383.88" stroke="#00ffff" stroke-width="1.4"/>
<line x1="165.25" y1="377.99" x2="165.25" y2="385.66" stroke="#00ffff" stroke-width="1.4"/>
<line x1="165.86" y1="379.65" x2="165.86" y2="388.82" stroke="#00ffff" stroke-width="1.4"/>
<line x1="166.37" y1="382.76" x2="166.37" y2="391.87" stroke="#00ffff" stroke-width="1.4"/>
<line x1="166.94" y1="383.45" x2="166.94" y2="388.2" stroke="#00ffff" stroke-width="1.4"/>
<line x1="167.5" y1="380.04" x2="167.5" y2="385.13" stroke="#00ffff" stroke-width="1.4"/>
<line x1="168.05" y1="381.21" x2="168.05" y2="387.55" stroke="#00ffff" stroke-width="1.4"/>
<line x1="168.56" y1="380.17" x2="168.56" y2="386.23" stroke="#00ffff" stroke-width="1.4"/>
<line x1="169.18" y1="381.57" x2="169.18" y2="388.13" stroke="#00ffff" stroke-width="1.4"/>
<line x1="169.7" y1="382.71" x2="169.7" y2="389.01" stroke="#00ffff" stroke-width="1.4"/>
<line x1="170.25" y1="374.8" x2="170.25" y2="385.04" stroke="#00ffff" stroke-width="1.4"/>
<line x1="170.79" y1="384.4" x2="170.79" y2="389.36" stroke="#00ffff" stroke-width="1.4"/>
<line x1="171.36" y1="383.34" x2="171.36" y2="388.71" stroke="#00ffff" stroke-width="1.4"/>
<line x1="172" y1="378.69" x2="172" y2="384.83" stroke="#00ffff" stroke-width="1.4"/>
<line x1="172.5" y1="380.83" x2="172.5" y2="386.25" stroke="#00ffff" stroke-width="1.4"/>
<line x1="173.07" y1="378.75" x2="173.07" y2="388.95" stroke="#00ffff" stroke-width="1.4"/>
<line x1="173.73" y1="376.81" x2="173.73" y2="391.29" stroke="#00ffff" stroke-width="1.4"/>
<line x1="174.17" y1="378.16" x2="174.17" y2="386.11" stroke="#00ffff" stroke-width="1.4"/>
<line x1="174.81" y1="382.71" x2="174.81" y2="393.1" stroke="#00ffff" stroke-width="1.4"/>
<line x1="175.45" y1="381.16" x2="175.45" y2="388.06" stroke="#00ffff" stroke-width="1.4"/>
<line x1="175.91" y1="378.42" x2="175.91" y2="389.23" stroke="#00ffff" stroke-width="1.4"/>
<line x1="176.39" y1="383.21" x2="176.39" y2="389.59" stroke="#00ffff" stroke-width="1.4"/>
<line x1="176.87" y1="377.38" x2="176.87" y2="388.36" stroke="#00ffff" stroke-width="1.4"/>
<line x1="177.32" y1="378.9" x2="177.32" y2="389.76" stroke="#00ffff" stroke-width="1.4"/>
<line x1="177.88" y1="379.86" x2="177.88" y2="389.57" stroke="#00ffff" stroke-width="1.4"/>
<line x1="178.42" y1="384.31" x2="178.42" y2="389.25" stroke="#00ffff" stroke-width="1.4"/>
<line x1="179.03" y1="381.91" x2="179.03" y2="390.67" stroke="#00ffff" stroke-width="1.4"/>
<line x1="179.61" y1="378.67" x2="179.61" y2="386.15" stroke="#00ffff" stroke-width="1.4"/>
<line x1="180.14" y1="381.47" x2="180.14" y2="389.3" stroke="#00ffff" stroke-width="1.4"/>
<line x1="180.78" y1="381.77" x2="180.78" y2="392.72" stroke="#00ffff" stroke-width="1.4"/>
<line x1="181.25" y1="372.61" x2="181.25" y2="393.49" stroke="#00ffff" stroke-width="1.4"/>
<line x1="181.83" y1="376.77" x2="181.83" y2="386.87" stroke="#00ffff" stroke-width="1.4"/>
<line x1="182.47" y1="380.58" x2="182.47" y2="395.62" stroke="#00ffff" stroke-width="1.4"/>
<line x1="182.93" y1="383.98" x2="182.93" y2="390.51" stroke="#00ffff" stroke-width="1.4"/>
<line x1="183.45" y1="380.91" x2="183.45" y2="388.11" stroke="#00ffff" stroke-width="1.4"/>
<line x1="183.93" y1="375.6" x2="183.93" y2="383.51" stroke="#00ffff" stroke-width="1.4"/>
<line x1="184.46" y1="379.96" x2="184.46" y2="393.26" stroke="#00ffff" stroke-width="1.4"/>
<line x1="185.03" y1="380.14" x2="185.03" y2="386.9" stroke="#00ffff" stroke-width="1.4"/>
<line x1="185.57" y1="385.45" x2="185.57" y2="393.7" stroke="#00ffff" stroke-width="1.4"/>
<line x1="186.12" y1="376.07" x2="186.12" y2="387.31" stroke="#00ffff" stroke-width="1.4"/>
<line x1="186.74" y1="378.51" x2="186.74" y2="384.36" stroke="#00ffff" stroke-width="1.4"/>
<line x1="187.4" y1="379.67" x2="187.4" y2="386.33" stroke="#00ffff" stroke-width="1.4"/>
<line x1="187.92" y1="381.86" x2="187.92" y2="389.73" stroke="#00ffff" stroke-width="1.4"/>
<line x1="188.55" y1="381.72" x2="188.55" y2="391.13" stroke="#00ffff" stroke-width="1.4"/>
<line x1="189.1" y1="380.44" x2="189.1" y2="388.99" stroke="#00ffff" stroke-width="1.4"/>
<line x1="189.71" y1="379.47" x2="189.71" y2="394.56" stroke="#00ffff" stroke-width="1.4"/>
<line x1="190.24" y1="380.65" x2="190.24" y2="387.64" stroke="#00ffff" stroke-width="1.4"/>
<line x1="190.87" y1="379.8" x2="190.87" y2="386.12" stroke="#00ffff" stroke-width="1.4"/>
<line x1="191.49" y1="379.05" x2="191.49" y2="390.26" stroke="#00ffff" stroke-width="1.4"/>
<line x1="192.1" y1="380.73" x2="192.1" y2="390.46" stroke="#00ffff" stroke-width="1.4"/>
<line x1="192.58" y1="378.99" x2="192.58" y2="393.51" stroke="#00ffff" stroke-width="1.4"/>
<line x1="193.17" y1="373.96" x2="193.17" y2="385.42" stroke="#00ffff" stroke-width="1.4"/>
<line x1="193.69" y1="380.72" x2="193.69" y2="387.83" stroke="#00ffff" stroke-width="1.4"/>
<line x1="194.34" y1="382.08" x2="194.34" y2="392.53" stroke="#00ffff" stroke-width="1.4"/>
<line x1="194.92" y1="382.99" x2="194.92" y2="389.9" stroke="#00ffff" stroke-width="1.4"/>
<line x1="195.58" y1="384.52" x2="195.58" y2="393.71" stroke="#00ffff" stroke-width="1.4"/>
<line x1="196.1" y1="380.06" x2="196.1" y2="391.75" stroke="#00ffff" stroke-width="1.4"/>
<line x1="196.55" y1="378.13" x2="196.55" y2="389.13" stroke="#00ffff" stroke-width="1.4"/>
<line x1="197.16" y1="380.91" x2="197.16" y2="392.19" stroke="#00ffff" stroke-width="1.4"/>
<line x1="197.8" y1="379.4" x2="197.8" y2="389.75" stroke="#00ffff" stroke-width="1.4"/>
<line x1="198.25" y1="380.77" x2="198.25" y2="391.64" stroke="#00ffff" stroke-width="1.4"/>
<line x1="198.74" y1="384.99" x2="198.74" y2="391.43" stroke="#00ffff" stroke-width="1.4"/>
<line x1="199.3" y1="374.99" x2="199.3" y2="398.95" stroke="#00ffff" stroke-width="1.4"/>
<line x1="199.95" y1="379.18" x2="199.95" y2="390.35" stroke="#00ffff" stroke-width="1.4"/>
<line x1="200" y1="385.79" x2="200" y2="390.54" stroke="#00ffff" stroke-width="1.5"/>
<line x1="200.85" y1="388.29" x2="200.85" y2="393.23" stroke="#00ffff" stroke-width="1.5"/>
<line x1="201.78" y1="386.74" x2="201.78" y2="394.09" stroke="#00ffff" stroke-width="1.5"/>
<line x1="202.54" y1="389.2" x2="202.54" y2="393.98" stroke="#00ffff" stroke-width="1.5"/>
<line x1="203.5" y1="385.08" x2="203.5" y2="391.05" stroke="#00ffff" stroke-width="1.5"/>
<line x1="204.56" y1="388.96" x2="204.56" y2="396.12" stroke="#00ffff" stroke-width="1.5"/>
<line x1="205.5" y1="388.09" x2="205.5" y2="392.01" stroke="#00ffff" stroke-width="1.5"/>
<line x1="206.24" y1="384.41" x2="206.24" y2="392.39" stroke="#00ffff" stroke-width="1.5"/>
<line x1="207.26" y1="387.93" x2="207.26" y2="394.58" stroke="#00ffff" stroke-width="1.5"/>
<line x1="208.1" y1="384.9" x2="208.1" y2="390.37" stroke="#00ffff" stroke-width="1.5"/>
<line x1="209.06" y1="388.39" x2="209.06" y2="394.05" stroke="#00ffff" stroke-width="1.5"/>
<line x1="210.02" y1="388.26" x2="210.02" y2="393.1" stroke="#00ffff" stroke-width="1.5"/>
<line x1="210.81" y1="386.11" x2="210.81" y2="393.47" stroke="#00ffff" stroke-width="1.5"/>
<line x1="211.68" y1="377.92" x2="211.68" y2="390.47" stroke="#00ffff" stroke-width="1.5"/>
<line x1="212.76" y1="384.84" x2="212.76" y2="402.95" stroke="#00ffff" stroke-width="1.5"/>
<line x1="213.79" y1="382.84" x2="213.79" y2="390.11" stroke="#00ffff" stroke-width="1.5"/>
<line x1="214.8" y1="384.55" x2="214.8" y2="388.73" stroke="#00ffff" stroke-width="1.5"/>
<line x1="215.56" y1="389.07" x2="215.56" y2="393.3" stroke="#00ffff" stroke-width="1.5"/>
<line x1="216.41" y1="384.91" x2="216.41" y2="394.78" stroke="#00ffff" stroke-width="1.5"/>
<line x1="217.47" y1="391.24" x2="217.47" y2="395.77" stroke="#00ffff" stroke-width="1.5"/>
<line x1="218.53" y1="384.42" x2="218.53" y2="390.92" stroke="#00ffff" stroke-width="1.5"/>
<line x1="219.57" y1="389.17" x2="219.57" y2="394.8" stroke="#00ffff" stroke-width="1.5"/>
<line x1="220.55" y1="385.52" x2="220.55" y2="391.26" stroke="#00ffff" stroke-width="1.5"/>
<line x1="221.52" y1="386.46" x2="221.52" y2="393.68" stroke="#00ffff" stroke-width="1.5"/>
<line x1="222.57" y1="388.71" x2="222.57" y2="394.62" stroke="#00ffff" stroke-width="1.5"/>
<line x1="223.58" y1="388.84" x2="223.58" y2="394.13" stroke="#00ffff" stroke-width="1.5"/>
<line x1="224.65" y1="386.81" x2="224.65" y2="393.32" stroke="#00ffff" stroke-width="1.5"/>
<line x1="225.43" y1="388.34" x2="225.43" y2="394.48" stroke="#00ffff" stroke-width="1.5"/>
<line x1="226.46" y1="383.65" x2="226.46" y2="394.74" stroke="#00ffff" stroke-width="1.5"/>
<line x1="227.19" y1="383.96" x2="227.19" y2="390.3" stroke="#00ffff" stroke-width="1.5"/>
<line x1="228.1" y1="384.26" x2="228.1" y2="393.45" stroke="#00ffff" stroke-width="1.5"/>
<line x1="229.09" y1="379.58" x2="229.09" y2="387.91" stroke="#00ffff" stroke-width="1.5"/>
<line x1="229.96" y1="384.77" x2="229.96" y2="393.09" stroke="#00ffff" stroke-width="1.5"/>
<line x1="230.76" y1="379.12" x2="230.76" y2="397.85" stroke="#00ffff" stroke-width="1.5"/>
<line x1="231.78" y1="383.73" x2="231.78" y2="393.65" stroke="#00ffff" stroke-width="1.5"/>
<line x1="232.6" y1="383.46" x2="232.6" y2="392.12" stroke="#00ffff" stroke-width="1.5"/>
<line x1="233.36" y1="384.18" x2="233.36" y2="391.12" stroke="#00ffff" stroke-width="1.5"/>
<line x1="234.12" y1="381.98" x2="234.12" y2="387.39" stroke="#00ffff" stroke-width="1.5"/>
<line x1="234.94" y1="389.36" x2="234.94" y2="397.64" stroke="#00ffff" stroke-width="1.5"/>
<line x1="235.97" y1="385.79" x2="235.97" y2="392.49" stroke="#00ffff" stroke-width="1.5"/>
<line x1="202" y1="392" x2="202" y2="403.5" stroke="#00ffff" stroke-width="1.5"/>
<line x1="172" y1="376.66" x2="172" y2="382.26" stroke="#ff00ff" stroke-width="1.5"/>
<line x1="174.89" y1="378.1" x2="174.89" y2="382.9" stroke="#ff00ff" stroke-width="1.5"/>
<line x1="178.54" y1="372.69" x2="178.54" y2="379.48" stroke="#ff00ff" stroke-width="1.5"/>
<line x1="181.97" y1="378.52" x2="181.97" y2="383.35" stroke="#ff00ff" stroke-width="1.5"/>
<line x1="185.72" y1="381.1" x2="185.72" y2="385.67" stroke="#ff00ff" stroke-width="1.5"/>
<line x1="190" y1="381.69" x2="190" y2="385.36" stroke="#ff00ff" stroke-width="1.5"/>
<line x1="194.17" y1="375.7" x2="194.17" y2="380.81" stroke="#ff00ff" stroke-width="1.5"/>
<line x1="197.5" y1="375.53" x2="197.5" y2="383.37" stroke="#ff00ff" stroke-width="1.5"/>
<line x1="201" y1="373.34" x2="201" y2="385.7" stroke="#ff00ff" stroke-width="1.5"/>
<line x1="204.85" y1="378.28" x2="204.85" y2="382.54" stroke="#ff00ff" stroke-width="1.5"/>
<line x1="208.32" y1="377.35" x2="208.32" y2="384.01" stroke="#ff00ff" stroke-width="1.5"/>
<line x1="150" y1="390.5" x2="150" y2="394.62" stroke="#ff00ff" stroke-width="1.5"/>
<line x1="154.98" y1="389.75" x2="154.98" y2="395.77" stroke="#ff00ff" stroke-width="1.5"/>
<line x1="159.83" y1="390.01" x2="159.83" y2="394.21" stroke="#ff00ff" stroke-width="1.5"/>
<line x1="163.56" y1="389.54" x2="163.56" y2="393.64" stroke="#ff00ff" stroke-width="1.5"/>
<line x1="168.34" y1="388.45" x2="168.34" y2="395.18" stroke="#ff00ff" stroke-width="1.5"/>
<line x1="173.69" y1="390.33" x2="173.69" y2="396.03" stroke="#ff00ff" stroke-width="1.5"/>
<line x1="178.76" y1="390.31" x2="178.76" y2="395.26" stroke="#ff00ff" stroke-width="1.5"/>
<line x1="183.38" y1="392.7" x2="183.38" y2="396.44" stroke="#ff00ff" stroke-width="1.5"/>
<line x1="188.11" y1="388.39" x2="188.11" y2="395.23" stroke="#ff00ff" stroke-width="1.5"/>
<line x1="192.99" y1="387.3" x2="192.99" y2="393.32" stroke="#ff00ff" stroke-width="1.5"/>
<line x1="197.31" y1="390.45" x2="197.31" y2="394.14" stroke="#ff00ff" stroke-width="1.5"/>
<line x1="146" y1="383.44" x2="146" y2="389.17" stroke="#ffff00" stroke-width="1.3"/>
<line x1="146.75" y1="384.9" x2="146.75" y2="390.45" stroke="#ffff00" stroke-width="1.3"/>
<line x1="147.5" y1="383.94" x2="147.5" y2="388.23" stroke="#ffff00" stroke-width="1.3"/>
<line x1="148.25" y1="384.62" x2="148.25" y2="388.91" stroke="#ffff00" stroke-width="1.3"/>
<line x1="149" y1="385.19" x2="149" y2="390.75" stroke="#ffff00" stroke-width="1.3"/>
<line x1="149.75" y1="385.48" x2="149.75" y2="389.54" stroke="#ffff00" stroke-width="1.3"/>
<line x1="150.5" y1="383.93" x2="150.5" y2="390.95" stroke="#ffff00" stroke-width="1.3"/>
<line x1="151.25" y1="383.85" x2="151.25" y2="389.12" stroke="#ffff00" stroke-width="1.3"/>
<line x1="152" y1="383.64" x2="152" y2="390.16" stroke="#ffff00" stroke-width="1.3"/>
<line x1="152.75" y1="383.48" x2="152.75" y2="389.25" stroke="#ffff00" stroke-width="1.3"/>
<line x1="153.5" y1="383.6" x2="153.5" y2="387.89" stroke="#ffff00" stroke-width="1.3"/>
<line x1="154.25" y1="384.48" x2="154.25" y2="388.39" stroke="#ffff00" stroke-width="1.3"/>
<line x1="155" y1="384.54" x2="155" y2="390.47" stroke="#ffff00" stroke-width="1.3"/>
<line x1="155.75" y1="386.81" x2="155.75" y2="390.82" stroke="#ffff00" stroke-width="1.3"/>
<line x1="156.5" y1="384.53" x2="156.5" y2="388.98" stroke="#ffff00" stroke-width="1.3"/>
<line x1="157.25" y1="384.58" x2="157.25" y2="389.13" stroke="#ffff00" stroke-width="1.3"/>
<line x1="158" y1="384.32" x2="158" y2="389.46" stroke="#ffff00" stroke-width="1.3"/>
<line x1="158.75" y1="385.02" x2="158.75" y2="389.01" stroke="#ffff00" stroke-width="1.3"/>
<line x1="159.5" y1="384.47" x2="159.5" y2="389.08" stroke="#ffff00" stroke-width="1.3"/>
<line x1="160.25" y1="384.01" x2="160.25" y2="389.81" stroke="#ffff00" stroke-width="1.3"/>
<line x1="161" y1="385.16" x2="161" y2="389.55" stroke="#ffff00" stroke-width="1.3"/>
<line x1="161.75" y1="386.11" x2="161.75" y2="391.46" stroke="#ffff00" stroke-width="1.3"/>
<line x1="162.5" y1="385.42" x2="162.5" y2="390.65" stroke="#ffff00" stroke-width="1.3"/>
<line x1="163.25" y1="383.83" x2="163.25" y2="390.96" stroke="#ffff00" stroke-width="1.3"/>
<line x1="164" y1="386.7" x2="164" y2="390.72" stroke="#ffff00" stroke-width="1.3"/>
<line x1="164.75" y1="384.29" x2="164.75" y2="390.08" stroke="#ffff00" stroke-width="1.3"/>
<line x1="165.5" y1="382.95" x2="165.5" y2="388.16" stroke="#ffff00" stroke-width="1.3"/>
<line x1="166.25" y1="382.57" x2="166.25" y2="386.44" stroke="#ffff00" stroke-width="1.3"/>
<line x1="167" y1="382.26" x2="167" y2="389.01" stroke="#ffff00" stroke-width="1.3"/>
<line x1="167.75" y1="383.43" x2="167.75" y2="388.52" stroke="#ffff00" stroke-width="1.3"/>
<line x1="168.5" y1="384.07" x2="168.5" y2="387.89" stroke="#ffff00" stroke-width="1.3"/>
<line x1="169.25" y1="383.79" x2="169.25" y2="388.82" stroke="#ffff00" stroke-width="1.3"/>
<line x1="170" y1="382.81" x2="170" y2="387.75" stroke="#ffff00" stroke-width="1.3"/>
<line x1="170.75" y1="382.69" x2="170.75" y2="388.7" stroke="#ffff00" stroke-width="1.3"/>
<line x1="171.5" y1="381.33" x2="171.5" y2="388.4" stroke="#ffff00" stroke-width="1.3"/>
<line x1="172.25" y1="380.38" x2="172.25" y2="386.06" stroke="#ffff00" stroke-width="1.3"/>
<line x1="173" y1="382.12" x2="173" y2="387.23" stroke="#ffff00" stroke-width="1.3"/>
<line x1="173.75" y1="381.35" x2="173.75" y2="386.63" stroke="#ffff00" stroke-width="1.3"/>
<line x1="174.5" y1="382.1" x2="174.5" y2="386.84" stroke="#ffff00" stroke-width="1.3"/>
<line x1="175.25" y1="383.84" x2="175.25" y2="388.46" stroke="#ffff00" stroke-width="1.3"/>
<line x1="176" y1="383.88" x2="176" y2="388.13" stroke="#ffff00" stroke-width="1.3"/>
<line x1="176.75" y1="382.81" x2="176.75" y2="389.29" stroke="#ffff00" stroke-width="1.3"/>
<line x1="177.5" y1="383.92" x2="177.5" y2="389.61" stroke="#ffff00" stroke-width="1.3"/>
<line x1="178.25" y1="382.5" x2="178.25" y2="387.11" stroke="#ffff00" stroke-width="1.3"/>
<line x1="179" y1="382.83" x2="179" y2="387.88" stroke="#ffff00" stroke-width="1.3"/>
<line x1="179.75" y1="382.67" x2="179.75" y2="388.61" stroke="#ffff00" stroke-width="1.3"/>
<line x1="180.5" y1="383.65" x2="180.5" y2="389.43" stroke="#ffff00" stroke-width="1.3"/>
<line x1="181.25" y1="383.81" x2="181.25" y2="388.31" stroke="#ffff00" stroke-width="1.3"/>
<line x1="182" y1="383.65" x2="182" y2="390.37" stroke="#ffff00" stroke-width="1.3"/>
<line x1="182.75" y1="382.25" x2="182.75" y2="389.45" stroke="#ffff00" stroke-width="1.3"/>
<line x1="183.5" y1="381.36" x2="183.5" y2="387.18" stroke="#ffff00" stroke-width="1.3"/>
<line x1="184.25" y1="379.91" x2="184.25" y2="385.52" stroke="#ffff00" stroke-width="1.3"/>
<line x1="185" y1="382.5" x2="185" y2="387.67" stroke="#ffff00" stroke-width="1.3"/>
<line x1="185.75" y1="382.12" x2="185.75" y2="388.47" stroke="#ffff00" stroke-width="1.3"/>
<line x1="186.5" y1="381.64" x2="186.5" y2="387.75" stroke="#ffff00" stroke-width="1.3"/>
<line x1="187.25" y1="383.39" x2="187.25" y2="389.69" stroke="#ffff00" stroke-width="1.3"/>
<line x1="188" y1="384.09" x2="188" y2="390.49" stroke="#ffff00" stroke-width="1.3"/>
<line x1="188.75" y1="386.09" x2="188.75" y2="390.38" stroke="#ffff00" stroke-width="1.3"/>
<line x1="189.5" y1="385.86" x2="189.5" y2="389.71" stroke="#ffff00" stroke-width="1.3"/>
<line x1="190.25" y1="383.74" x2="190.25" y2="390.18" stroke="#ffff00" stroke-width="1.3"/>
<line x1="191" y1="383.19" x2="191" y2="387.78" stroke="#ffff00" stroke-width="1.3"/>
<line x1="191.75" y1="384.45" x2="191.75" y2="388.49" stroke="#ffff00" stroke-width="1.3"/>
<line x1="192.5" y1="384.63" x2="192.5" y2="391.53" stroke="#ffff00" stroke-width="1.3"/>
<line x1="193.25" y1="385.73" x2="193.25" y2="390.18" stroke="#ffff00" stroke-width="1.3"/>
<line x1="194" y1="382.91" x2="194" y2="389.15" stroke="#ffff00" stroke-width="1.3"/>
<line x1="194.75" y1="383.4" x2="194.75" y2="389.97" stroke="#ffff00" stroke-width="1.3"/>
<line x1="195.5" y1="384.28" x2="195.5" y2="389.43" stroke="#ffff00" stroke-width="1.3"/>
<line x1="196.25" y1="382.86" x2="196.25" y2="388.24" stroke="#ffff00" stroke-width="1.3"/>
<line x1="197" y1="383.99" x2="197" y2="389.92" stroke="#ffff00" stroke-width="1.3"/>
<line x1="197.75" y1="381.88" x2="197.75" y2="388.86" stroke="#ffff00" stroke-width="1.3"/>
<line x1="198.5" y1="382.04" x2="198.5" y2="386.44" stroke="#ffff00" stroke-width="1.3"/>
<line x1="199.25" y1="380.57" x2="199.25" y2="386.72" stroke="#ffff00" stroke-width="1.3"/>
<line x1="200" y1="381.92" x2="200" y2="388.77" stroke="#ffff00" stroke-width="1.3"/>
<line x1="200.75" y1="383.88" x2="200.75" y2="389.26" stroke="#ffff00" stroke-width="1.3"/>
<line x1="201.5" y1="382.61" x2="201.5" y2="389.81" stroke="#ffff00" stroke-width="1.3"/>
<line x1="202.25" y1="382.16" x2="202.25" y2="386.29" stroke="#ffff00" stroke-width="1.3"/>
<line x1="203" y1="383.04" x2="203" y2="387.83" stroke="#ffff00" stroke-width="1.3"/>
<line x1="203.75" y1="382.67" x2="203.75" y2="387.22" stroke="#ffff00" stroke-width="1.3"/>
<line x1="204.5" y1="382.82" x2="204.5" y2="388.92" stroke="#ffff00" stroke-width="1.3"/>
<line x1="205.25" y1="381.69" x2="205.25" y2="386.95" stroke="#ffff00" stroke-width="1.3"/>
<line x1="206" y1="381.69" x2="206" y2="388.07" stroke="#ffff00" stroke-width="1.3"/>
<line x1="206.75" y1="382.48" x2="206.75" y2="388.16" stroke="#ffff00" stroke-width="1.3"/>
<line x1="207.5" y1="382.98" x2="207.5" y2="388.92" stroke="#ffff00" stroke-width="1.3"/>
<line x1="208.25" y1="383.92" x2="208.25" y2="388.49" stroke="#ffff00" stroke-width="1.3"/>
<line x1="209" y1="382.2" x2="209" y2="387.69" stroke="#ffff00" stroke-width="1.3"/>
<line x1="209.75" y1="379.55" x2="209.75" y2="385.63" stroke="#ffff00" stroke-width="1.3"/>
<line x1="210.5" y1="379.84" x2="210.5" y2="385.6" stroke="#ffff00" stroke-width="1.3"/>
<line x1="62.5" y1="384.81" x2="62.5" y2="388.57" stroke="#00ff00" stroke-width="1.2"/>
<line x1="63.1" y1="384.69" x2="63.1" y2="388.24" stroke="#00ff00" stroke-width="1.2"/>
<line x1="63.7" y1="385.73" x2="63.7" y2="389.15" stroke="#00ff00" stroke-width="1.2"/>
<line x1="64.3" y1="384.45" x2="64.3" y2="388.19" stroke="#00ff00" stroke-width="1.2"/>
<line x1="64.9" y1="386.19" x2="64.9" y2="388.32" stroke="#00ff00" stroke-width="1.2"/>
<line x1="65.5" y1="385.34" x2="65.5" y2="388.21" stroke="#00ff00" stroke-width="1.2"/>
<line x1="66.1" y1="384.49" x2="66.1" y2="388.96" stroke="#00ff00" stroke-width="1.2"/>
<line x1="66.7" y1="384.45" x2="66.7" y2="387.67" stroke="#00ff00" stroke-width="1.2"/>
<line x1="67.3" y1="384.23" x2="67.3" y2="388.02" stroke="#00ff00" stroke-width="1.2"/>
<line x1="67.9" y1="382.73" x2="67.9" y2="385.5" stroke="#00ff00" stroke-width="1.2"/>
<line x1="68.5" y1="382.09" x2="68.5" y2="386.89" stroke="#00ff00" stroke-width="1.2"/>
<line x1="69.1" y1="383.44" x2="69.1" y2="386.9" stroke="#00ff00" stroke-width="1.2"/>
<line x1="69.7" y1="383.19" x2="69.7" y2="387.38" stroke="#00ff00" stroke-width="1.2"/>
<line x1="70.3" y1="384" x2="70.3" y2="388.68" stroke="#00ff00" stroke-width="1.2"/>
<line x1="70.9" y1="383.74" x2="70.9" y2="388" stroke="#00ff00" stroke-width="1.2"/>
<line x1="71.5" y1="384.11" x2="71.5" y2="387.05" stroke="#00ff00" stroke-width="1.2"/>
<line x1="72.1" y1="383.04" x2="72.1" y2="387.71" stroke="#00ff00" stroke-width="1.2"/>
<line x1="72.7" y1="382.84" x2="72.7" y2="386.69" stroke="#00ff00" stroke-width="1.2"/>
<line x1="73.3" y1="383.52" x2="73.3" y2="388.44" stroke="#00ff00" stroke-width="1.2"/>
<line x1="73.9" y1="385.45" x2="73.9" y2="389.61" stroke="#00ff00" stroke-width="1.2"/>
<line x1="74.5" y1="384.8" x2="74.5" y2="389.69" stroke="#00ff00" stroke-width="1.2"/>
<line x1="75.1" y1="385.62" x2="75.1" y2="388.86" stroke="#00ff00" stroke-width="1.2"/>
<line x1="75.7" y1="385.28" x2="75.7" y2="388.34" stroke="#00ff00" stroke-width="1.2"/>
<line x1="76.3" y1="386.36" x2="76.3" y2="390.03" stroke="#00ff00" stroke-width="1.2"/>
<line x1="76.9" y1="386.68" x2="76.9" y2="389.71" stroke="#00ff00" stroke-width="1.2"/>
<line x1="77.5" y1="385.53" x2="77.5" y2="390.38" stroke="#00ff00" stroke-width="1.2"/>
<line x1="78.1" y1="384.17" x2="78.1" y2="389.14" stroke="#00ff00" stroke-width="1.2"/>
<line x1="78.7" y1="385.28" x2="78.7" y2="387.96" stroke="#00ff00" stroke-width="1.2"/>
<line x1="79.3" y1="384" x2="79.3" y2="388.85" stroke="#00ff00" stroke-width="1.2"/>
<line x1="79.9" y1="383.57" x2="79.9" y2="388.67" stroke="#00ff00" stroke-width="1.2"/>
<line x1="80.5" y1="384.48" x2="80.5" y2="389.26" stroke="#00ff00" stroke-width="1.2"/>
<line x1="81.1" y1="385.58" x2="81.1" y2="389.2" stroke="#00ff00" stroke-width="1.2"/>
<line x1="81.7" y1="384.65" x2="81.7" y2="388.95" stroke="#00ff00" stroke-width="1.2"/>
<line x1="82.3" y1="383.34" x2="82.3" y2="389.51" stroke="#00ff00" stroke-width="1.2"/>
<line x1="82.9" y1="383.09" x2="82.9" y2="389.45" stroke="#00ff00" stroke-width="1.2"/>
<line x1="83.5" y1="383.06" x2="83.5" y2="388.98" stroke="#00ff00" stroke-width="1.2"/>
<line x1="84.1" y1="383.12" x2="84.1" y2="388.56" stroke="#00ff00" stroke-width="1.2"/>
<line x1="84.7" y1="384.8" x2="84.7" y2="387.8" stroke="#00ff00" stroke-width="1.2"/>
<line x1="85.3" y1="383.02" x2="85.3" y2="389.32" stroke="#00ff00" stroke-width="1.2"/>
<line x1="85.9" y1="384.21" x2="85.9" y2="388.36" stroke="#00ff00" stroke-width="1.2"/>
<line x1="86.5" y1="383.4" x2="86.5" y2="390.07" stroke="#00ff00" stroke-width="1.2"/>
<line x1="87.1" y1="385.1" x2="87.1" y2="388.78" stroke="#00ff00" stroke-width="1.2"/>
<line x1="87.7" y1="383.9" x2="87.7" y2="388.1" stroke="#00ff00" stroke-width="1.2"/>
<line x1="88.3" y1="383.79" x2="88.3" y2="389.07" stroke="#00ff00" stroke-width="1.2"/>
<line x1="88.9" y1="383.58" x2="88.9" y2="390.57" stroke="#00ff00" stroke-width="1.2"/>
<line x1="89.5" y1="384.46" x2="89.5" y2="389.55" stroke="#00ff00" stroke-width="1.2"/>
<line x1="90.1" y1="383.69" x2="90.1" y2="389.84" stroke="#00ff00" stroke-width="1.2"/>
<line x1="90.7" y1="383.94" x2="90.7" y2="388.23" stroke="#00ff00" stroke-width="1.2"/>
<line x1="91.3" y1="382.68" x2="91.3" y2="387.92" stroke="#00ff00" stroke-width="1.2"/>
<line x1="91.9" y1="381.31" x2="91.9" y2="387.81" stroke="#00ff00" stroke-width="1.2"/>
<line x1="92.5" y1="383.21" x2="92.5" y2="386.9" stroke="#00ff00" stroke-width="1.2"/>
<line x1="93.1" y1="383.85" x2="93.1" y2="388.38" stroke="#00ff00" stroke-width="1.2"/>
<line x1="93.7" y1="382.35" x2="93.7" y2="388.65" stroke="#00ff00" stroke-width="1.2"/>
<line x1="94.3" y1="382.15" x2="94.3" y2="388.31" stroke="#00ff00" stroke-width="1.2"/>
<line x1="94.9" y1="384.82" x2="94.9" y2="388.35" stroke="#00ff00" stroke-width="1.2"/>
<line x1="95.5" y1="384.41" x2="95.5" y2="389.56" stroke="#00ff00" stroke-width="1.2"/>
<line x1="96.1" y1="383.29" x2="96.1" y2="390.94" stroke="#00ff00" stroke-width="1.2"/>
<line x1="96.7" y1="384.39" x2="96.7" y2="390.19" stroke="#00ff00" stroke-width="1.2"/>
<line x1="97.3" y1="385.67" x2="97.3" y2="389.65" stroke="#00ff00" stroke-width="1.2"/>
<line x1="97.9" y1="383.23" x2="97.9" y2="389.99" stroke="#00ff00" stroke-width="1.2"/>
<line x1="98.5" y1="383.58" x2="98.5" y2="388.87" stroke="#00ff00" stroke-width="1.2"/>
<line x1="99.1" y1="383.81" x2="99.1" y2="390.34" stroke="#00ff00" stroke-width="1.2"/>
<line x1="99.7" y1="384.41" x2="99.7" y2="388.68" stroke="#00ff00" stroke-width="1.2"/>
<line x1="100.3" y1="382.89" x2="100.3" y2="390.78" stroke="#00ff00" stroke-width="1.2"/>
<line x1="100.9" y1="384.93" x2="100.9" y2="388.89" stroke="#00ff00" stroke-width="1.2"/>
<line x1="101.5" y1="384.21" x2="101.5" y2="388.44" stroke="#00ff00" stroke-width="1.2"/>
<line x1="102.1" y1="382.58" x2="102.1" y2="391.02" stroke="#00ff00" stroke-width="1.2"/>
<line x1="102.7" y1="382.53" x2="102.7" y2="388.21" stroke="#00ff00" stroke-width="1.2"/>
<line x1="103.3" y1="383.28" x2="103.3" y2="389.1" stroke="#00ff00" stroke-width="1.2"/>
<line x1="103.9" y1="382.74" x2="103.9" y2="390.08" stroke="#00ff00" stroke-width="1.2"/>
<line x1="104.5" y1="383.79" x2="104.5" y2="390.67" stroke="#00ff00" stroke-width="1.2"/>
<line x1="105.1" y1="384.59" x2="105.1" y2="389.17" stroke="#00ff00" stroke-width="1.2"/>
<line x1="105.7" y1="383.23" x2="105.7" y2="390.26" stroke="#00ff00" stroke-width="1.2"/>
<line x1="106.3" y1="383.98" x2="106.3" y2="389.9" stroke="#00ff00" stroke-width="1.2"/>
<line x1="106.9" y1="384.71" x2="106.9" y2="391.07" stroke="#00ff00" stroke-width="1.2"/>
<line x1="107.5" y1="384.6" x2="107.5" y2="389.7" stroke="#00ff00" stroke-width="1.2"/>
<line x1="108.1" y1="383.2" x2="108.1" y2="390.3" stroke="#00ff00" stroke-width="1.2"/>
<line x1="108.7" y1="382.59" x2="108.7" y2="390.87" stroke="#00ff00" stroke-width="1.2"/>
<line x1="109.3" y1="384.05" x2="109.3" y2="388.5" stroke="#00ff00" stroke-width="1.2"/>
<line x1="109.9" y1="384.11" x2="109.9" y2="388.51" stroke="#00ff00" stroke-width="1.2"/>
<line x1="110.5" y1="383.81" x2="110.5" y2="388.28" stroke="#00ff00" stroke-width="1.2"/>
<line x1="111.1" y1="382.86" x2="111.1" y2="387.08" stroke="#00ff00" stroke-width="1.2"/>
<line x1="111.7" y1="381.91" x2="111.7" y2="389.91" stroke="#00ff00" stroke-width="1.2"/>
<line x1="112.3" y1="382.9" x2="112.3" y2="389.12" stroke="#00ff00" stroke-width="1.2"/>
<line x1="112.9" y1="383.34" x2="112.9" y2="391.18" stroke="#00ff00" stroke-width="1.2"/>
<line x1="113.5" y1="383.29" x2="113.5" y2="390.61" stroke="#00ff00" stroke-width="1.2"/>
<line x1="114.1" y1="382.46" x2="114.1" y2="389.55" stroke="#00ff00" stroke-width="1.2"/>
<line x1="114.7" y1="382.99" x2="114.7" y2="389.64" stroke="#00ff00" stroke-width="1.2"/>
<line x1="115.3" y1="382.93" x2="115.3" y2="388.14" stroke="#00ff00" stroke-width="1.2"/>
<line x1="115.9" y1="382.41" x2="115.9" y2="389" stroke="#00ff00" stroke-width="1.2"/>
<line x1="116.5" y1="381.36" x2="116.5" y2="390.25" stroke="#00ff00" stroke-width="1.2"/>
<line x1="117.1" y1="381.66" x2="117.1" y2="390.12" stroke="#00ff00" stroke-width="1.2"/>
<line x1="117.7" y1="381.86" x2="117.7" y2="389.49" stroke="#00ff00" stroke-width="1.2"/>
<line x1="118.3" y1="383.3" x2="118.3" y2="390.17" stroke="#00ff00" stroke-width="1.2"/>
<line x1="118.9" y1="383.36" x2="118.9" y2="388.67" stroke="#00ff00" stroke-width="1.2"/>
<line x1="119.5" y1="382.08" x2="119.5" y2="391.56" stroke="#00ff00" stroke-width="1.2"/>
<line x1="120.1" y1="381.1" x2="120.1" y2="390.55" stroke="#00ff00" stroke-width="1.2"/>
<line x1="120.7" y1="382.95" x2="120.7" y2="388.85" stroke="#00ff00" stroke-width="1.2"/>
<line x1="121.3" y1="383.3" x2="121.3" y2="388.8" stroke="#00ff00" stroke-width="1.2"/>
<line x1="121.9" y1="381.26" x2="121.9" y2="389.3" stroke="#00ff00" stroke-width="1.2"/>
<line x1="122.5" y1="380.98" x2="122.5" y2="387.79" stroke="#00ff00" stroke-width="1.2"/>
<line x1="123.1" y1="381.64" x2="123.1" y2="387.78" stroke="#00ff00" stroke-width="1.2"/>
<line x1="123.7" y1="381.91" x2="123.7" y2="388.01" stroke="#00ff00" stroke-width="1.2"/>
<line x1="124.3" y1="380.43" x2="124.3" y2="390.99" stroke="#00ff00" stroke-width="1.2"/>
<line x1="124.9" y1="383.22" x2="124.9" y2="389.36" stroke="#00ff00" stroke-width="1.2"/>
<line x1="125.5" y1="382.35" x2="125.5" y2="392.24" stroke="#00ff00" stroke-width="1.2"/>
<line x1="126.1" y1="382.25" x2="126.1" y2="391.19" stroke="#00ff00" stroke-width="1.2"/>
<line x1="126.7" y1="381.67" x2="126.7" y2="390.9" stroke="#00ff00" stroke-width="1.2"/>
<line x1="127.3" y1="382.31" x2="127.3" y2="390.56" stroke="#00ff00" stroke-width="1.2"/>
<line x1="127.9" y1="382.46" x2="127.9" y2="391.71" stroke="#00ff00" stroke-width="1.2"/>
<line x1="128.5" y1="382.45" x2="128.5" y2="390.95" stroke="#00ff00" stroke-width="1.2"/>
<line x1="129.1" y1="380.12" x2="129.1" y2="390.44" stroke="#00ff00" stroke-width="1.2"/>
<line x1="129.7" y1="382.34" x2="129.7" y2="388.21" stroke="#00ff00" stroke-width="1.2"/>
<line x1="130.3" y1="380.64" x2="130.3" y2="388.88" stroke="#00ff00" stroke-width="1.2"/>
<line x1="130.9" y1="378.72" x2="130.9" y2="389.83" stroke="#00ff00" stroke-width="1.2"/>
<line x1="131.5" y1="380.53" x2="131.5" y2="389.64" stroke="#00ff00" stroke-width="1.2"/>
<line x1="132.1" y1="382.27" x2="132.1" y2="390.37" stroke="#00ff00" stroke-width="1.2"/>
<line x1="132.7" y1="381.38" x2="132.7" y2="390.98" stroke="#00ff00" stroke-width="1.2"/>
<line x1="133.3" y1="381.54" x2="133.3" y2="387.98" stroke="#00ff00" stroke-width="1.2"/>
<line x1="133.9" y1="380.83" x2="133.9" y2="389.16" stroke="#00ff00" stroke-width="1.2"/>
<line x1="134.5" y1="381.39" x2="134.5" y2="390.7" stroke="#00ff00" stroke-width="1.2"/>
<line x1="135.1" y1="382.54" x2="135.1" y2="390.49" stroke="#00ff00" stroke-width="1.2"/>
<line x1="135.7" y1="381.66" x2="135.7" y2="391.63" stroke="#00ff00" stroke-width="1.2"/>
<line x1="136.3" y1="380.75" x2="136.3" y2="392.46" stroke="#00ff00" stroke-width="1.2"/>
<line x1="136.9" y1="383.1" x2="136.9" y2="389.37" stroke="#00ff00" stroke-width="1.2"/>
<line x1="137.5" y1="380.63" x2="137.5" y2="392.14" stroke="#00ff00" stroke-width="1.2"/>
<line x1="138.1" y1="381.55" x2="138.1" y2="390.71" stroke="#00ff00" stroke-width="1.2"/>
<line x1="138.7" y1="382.26" x2="138.7" y2="390.67" stroke="#00ff00" stroke-width="1.2"/>
<line x1="139.3" y1="380.26" x2="139.3" y2="391.04" stroke="#00ff00" stroke-width="1.2"/>
<line x1="139.9" y1="377.06" x2="139.9" y2="392.3" stroke="#00ff00" stroke-width="1.2"/>
<line x1="140.5" y1="381.2" x2="140.5" y2="388.77" stroke="#00ff00" stroke-width="1.2"/>
<line x1="141.1" y1="378.97" x2="141.1" y2="388.86" stroke="#00ff00" stroke-width="1.2"/>
<line x1="141.7" y1="378" x2="141.7" y2="390.49" stroke="#00ff00" stroke-width="1.2"/>
<line x1="142.3" y1="379.64" x2="142.3" y2="390.59" stroke="#00ff00" stroke-width="1.2"/>
<line x1="142.9" y1="378.33" x2="142.9" y2="389.3" stroke="#00ff00" stroke-width="1.2"/>
<line x1="143.5" y1="378.69" x2="143.5" y2="389.74" stroke="#00ff00" stroke-width="1.2"/>
<line x1="144.1" y1="379.99" x2="144.1" y2="388" stroke="#00ff00" stroke-width="1.2"/>
<line x1="144.7" y1="376.71" x2="144.7" y2="393.22" stroke="#00ff00" stroke-width="1.2"/>
<line x1="145.3" y1="377.61" x2="145.3" y2="392.1" stroke="#00ff00" stroke-width="1.2"/>
<line x1="143.6" y1="369.6" x2="143.6" y2="388" stroke="#00ff00" stroke-width="1.5"/>
<line x1="142.4" y1="373.5" x2="142.4" y2="390" stroke="#00ff00" stroke-width="1.4"/>
<line x1="64.5" y1="385.82" x2="68.5" y2="385.82" stroke="#000" stroke-width="1.4"/>
<line x1="212" y1="380.94" x2="212" y2="387.41" stroke="#ff00ff" stroke-width="1.5"/>
<line x1="210.5" y1="384.18" x2="213.5" y2="384.18" stroke="#ff00ff" stroke-width="1.5"/>
<line x1="217.98" y1="374.42" x2="217.98" y2="382.58" stroke="#ff00ff" stroke-width="1.5"/>
<line x1="216.48" y1="378.5" x2="219.48" y2="378.5" stroke="#ff00ff" stroke-width="1.5"/>
<line x1="221.94" y1="379.89" x2="221.94" y2="387.22" stroke="#ff00ff" stroke-width="1.5"/>
<line x1="220.44" y1="383.56" x2="223.44" y2="383.56" stroke="#ff00ff" stroke-width="1.5"/>
<line x1="226.07" y1="381.78" x2="226.07" y2="390.59" stroke="#ff00ff" stroke-width="1.5"/>
<line x1="224.57" y1="386.18" x2="227.57" y2="386.18" stroke="#ff00ff" stroke-width="1.5"/>
<line x1="231.71" y1="375.98" x2="231.71" y2="384.5" stroke="#ff00ff" stroke-width="1.5"/>
<line x1="230.21" y1="380.24" x2="233.21" y2="380.24" stroke="#ff00ff" stroke-width="1.5"/>
<line x1="236.06" y1="382.16" x2="236.06" y2="389.53" stroke="#ff00ff" stroke-width="1.5"/>
<line x1="234.56" y1="385.84" x2="237.56" y2="385.84" stroke="#ff00ff" stroke-width="1.5"/>
<line x1="240.84" y1="378.81" x2="240.84" y2="385.3" stroke="#ff00ff" stroke-width="1.5"/>
<line x1="239.34" y1="382.06" x2="242.34" y2="382.06" stroke="#ff00ff" stroke-width="1.5"/>
<line x1="246.82" y1="376.34" x2="246.82" y2="382.85" stroke="#ff00ff" stroke-width="1.5"/>
<line x1="245.32" y1="379.6" x2="248.32" y2="379.6" stroke="#ff00ff" stroke-width="1.5"/>
<line x1="252.46" y1="378.99" x2="252.46" y2="385.66" stroke="#ff00ff" stroke-width="1.5"/>
<line x1="250.96" y1="382.32" x2="253.96" y2="382.32" stroke="#ff00ff" stroke-width="1.5"/>
<line x1="257.63" y1="375.57" x2="257.63" y2="385.01" stroke="#ff00ff" stroke-width="1.5"/>
<line x1="256.13" y1="380.29" x2="259.13" y2="380.29" stroke="#ff00ff" stroke-width="1.5"/>
<line x1="262.8" y1="374.3" x2="266.6" y2="374.3" stroke="#ff00ff" stroke-width="1.6"/>
<line x1="264.7" y1="371.4" x2="264.7" y2="379.3" stroke="#ff00ff" stroke-width="1.6"/>
<line x1="258.2" y1="392.1" x2="261.8" y2="392.1" stroke="#ff00ff" stroke-width="1.6"/>
<line x1="260" y1="389.3" x2="260" y2="395.7" stroke="#ff00ff" stroke-width="1.6"/>
<line x1="257.8" y1="389" x2="261.2" y2="389" stroke="#ff00ff" stroke-width="1.5"/>
<line x1="259.5" y1="383" x2="259.5" y2="393" stroke="#ff00ff" stroke-width="1.5"/>
<line x1="233" y1="379.5" x2="233" y2="388.27" stroke="#00ffff" stroke-width="1.5"/>
<line x1="231.5" y1="383.88" x2="234.5" y2="383.88" stroke="#00ffff" stroke-width="1.5"/>
<line x1="239.85" y1="384.73" x2="239.85" y2="392.8" stroke="#00ffff" stroke-width="1.5"/>
<line x1="238.35" y1="388.77" x2="241.35" y2="388.77" stroke="#00ffff" stroke-width="1.5"/>
<line x1="246.43" y1="392.3" x2="246.43" y2="400.41" stroke="#00ffff" stroke-width="1.5"/>
<line x1="244.93" y1="396.36" x2="247.93" y2="396.36" stroke="#00ffff" stroke-width="1.5"/>
<line x1="252.86" y1="387.53" x2="252.86" y2="394.38" stroke="#00ffff" stroke-width="1.5"/>
<line x1="251.36" y1="390.95" x2="254.36" y2="390.95" stroke="#00ffff" stroke-width="1.5"/>
<line x1="259.3" y1="375.7" x2="263.6" y2="375.7" stroke="#00ffff" stroke-width="1.6"/>
<line x1="261.4" y1="371.4" x2="261.4" y2="380" stroke="#00ffff" stroke-width="1.6"/>
<line x1="237.6" y1="393" x2="241" y2="393" stroke="#00ffff" stroke-width="1.5"/>
<line x1="239.3" y1="390.7" x2="239.3" y2="396" stroke="#00ffff" stroke-width="1.5"/>
<path d="M209 386.5 L209.64 386.47 L210.52 386.42 L211.56 386.37 L212.7 386.31 L213.87 386.25 L215 386.2 L216.06 386.15 L217.09 386.1 L218.15 386.06 L219.29 386.01 L220.56 385.96 L222 385.9 L223.72 385.84 L225.68 385.78 L227.77 385.71 L229.87 385.64 L231.86 385.57 L233.6 385.5 L235.08 385.42 L236.4 385.34 L237.59 385.26 L238.73 385.17 L239.84 385.08 L241 385 L242.21 384.89 L243.44 384.76 L244.66 384.62 L245.83 384.52 L246.92 384.47 L247.9 384.5 L248.76 384.63 L249.51 384.85 L250.19 385.12 L250.82 385.42 L251.41 385.72 L252 386 L252.55 386.28 L253.03 386.57 L253.49 386.87 L253.94 387.16 L254.44 387.41 L255 387.6 L255.66 387.74 L256.39 387.86 L257.16 387.93 L257.93 387.97 L258.66 387.96 L259.3 387.9 L259.85 387.77 L260.34 387.57 L260.79 387.32 L261.21 387.06 L261.64 386.81 L262.1 386.6 L262.56 386.44 L263.01 386.3 L263.46 386.17 L263.93 386.05 L264.43 385.93 L265 385.8 L265.6 385.66 L266.23 385.52 L266.89 385.38 L267.61 385.24 L268.41 385.11 L269.3 385 L270.32 384.9 L271.46 384.8 L272.67 384.71 L273.92 384.64 L275.18 384.6 L276.4 384.6 L277.64 384.66 L278.93 384.78 L280.23 384.93 L281.48 385.07 L282.62 385.17 L283.6 385.2 L284.4 385.15 L285.06 385.04 L285.61 384.9 L286.09 384.73 L286.54 384.56 L287 384.4 L287.44 384.22 L287.83 384 L288.19 383.77 L288.54 383.58 L288.91 383.44 L289.3 383.4 L289.72 383.51 L290.16 383.74 L290.61 384.04 L291.06 384.33 L291.53 384.54 L292 384.6 L292.48 384.49 L292.98 384.27 L293.49 383.96 L294 383.62 L294.5 383.29 L295 383 L295.52 382.74 L296.08 382.47 L296.64 382.2 L297.15 381.96 L297.59 381.75 L297.9 381.6" fill="none" stroke="#000" stroke-width="2.3" stroke-linejoin="round"/>
<path d="M297.9 381.6 L299.5 379 L300.5 383 L302 377.5 L303.2 382.5 L304.5 375 L305.3 383 L305.9 373 L306.8 383 L308.2 364.6 L309.2 382 L310.3 368.5 L311.2 381.5 L312.2 350 L313.2 381 L313.9 362 L314.5 419 L315.2 384 L316 360 L316.9 385 L317.8 344.5 L318.5 384 L319.3 342.6 L319.9 388 L320.6 333 L321.4 386 L322.2 334 L322.8 390" fill="none" stroke="#000" stroke-width="1.35" stroke-linejoin="miter" stroke-miterlimit="10"/>
<line x1="314.5" y1="384" x2="314.5" y2="419" stroke="#000" stroke-width="1.7"/>
<line x1="228.8" y1="378.5" x2="233.2" y2="378.5" stroke="#0000ff" stroke-width="1.5"/>
<line x1="231" y1="375.7" x2="231" y2="381.3" stroke="#0000ff" stroke-width="1.5"/>
<line x1="240.6" y1="381.5" x2="245.4" y2="381.5" stroke="#0000ff" stroke-width="1.5"/>
<line x1="243" y1="378.5" x2="243" y2="384.5" stroke="#0000ff" stroke-width="1.5"/>
<line x1="252.9" y1="379.3" x2="258.1" y2="379.3" stroke="#0000ff" stroke-width="1.5"/>
<line x1="255.5" y1="375.9" x2="255.5" y2="382.7" stroke="#0000ff" stroke-width="1.5"/>
<line x1="276.4" y1="387.1" x2="280.8" y2="387.1" stroke="#0000ff" stroke-width="1.5"/>
<line x1="278.6" y1="384.5" x2="278.6" y2="389.7" stroke="#0000ff" stroke-width="1.5"/>
<line x1="283.5" y1="389" x2="287.9" y2="389" stroke="#0000ff" stroke-width="1.5"/>
<line x1="285.7" y1="386.4" x2="285.7" y2="391.6" stroke="#0000ff" stroke-width="1.5"/>
<line x1="289.7" y1="384.5" x2="294.5" y2="384.5" stroke="#0000ff" stroke-width="1.5"/>
<line x1="292.1" y1="381.1" x2="292.1" y2="387.9" stroke="#0000ff" stroke-width="1.5"/>
<line x1="296" y1="387.1" x2="301.2" y2="387.1" stroke="#0000ff" stroke-width="1.5"/>
<line x1="298.6" y1="382.9" x2="298.6" y2="391.3" stroke="#0000ff" stroke-width="1.5"/>
<line x1="219.2" y1="385.6" x2="222.8" y2="385.6" stroke="#ff0000" stroke-width="1.6"/>
<line x1="221" y1="383.4" x2="221" y2="387.8" stroke="#ff0000" stroke-width="1.6"/>
<line x1="225.7" y1="384.8" x2="229.3" y2="384.8" stroke="#ff0000" stroke-width="1.6"/>
<line x1="227.5" y1="382.6" x2="227.5" y2="387" stroke="#ff0000" stroke-width="1.6"/>
<line x1="231.1" y1="382.9" x2="234.7" y2="382.9" stroke="#ff0000" stroke-width="1.6"/>
<line x1="232.9" y1="380.7" x2="232.9" y2="385.1" stroke="#ff0000" stroke-width="1.6"/>
<line x1="236.8" y1="384.3" x2="240.4" y2="384.3" stroke="#ff0000" stroke-width="1.6"/>
<line x1="238.6" y1="382.1" x2="238.6" y2="386.5" stroke="#ff0000" stroke-width="1.6"/>
<line x1="240.7" y1="385.2" x2="244.3" y2="385.2" stroke="#ff0000" stroke-width="1.6"/>
<line x1="242.5" y1="383" x2="242.5" y2="387.4" stroke="#ff0000" stroke-width="1.6"/>
<line x1="244.6" y1="385.7" x2="248.2" y2="385.7" stroke="#ff0000" stroke-width="1.6"/>
<line x1="246.4" y1="383.5" x2="246.4" y2="387.9" stroke="#ff0000" stroke-width="1.6"/>
<line x1="248.2" y1="384.4" x2="251.8" y2="384.4" stroke="#ff0000" stroke-width="1.6"/>
<line x1="250" y1="382.2" x2="250" y2="386.6" stroke="#ff0000" stroke-width="1.6"/>
<line x1="250.3" y1="382.9" x2="253.9" y2="382.9" stroke="#ff0000" stroke-width="1.6"/>
<line x1="252.1" y1="380.7" x2="252.1" y2="385.1" stroke="#ff0000" stroke-width="1.6"/>
<line x1="254.6" y1="384.3" x2="258.2" y2="384.3" stroke="#ff0000" stroke-width="1.6"/>
<line x1="256.4" y1="382.1" x2="256.4" y2="386.5" stroke="#ff0000" stroke-width="1.6"/>
<line x1="256.1" y1="383.6" x2="259.7" y2="383.6" stroke="#ff0000" stroke-width="1.6"/>
<line x1="257.9" y1="381.4" x2="257.9" y2="385.8" stroke="#ff0000" stroke-width="1.6"/>
<line x1="259.6" y1="382.6" x2="263.2" y2="382.6" stroke="#ff0000" stroke-width="1.6"/>
<line x1="261.4" y1="380.4" x2="261.4" y2="384.8" stroke="#ff0000" stroke-width="1.6"/>
<line x1="263.2" y1="380.7" x2="266.8" y2="380.7" stroke="#ff0000" stroke-width="1.6"/>
<line x1="265" y1="378.5" x2="265" y2="382.9" stroke="#ff0000" stroke-width="1.6"/>
<line x1="267.5" y1="381.4" x2="271.1" y2="381.4" stroke="#ff0000" stroke-width="1.6"/>
<line x1="269.3" y1="379.2" x2="269.3" y2="383.6" stroke="#ff0000" stroke-width="1.6"/>
<line x1="271.1" y1="382.1" x2="274.7" y2="382.1" stroke="#ff0000" stroke-width="1.6"/>
<line x1="272.9" y1="379.9" x2="272.9" y2="384.3" stroke="#ff0000" stroke-width="1.6"/>
<line x1="275.3" y1="383.6" x2="278.9" y2="383.6" stroke="#ff0000" stroke-width="1.6"/>
<line x1="277.1" y1="381.4" x2="277.1" y2="385.8" stroke="#ff0000" stroke-width="1.6"/>
<line x1="278.9" y1="385.7" x2="282.5" y2="385.7" stroke="#ff0000" stroke-width="1.6"/>
<line x1="280.7" y1="383.5" x2="280.7" y2="387.9" stroke="#ff0000" stroke-width="1.6"/>
<line x1="282.5" y1="388.3" x2="286.1" y2="388.3" stroke="#ff0000" stroke-width="1.6"/>
<line x1="284.3" y1="386.1" x2="284.3" y2="390.5" stroke="#ff0000" stroke-width="1.6"/>
<line x1="287.5" y1="389.7" x2="291.1" y2="389.7" stroke="#ff0000" stroke-width="1.6"/>
<line x1="289.3" y1="387.5" x2="289.3" y2="391.9" stroke="#ff0000" stroke-width="1.6"/>
<line x1="291.8" y1="392.9" x2="295.4" y2="392.9" stroke="#ff0000" stroke-width="1.6"/>
<line x1="293.6" y1="390.7" x2="293.6" y2="395.1" stroke="#ff0000" stroke-width="1.6"/>
<line x1="295.3" y1="394.3" x2="298.9" y2="394.3" stroke="#ff0000" stroke-width="1.6"/>
<line x1="297.1" y1="392.1" x2="297.1" y2="396.5" stroke="#ff0000" stroke-width="1.6"/>
<line x1="299.6" y1="398.6" x2="303.2" y2="398.6" stroke="#ff0000" stroke-width="1.6"/>
<line x1="301.4" y1="396.4" x2="301.4" y2="400.8" stroke="#ff0000" stroke-width="1.6"/>
<line x1="302.5" y1="399.3" x2="306.1" y2="399.3" stroke="#ff0000" stroke-width="1.6"/>
<line x1="304.3" y1="397.1" x2="304.3" y2="401.5" stroke="#ff0000" stroke-width="1.6"/>
<line x1="306.8" y1="402.9" x2="310.4" y2="402.9" stroke="#ff0000" stroke-width="1.6"/>
<line x1="308.6" y1="400.7" x2="308.6" y2="405.1" stroke="#ff0000" stroke-width="1.6"/>
<line x1="312.6" y1="415.4" x2="318.4" y2="415.4" stroke="#ff0000" stroke-width="1.6"/>
<line x1="315.5" y1="411" x2="315.5" y2="423" stroke="#ff0000" stroke-width="1.6"/>
<line x1="302.6" y1="394" x2="312.6" y2="394" stroke="#0000ff" stroke-width="1.7"/>
<line x1="307.4" y1="388.6" x2="307.4" y2="400.1" stroke="#0000ff" stroke-width="1.7"/>
<line x1="312.6" y1="394.7" x2="320.5" y2="394.7" stroke="#0000ff" stroke-width="1.7"/>
<line x1="317.4" y1="388.6" x2="317.4" y2="403" stroke="#0000ff" stroke-width="1.7"/>
<line x1="317.4" y1="396.3" x2="323.8" y2="396.3" stroke="#ff0000" stroke-width="1.7"/>
<line x1="320.3" y1="387.6" x2="320.3" y2="404.9" stroke="#ff0000" stroke-width="1.7"/>
<line x1="323.8" y1="373.9" x2="336.4" y2="373.9" stroke="#0000ff" stroke-width="1.7"/>
<line x1="330.3" y1="361.3" x2="330.3" y2="386.5" stroke="#0000ff" stroke-width="1.7"/>
<line x1="323.9" y1="407.9" x2="336.5" y2="407.9" stroke="#ff0000" stroke-width="1.7"/>
<line x1="330.3" y1="394.4" x2="330.3" y2="423" stroke="#ff0000" stroke-width="1.7"/>
<line x1="336.2" y1="390" x2="347" y2="390" stroke="#0000ff" stroke-width="1.7"/>
<line x1="341.8" y1="359.5" x2="341.8" y2="423" stroke="#0000ff" stroke-width="1.7"/>
<line x1="336.2" y1="414.3" x2="350" y2="414.3" stroke="#ff0000" stroke-width="1.7"/>
<line x1="343.3" y1="375.5" x2="343.3" y2="423" stroke="#ff0000" stroke-width="1.7"/>
<line x1="347.5" y1="391.3" x2="364.5" y2="391.3" stroke="#0000ff" stroke-width="1.7"/>
<line x1="356.3" y1="336" x2="356.3" y2="423" stroke="#0000ff" stroke-width="1.7"/>
<line x1="350" y1="355.8" x2="364.5" y2="355.8" stroke="#ff0000" stroke-width="1.7"/>
<line x1="357.6" y1="331" x2="357.6" y2="423" stroke="#ff0000" stroke-width="1.7"/>
<line x1="370.9" y1="331" x2="370.9" y2="423" stroke="#ff0000" stroke-width="1.7"/>
<line x1="387.1" y1="331" x2="387.1" y2="423" stroke="#0000ff" stroke-width="1.7"/>
</g>
<line x1="74.7" y1="1.15" x2="74.7" y2="6.45" stroke="#000" stroke-width="1.7"/>
<line x1="74.7" y1="332.9" x2="74.7" y2="327.2" stroke="#000" stroke-width="1.7"/>
<line x1="97.14" y1="1.15" x2="97.14" y2="6.45" stroke="#000" stroke-width="1.7"/>
<line x1="97.14" y1="332.9" x2="97.14" y2="327.2" stroke="#000" stroke-width="1.7"/>
<line x1="113.05" y1="1.15" x2="113.05" y2="6.45" stroke="#000" stroke-width="1.7"/>
<line x1="113.05" y1="332.9" x2="113.05" y2="327.2" stroke="#000" stroke-width="1.7"/>
<line x1="125.4" y1="1.15" x2="125.4" y2="6.45" stroke="#000" stroke-width="1.7"/>
<line x1="125.4" y1="332.9" x2="125.4" y2="327.2" stroke="#000" stroke-width="1.7"/>
<line x1="135.49" y1="1.15" x2="135.49" y2="6.45" stroke="#000" stroke-width="1.7"/>
<line x1="135.49" y1="332.9" x2="135.49" y2="327.2" stroke="#000" stroke-width="1.7"/>
<line x1="144.02" y1="1.15" x2="144.02" y2="6.45" stroke="#000" stroke-width="1.7"/>
<line x1="144.02" y1="332.9" x2="144.02" y2="327.2" stroke="#000" stroke-width="1.7"/>
<line x1="151.4" y1="1.15" x2="151.4" y2="6.45" stroke="#000" stroke-width="1.7"/>
<line x1="151.4" y1="332.9" x2="151.4" y2="327.2" stroke="#000" stroke-width="1.7"/>
<line x1="157.92" y1="1.15" x2="157.92" y2="6.45" stroke="#000" stroke-width="1.7"/>
<line x1="157.92" y1="332.9" x2="157.92" y2="327.2" stroke="#000" stroke-width="1.7"/>
<line x1="163.75" y1="1.15" x2="163.75" y2="11.75" stroke="#000" stroke-width="1.7"/>
<line x1="163.75" y1="332.9" x2="163.75" y2="321.9" stroke="#000" stroke-width="1.7"/>
<line x1="202.1" y1="1.15" x2="202.1" y2="6.45" stroke="#000" stroke-width="1.7"/>
<line x1="202.1" y1="332.9" x2="202.1" y2="327.2" stroke="#000" stroke-width="1.7"/>
<line x1="224.54" y1="1.15" x2="224.54" y2="6.45" stroke="#000" stroke-width="1.7"/>
<line x1="224.54" y1="332.9" x2="224.54" y2="327.2" stroke="#000" stroke-width="1.7"/>
<line x1="240.45" y1="1.15" x2="240.45" y2="6.45" stroke="#000" stroke-width="1.7"/>
<line x1="240.45" y1="332.9" x2="240.45" y2="327.2" stroke="#000" stroke-width="1.7"/>
<line x1="252.8" y1="1.15" x2="252.8" y2="6.45" stroke="#000" stroke-width="1.7"/>
<line x1="252.8" y1="332.9" x2="252.8" y2="327.2" stroke="#000" stroke-width="1.7"/>
<line x1="262.89" y1="1.15" x2="262.89" y2="6.45" stroke="#000" stroke-width="1.7"/>
<line x1="262.89" y1="332.9" x2="262.89" y2="327.2" stroke="#000" stroke-width="1.7"/>
<line x1="271.42" y1="1.15" x2="271.42" y2="6.45" stroke="#000" stroke-width="1.7"/>
<line x1="271.42" y1="332.9" x2="271.42" y2="327.2" stroke="#000" stroke-width="1.7"/>
<line x1="278.8" y1="1.15" x2="278.8" y2="6.45" stroke="#000" stroke-width="1.7"/>
<line x1="278.8" y1="332.9" x2="278.8" y2="327.2" stroke="#000" stroke-width="1.7"/>
<line x1="285.32" y1="1.15" x2="285.32" y2="6.45" stroke="#000" stroke-width="1.7"/>
<line x1="285.32" y1="332.9" x2="285.32" y2="327.2" stroke="#000" stroke-width="1.7"/>
<line x1="291.15" y1="1.15" x2="291.15" y2="11.75" stroke="#000" stroke-width="1.7"/>
<line x1="291.15" y1="332.9" x2="291.15" y2="321.9" stroke="#000" stroke-width="1.7"/>
<line x1="329.5" y1="1.15" x2="329.5" y2="6.45" stroke="#000" stroke-width="1.7"/>
<line x1="329.5" y1="332.9" x2="329.5" y2="327.2" stroke="#000" stroke-width="1.7"/>
<line x1="351.94" y1="1.15" x2="351.94" y2="6.45" stroke="#000" stroke-width="1.7"/>
<line x1="351.94" y1="332.9" x2="351.94" y2="327.2" stroke="#000" stroke-width="1.7"/>
<line x1="367.85" y1="1.15" x2="367.85" y2="6.45" stroke="#000" stroke-width="1.7"/>
<line x1="367.85" y1="332.9" x2="367.85" y2="327.2" stroke="#000" stroke-width="1.7"/>
<line x1="380.2" y1="1.15" x2="380.2" y2="6.45" stroke="#000" stroke-width="1.7"/>
<line x1="380.2" y1="332.9" x2="380.2" y2="327.2" stroke="#000" stroke-width="1.7"/>
<line x1="390.29" y1="1.15" x2="390.29" y2="6.45" stroke="#000" stroke-width="1.7"/>
<line x1="390.29" y1="332.9" x2="390.29" y2="327.2" stroke="#000" stroke-width="1.7"/>
<line x1="398.82" y1="1.15" x2="398.82" y2="6.45" stroke="#000" stroke-width="1.7"/>
<line x1="398.82" y1="332.9" x2="398.82" y2="327.2" stroke="#000" stroke-width="1.7"/>
<line x1="406.2" y1="1.15" x2="406.2" y2="6.45" stroke="#000" stroke-width="1.7"/>
<line x1="406.2" y1="332.9" x2="406.2" y2="327.2" stroke="#000" stroke-width="1.7"/>
<line x1="412.72" y1="1.15" x2="412.72" y2="6.45" stroke="#000" stroke-width="1.7"/>
<line x1="412.72" y1="332.9" x2="412.72" y2="327.2" stroke="#000" stroke-width="1.7"/>
<line x1="62.1" y1="294.62" x2="67.1" y2="294.62" stroke="#000" stroke-width="1.7"/>
<line x1="417.25" y1="294.62" x2="412.25" y2="294.62" stroke="#000" stroke-width="1.7"/>
<line x1="62.1" y1="272.17" x2="67.1" y2="272.17" stroke="#000" stroke-width="1.7"/>
<line x1="417.25" y1="272.17" x2="412.25" y2="272.17" stroke="#000" stroke-width="1.7"/>
<line x1="62.1" y1="256.24" x2="67.1" y2="256.24" stroke="#000" stroke-width="1.7"/>
<line x1="417.25" y1="256.24" x2="412.25" y2="256.24" stroke="#000" stroke-width="1.7"/>
<line x1="62.1" y1="243.88" x2="67.1" y2="243.88" stroke="#000" stroke-width="1.7"/>
<line x1="417.25" y1="243.88" x2="412.25" y2="243.88" stroke="#000" stroke-width="1.7"/>
<line x1="62.1" y1="233.79" x2="67.1" y2="233.79" stroke="#000" stroke-width="1.7"/>
<line x1="417.25" y1="233.79" x2="412.25" y2="233.79" stroke="#000" stroke-width="1.7"/>
<line x1="62.1" y1="225.25" x2="67.1" y2="225.25" stroke="#000" stroke-width="1.7"/>
<line x1="417.25" y1="225.25" x2="412.25" y2="225.25" stroke="#000" stroke-width="1.7"/>
<line x1="62.1" y1="217.86" x2="67.1" y2="217.86" stroke="#000" stroke-width="1.7"/>
<line x1="417.25" y1="217.86" x2="412.25" y2="217.86" stroke="#000" stroke-width="1.7"/>
<line x1="62.1" y1="211.33" x2="67.1" y2="211.33" stroke="#000" stroke-width="1.7"/>
<line x1="417.25" y1="211.33" x2="412.25" y2="211.33" stroke="#000" stroke-width="1.7"/>
<line x1="62.1" y1="205.5" x2="72.8" y2="205.5" stroke="#000" stroke-width="1.7"/>
<line x1="417.25" y1="205.5" x2="406.55" y2="205.5" stroke="#000" stroke-width="1.7"/>
<line x1="62.1" y1="167.12" x2="67.1" y2="167.12" stroke="#000" stroke-width="1.7"/>
<line x1="417.25" y1="167.12" x2="412.25" y2="167.12" stroke="#000" stroke-width="1.7"/>
<line x1="62.1" y1="144.67" x2="67.1" y2="144.67" stroke="#000" stroke-width="1.7"/>
<line x1="417.25" y1="144.67" x2="412.25" y2="144.67" stroke="#000" stroke-width="1.7"/>
<line x1="62.1" y1="128.74" x2="67.1" y2="128.74" stroke="#000" stroke-width="1.7"/>
<line x1="417.25" y1="128.74" x2="412.25" y2="128.74" stroke="#000" stroke-width="1.7"/>
<line x1="62.1" y1="116.38" x2="67.1" y2="116.38" stroke="#000" stroke-width="1.7"/>
<line x1="417.25" y1="116.38" x2="412.25" y2="116.38" stroke="#000" stroke-width="1.7"/>
<line x1="62.1" y1="106.29" x2="67.1" y2="106.29" stroke="#000" stroke-width="1.7"/>
<line x1="417.25" y1="106.29" x2="412.25" y2="106.29" stroke="#000" stroke-width="1.7"/>
<line x1="62.1" y1="97.75" x2="67.1" y2="97.75" stroke="#000" stroke-width="1.7"/>
<line x1="417.25" y1="97.75" x2="412.25" y2="97.75" stroke="#000" stroke-width="1.7"/>
<line x1="62.1" y1="90.36" x2="67.1" y2="90.36" stroke="#000" stroke-width="1.7"/>
<line x1="417.25" y1="90.36" x2="412.25" y2="90.36" stroke="#000" stroke-width="1.7"/>
<line x1="62.1" y1="83.83" x2="67.1" y2="83.83" stroke="#000" stroke-width="1.7"/>
<line x1="417.25" y1="83.83" x2="412.25" y2="83.83" stroke="#000" stroke-width="1.7"/>
<line x1="62.1" y1="78" x2="72.8" y2="78" stroke="#000" stroke-width="1.7"/>
<line x1="417.25" y1="78" x2="406.55" y2="78" stroke="#000" stroke-width="1.7"/>
<line x1="62.1" y1="39.62" x2="67.1" y2="39.62" stroke="#000" stroke-width="1.7"/>
<line x1="417.25" y1="39.62" x2="412.25" y2="39.62" stroke="#000" stroke-width="1.7"/>
<line x1="62.1" y1="17.17" x2="67.1" y2="17.17" stroke="#000" stroke-width="1.7"/>
<line x1="417.25" y1="17.17" x2="412.25" y2="17.17" stroke="#000" stroke-width="1.7"/>
<line x1="72.61" y1="332.9" x2="72.61" y2="338" stroke="#000" stroke-width="1.7"/>
<line x1="72.61" y1="421.6" x2="72.61" y2="416.5" stroke="#000" stroke-width="1.7"/>
<line x1="89.76" y1="332.9" x2="89.76" y2="338" stroke="#000" stroke-width="1.7"/>
<line x1="89.76" y1="421.6" x2="89.76" y2="416.5" stroke="#000" stroke-width="1.7"/>
<line x1="103.07" y1="332.9" x2="103.07" y2="338" stroke="#000" stroke-width="1.7"/>
<line x1="103.07" y1="421.6" x2="103.07" y2="416.5" stroke="#000" stroke-width="1.7"/>
<line x1="113.94" y1="332.9" x2="113.94" y2="338" stroke="#000" stroke-width="1.7"/>
<line x1="113.94" y1="421.6" x2="113.94" y2="416.5" stroke="#000" stroke-width="1.7"/>
<line x1="123.13" y1="332.9" x2="123.13" y2="338" stroke="#000" stroke-width="1.7"/>
<line x1="123.13" y1="421.6" x2="123.13" y2="416.5" stroke="#000" stroke-width="1.7"/>
<line x1="131.09" y1="332.9" x2="131.09" y2="338" stroke="#000" stroke-width="1.7"/>
<line x1="131.09" y1="421.6" x2="131.09" y2="416.5" stroke="#000" stroke-width="1.7"/>
<line x1="138.12" y1="332.9" x2="138.12" y2="338" stroke="#000" stroke-width="1.7"/>
<line x1="138.12" y1="421.6" x2="138.12" y2="416.5" stroke="#000" stroke-width="1.7"/>
<line x1="144.4" y1="332.9" x2="144.4" y2="343.2" stroke="#000" stroke-width="1.7"/>
<line x1="144.4" y1="421.6" x2="144.4" y2="411.3" stroke="#000" stroke-width="1.7"/>
<line x1="185.73" y1="332.9" x2="185.73" y2="338" stroke="#000" stroke-width="1.7"/>
<line x1="185.73" y1="421.6" x2="185.73" y2="416.5" stroke="#000" stroke-width="1.7"/>
<line x1="209.91" y1="332.9" x2="209.91" y2="338" stroke="#000" stroke-width="1.7"/>
<line x1="209.91" y1="421.6" x2="209.91" y2="416.5" stroke="#000" stroke-width="1.7"/>
<line x1="227.06" y1="332.9" x2="227.06" y2="338" stroke="#000" stroke-width="1.7"/>
<line x1="227.06" y1="421.6" x2="227.06" y2="416.5" stroke="#000" stroke-width="1.7"/>
<line x1="240.37" y1="332.9" x2="240.37" y2="338" stroke="#000" stroke-width="1.7"/>
<line x1="240.37" y1="421.6" x2="240.37" y2="416.5" stroke="#000" stroke-width="1.7"/>
<line x1="251.24" y1="332.9" x2="251.24" y2="338" stroke="#000" stroke-width="1.7"/>
<line x1="251.24" y1="421.6" x2="251.24" y2="416.5" stroke="#000" stroke-width="1.7"/>
<line x1="260.43" y1="332.9" x2="260.43" y2="338" stroke="#000" stroke-width="1.7"/>
<line x1="260.43" y1="421.6" x2="260.43" y2="416.5" stroke="#000" stroke-width="1.7"/>
<line x1="268.39" y1="332.9" x2="268.39" y2="338" stroke="#000" stroke-width="1.7"/>
<line x1="268.39" y1="421.6" x2="268.39" y2="416.5" stroke="#000" stroke-width="1.7"/>
<line x1="275.42" y1="332.9" x2="275.42" y2="338" stroke="#000" stroke-width="1.7"/>
<line x1="275.42" y1="421.6" x2="275.42" y2="416.5" stroke="#000" stroke-width="1.7"/>
<line x1="281.7" y1="332.9" x2="281.7" y2="343.2" stroke="#000" stroke-width="1.7"/>
<line x1="281.7" y1="421.6" x2="281.7" y2="411.3" stroke="#000" stroke-width="1.7"/>
<line x1="323.03" y1="332.9" x2="323.03" y2="338" stroke="#000" stroke-width="1.7"/>
<line x1="323.03" y1="421.6" x2="323.03" y2="416.5" stroke="#000" stroke-width="1.7"/>
<line x1="347.21" y1="332.9" x2="347.21" y2="338" stroke="#000" stroke-width="1.7"/>
<line x1="347.21" y1="421.6" x2="347.21" y2="416.5" stroke="#000" stroke-width="1.7"/>
<line x1="364.36" y1="332.9" x2="364.36" y2="338" stroke="#000" stroke-width="1.7"/>
<line x1="364.36" y1="421.6" x2="364.36" y2="416.5" stroke="#000" stroke-width="1.7"/>
<line x1="377.67" y1="332.9" x2="377.67" y2="338" stroke="#000" stroke-width="1.7"/>
<line x1="377.67" y1="421.6" x2="377.67" y2="416.5" stroke="#000" stroke-width="1.7"/>
<line x1="388.54" y1="332.9" x2="388.54" y2="338" stroke="#000" stroke-width="1.7"/>
<line x1="388.54" y1="421.6" x2="388.54" y2="416.5" stroke="#000" stroke-width="1.7"/>
<line x1="397.73" y1="332.9" x2="397.73" y2="338" stroke="#000" stroke-width="1.7"/>
<line x1="397.73" y1="421.6" x2="397.73" y2="416.5" stroke="#000" stroke-width="1.7"/>
<line x1="405.69" y1="332.9" x2="405.69" y2="338" stroke="#000" stroke-width="1.7"/>
<line x1="405.69" y1="421.6" x2="405.69" y2="416.5" stroke="#000" stroke-width="1.7"/>
<line x1="412.72" y1="332.9" x2="412.72" y2="338" stroke="#000" stroke-width="1.7"/>
<line x1="412.72" y1="421.6" x2="412.72" y2="416.5" stroke="#000" stroke-width="1.7"/>
<line x1="62.1" y1="418.05" x2="67.1" y2="418.05" stroke="#000" stroke-width="1.7"/>
<line x1="417.25" y1="418.05" x2="412.25" y2="418.05" stroke="#000" stroke-width="1.7"/>
<line x1="62.1" y1="414.5" x2="67.1" y2="414.5" stroke="#000" stroke-width="1.7"/>
<line x1="417.25" y1="414.5" x2="412.25" y2="414.5" stroke="#000" stroke-width="1.7"/>
<line x1="62.1" y1="410.96" x2="67.1" y2="410.96" stroke="#000" stroke-width="1.7"/>
<line x1="417.25" y1="410.96" x2="412.25" y2="410.96" stroke="#000" stroke-width="1.7"/>
<line x1="62.1" y1="407.41" x2="67.1" y2="407.41" stroke="#000" stroke-width="1.7"/>
<line x1="417.25" y1="407.41" x2="412.25" y2="407.41" stroke="#000" stroke-width="1.7"/>
<line x1="62.1" y1="403.86" x2="72.8" y2="403.86" stroke="#000" stroke-width="1.7"/>
<line x1="417.25" y1="403.86" x2="406.55" y2="403.86" stroke="#000" stroke-width="1.7"/>
<line x1="62.1" y1="400.31" x2="67.1" y2="400.31" stroke="#000" stroke-width="1.7"/>
<line x1="417.25" y1="400.31" x2="412.25" y2="400.31" stroke="#000" stroke-width="1.7"/>
<line x1="62.1" y1="396.76" x2="67.1" y2="396.76" stroke="#000" stroke-width="1.7"/>
<line x1="417.25" y1="396.76" x2="412.25" y2="396.76" stroke="#000" stroke-width="1.7"/>
<line x1="62.1" y1="393.22" x2="67.1" y2="393.22" stroke="#000" stroke-width="1.7"/>
<line x1="417.25" y1="393.22" x2="412.25" y2="393.22" stroke="#000" stroke-width="1.7"/>
<line x1="62.1" y1="389.67" x2="67.1" y2="389.67" stroke="#000" stroke-width="1.7"/>
<line x1="417.25" y1="389.67" x2="412.25" y2="389.67" stroke="#000" stroke-width="1.7"/>
<line x1="62.1" y1="386.12" x2="72.8" y2="386.12" stroke="#000" stroke-width="1.7"/>
<line x1="417.25" y1="386.12" x2="406.55" y2="386.12" stroke="#000" stroke-width="1.7"/>
<line x1="62.1" y1="382.57" x2="67.1" y2="382.57" stroke="#000" stroke-width="1.7"/>
<line x1="417.25" y1="382.57" x2="412.25" y2="382.57" stroke="#000" stroke-width="1.7"/>
<line x1="62.1" y1="379.02" x2="67.1" y2="379.02" stroke="#000" stroke-width="1.7"/>
<line x1="417.25" y1="379.02" x2="412.25" y2="379.02" stroke="#000" stroke-width="1.7"/>
<line x1="62.1" y1="375.48" x2="67.1" y2="375.48" stroke="#000" stroke-width="1.7"/>
<line x1="417.25" y1="375.48" x2="412.25" y2="375.48" stroke="#000" stroke-width="1.7"/>
<line x1="62.1" y1="371.93" x2="67.1" y2="371.93" stroke="#000" stroke-width="1.7"/>
<line x1="417.25" y1="371.93" x2="412.25" y2="371.93" stroke="#000" stroke-width="1.7"/>
<line x1="62.1" y1="368.38" x2="72.8" y2="368.38" stroke="#000" stroke-width="1.7"/>
<line x1="417.25" y1="368.38" x2="406.55" y2="368.38" stroke="#000" stroke-width="1.7"/>
<line x1="62.1" y1="364.83" x2="67.1" y2="364.83" stroke="#000" stroke-width="1.7"/>
<line x1="417.25" y1="364.83" x2="412.25" y2="364.83" stroke="#000" stroke-width="1.7"/>
<line x1="62.1" y1="361.28" x2="67.1" y2="361.28" stroke="#000" stroke-width="1.7"/>
<line x1="417.25" y1="361.28" x2="412.25" y2="361.28" stroke="#000" stroke-width="1.7"/>
<line x1="62.1" y1="357.74" x2="67.1" y2="357.74" stroke="#000" stroke-width="1.7"/>
<line x1="417.25" y1="357.74" x2="412.25" y2="357.74" stroke="#000" stroke-width="1.7"/>
<line x1="62.1" y1="354.19" x2="67.1" y2="354.19" stroke="#000" stroke-width="1.7"/>
<line x1="417.25" y1="354.19" x2="412.25" y2="354.19" stroke="#000" stroke-width="1.7"/>
<line x1="62.1" y1="350.64" x2="72.8" y2="350.64" stroke="#000" stroke-width="1.7"/>
<line x1="417.25" y1="350.64" x2="406.55" y2="350.64" stroke="#000" stroke-width="1.7"/>
<line x1="62.1" y1="347.09" x2="67.1" y2="347.09" stroke="#000" stroke-width="1.7"/>
<line x1="417.25" y1="347.09" x2="412.25" y2="347.09" stroke="#000" stroke-width="1.7"/>
<line x1="62.1" y1="343.54" x2="67.1" y2="343.54" stroke="#000" stroke-width="1.7"/>
<line x1="417.25" y1="343.54" x2="412.25" y2="343.54" stroke="#000" stroke-width="1.7"/>
<line x1="62.1" y1="340" x2="67.1" y2="340" stroke="#000" stroke-width="1.7"/>
<line x1="417.25" y1="340" x2="412.25" y2="340" stroke="#000" stroke-width="1.7"/>
<line x1="62.1" y1="336.45" x2="67.1" y2="336.45" stroke="#000" stroke-width="1.7"/>
<line x1="417.25" y1="336.45" x2="412.25" y2="336.45" stroke="#000" stroke-width="1.7"/>
<path d="M62.1 1.15 V421.6 H417.25 V1.15 Z M62.1 332.9 H417.25" fill="none" stroke="#000" stroke-width="1.9"/>
<text x="34.7" y="84.1" font-size="18.4" font-family="Liberation Serif, serif" stroke="#000" stroke-width="0.8" stroke-linejoin="round" text-anchor="start" textLength="17.3" lengthAdjust="spacingAndGlyphs" >10</text>
<text x="44.2" y="211.6" font-size="18.4" font-family="Liberation Serif, serif" stroke="#000" stroke-width="0.8" stroke-linejoin="round" text-anchor="start" textLength="7.2" lengthAdjust="spacingAndGlyphs" >1</text>
<text x="29.6" y="356.7" font-size="18.4" font-family="Liberation Serif, serif" stroke="#000" stroke-width="0.8" stroke-linejoin="round" text-anchor="start" textLength="22.4" lengthAdjust="spacingAndGlyphs" >1.2</text>
<text x="29.6" y="374.4" font-size="18.4" font-family="Liberation Serif, serif" stroke="#000" stroke-width="0.8" stroke-linejoin="round" text-anchor="start" textLength="22.4" lengthAdjust="spacingAndGlyphs" >1.1</text>
<text x="27.8" y="409.9" font-size="18.4" font-family="Liberation Serif, serif" stroke="#000" stroke-width="0.8" stroke-linejoin="round" text-anchor="start" textLength="24.2" lengthAdjust="spacingAndGlyphs" >0.9</text>
<text x="27.8" y="427.6" font-size="18.4" font-family="Liberation Serif, serif" stroke="#000" stroke-width="0.8" stroke-linejoin="round" text-anchor="start" textLength="24.2" lengthAdjust="spacingAndGlyphs" >0.8</text>
<text x="44.2" y="392.2" font-size="18.4" font-family="Liberation Serif, serif" stroke="#000" stroke-width="0.8" stroke-linejoin="round" text-anchor="start" textLength="7.2" lengthAdjust="spacingAndGlyphs" >1</text>
<text x="136.4" y="442.4" font-size="18.4" font-family="Liberation Serif, serif" stroke="#000" stroke-width="0.8" stroke-linejoin="round" text-anchor="start" textLength="17.3" lengthAdjust="spacingAndGlyphs" >10</text>
<text x="268.9" y="442.4" font-size="18.4" font-family="Liberation Serif, serif" stroke="#000" stroke-width="0.8" stroke-linejoin="round" text-anchor="start" textLength="27.2" lengthAdjust="spacingAndGlyphs" >100</text>
<text x="206.7" y="463.6" font-size="18.3" font-family="Liberation Serif, serif" stroke="#000" stroke-width="0.8" stroke-linejoin="round" text-anchor="start" textLength="11.6" lengthAdjust="spacingAndGlyphs" font-style="italic" font-weight="bold">E</text>
<text x="227.6" y="463.6" font-size="18.3" font-family="Liberation Serif, serif" stroke="#000" stroke-width="0.8" stroke-linejoin="round" text-anchor="start" textLength="44.8" lengthAdjust="spacingAndGlyphs" >[keV]</text>
<text x="82" y="311.6" font-size="21.8" font-family="Liberation Sans, sans-serif" font-weight="bold" text-anchor="start" textLength="12.4" lengthAdjust="spacingAndGlyphs" >a</text>
<g transform="translate(19.2 252) rotate(-90)">
<text x="0" y="0" font-size="18.3" font-family="Liberation Serif, serif" stroke="#000" stroke-width="0.8" stroke-linejoin="round" text-anchor="start" textLength="10.4" lengthAdjust="spacingAndGlyphs" font-style="italic" font-weight="bold">E</text>
<text x="18.3" y="0" font-size="18.3" font-family="Liberation Serif, serif" stroke="#000" stroke-width="0.8" stroke-linejoin="round" text-anchor="start" textLength="11.4" lengthAdjust="spacingAndGlyphs" font-style="italic" font-weight="bold">F</text>
<text x="29.4" y="4.5" font-size="11.5" font-family="Liberation Serif, serif" stroke="#000" stroke-width="0.8" stroke-linejoin="round" text-anchor="start" textLength="6.6" lengthAdjust="spacingAndGlyphs" font-style="italic" font-weight="bold">E</text>
<text x="45.3" y="0" font-size="18.3" font-family="Liberation Serif, serif" stroke="#000" stroke-width="0.8" stroke-linejoin="round" text-anchor="start" textLength="5" lengthAdjust="spacingAndGlyphs" >[</text>
<text x="53.2" y="0" font-size="18.3" font-family="Liberation Serif, serif" stroke="#000" stroke-width="0.8" stroke-linejoin="round" text-anchor="start" textLength="33" lengthAdjust="spacingAndGlyphs" >keV</text>
<text x="92.3" y="0" font-size="18.3" font-family="Liberation Serif, serif" stroke="#000" stroke-width="0.8" stroke-linejoin="round" text-anchor="start" textLength="24.3" lengthAdjust="spacingAndGlyphs" >cm</text>
<text x="117.8" y="-5.3" font-size="12" font-family="Liberation Serif, serif" stroke="#000" stroke-width="0.8" stroke-linejoin="round" text-anchor="start" textLength="12.8" lengthAdjust="spacingAndGlyphs" >−2</text>
<text x="139.5" y="0" font-size="18.3" font-family="Liberation Serif, serif" stroke="#000" stroke-width="0.8" stroke-linejoin="round" text-anchor="start" textLength="8.9" lengthAdjust="spacingAndGlyphs" >s</text>
<text x="148.8" y="-5.3" font-size="12" font-family="Liberation Serif, serif" stroke="#000" stroke-width="0.8" stroke-linejoin="round" text-anchor="start" textLength="11.2" lengthAdjust="spacingAndGlyphs" >−1</text>
<text x="162.6" y="0" font-size="18.3" font-family="Liberation Serif, serif" stroke="#000" stroke-width="0.8" stroke-linejoin="round" text-anchor="start" textLength="5" lengthAdjust="spacingAndGlyphs" >]</text>
</g>
<g transform="translate(15.8 428) rotate(-90)">
<text x="0" y="0" font-size="17.6" font-family="Liberation Sans, sans-serif" stroke="#000" stroke-width="0.7" stroke-linejoin="round" text-anchor="start" textLength="102" lengthAdjust="spacingAndGlyphs" >data/model</text>
</g>
</svg>
</body></html>
